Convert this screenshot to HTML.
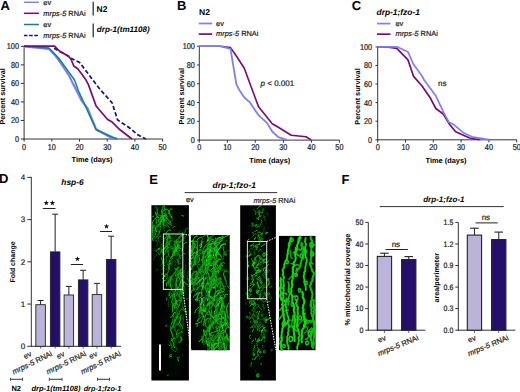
<!DOCTYPE html>
<html><head><meta charset="utf-8"><style>
html,body{margin:0;padding:0;background:#fff;width:520px;height:392px;overflow:hidden}
svg{display:block}
text{font-family:"Liberation Sans",sans-serif;text-rendering:geometricPrecision}
</style></head><body>
<svg width="520" height="392" viewBox="0 0 520 392">
<text x="0.5" y="9.8" font-size="13" font-weight="bold" font-style="normal" text-anchor="start" fill="#000">A</text>
<line x1="23.9" y1="2.3" x2="38.9" y2="2.3" stroke="#7f7ff5" stroke-width="1.5"/>
<text x="43.3" y="5.2" font-size="7.4" font-weight="normal" font-style="normal" text-anchor="start" fill="#222" stroke="#222" stroke-width="0.2">ev</text>
<line x1="23.9" y1="13.3" x2="38.9" y2="13.3" stroke="#780a78" stroke-width="1.5"/>
<text x="43.3" y="16.0" font-size="7.4" font-weight="normal" font-style="normal" text-anchor="start" fill="#222" stroke="#222" stroke-width="0.2"><tspan font-style="italic">mrps-5</tspan> RNAi</text>
<line x1="23.9" y1="24.5" x2="38.9" y2="24.5" stroke="#10808f" stroke-width="1.5"/>
<text x="43.3" y="27.2" font-size="7.4" font-weight="normal" font-style="normal" text-anchor="start" fill="#222" stroke="#222" stroke-width="0.2">ev</text>
<line x1="23.9" y1="35.5" x2="38.9" y2="35.5" stroke="#101080" stroke-width="1.5" stroke-dasharray="3.6 1.6"/>
<text x="43.3" y="38.2" font-size="7.4" font-weight="normal" font-style="normal" text-anchor="start" fill="#222" stroke="#222" stroke-width="0.2"><tspan font-style="italic">mrps-5</tspan> RNAi</text>
<line x1="93.2" y1="1.7" x2="93.2" y2="15.6" stroke="#222" stroke-width="1.2"/>
<text x="96.6" y="11.9" font-size="8.5" font-weight="bold" font-style="normal" text-anchor="start" fill="#000">N2</text>
<line x1="93.2" y1="23.6" x2="93.2" y2="37.2" stroke="#222" stroke-width="1.2"/>
<text x="96.8" y="32.2" font-size="8.1" font-weight="bold" font-style="italic" text-anchor="start" fill="#000">drp-1(tm1108)</text>
<line x1="24.1" y1="46.3" x2="24.1" y2="139.5" stroke="#333" stroke-width="1"/>
<line x1="23.6" y1="139.0" x2="162.6" y2="139.0" stroke="#333" stroke-width="1"/>
<line x1="20.8" y1="139.0" x2="24.1" y2="139.0" stroke="#333" stroke-width="1"/>
<text x="0" y="0" font-size="7.3" font-weight="normal" font-style="normal" text-anchor="end" fill="#222" transform="translate(19.0 142.0) scale(1 1.15)" stroke="#222" stroke-width="0.2">0</text>
<line x1="20.8" y1="120.46000000000001" x2="24.1" y2="120.46000000000001" stroke="#333" stroke-width="1"/>
<text x="0" y="0" font-size="7.3" font-weight="normal" font-style="normal" text-anchor="end" fill="#222" transform="translate(19.0 123.46000000000001) scale(1 1.15)" stroke="#222" stroke-width="0.2">20</text>
<line x1="20.8" y1="101.92" x2="24.1" y2="101.92" stroke="#333" stroke-width="1"/>
<text x="0" y="0" font-size="7.3" font-weight="normal" font-style="normal" text-anchor="end" fill="#222" transform="translate(19.0 104.92) scale(1 1.15)" stroke="#222" stroke-width="0.2">40</text>
<line x1="20.8" y1="83.38" x2="24.1" y2="83.38" stroke="#333" stroke-width="1"/>
<text x="0" y="0" font-size="7.3" font-weight="normal" font-style="normal" text-anchor="end" fill="#222" transform="translate(19.0 86.38) scale(1 1.15)" stroke="#222" stroke-width="0.2">60</text>
<line x1="20.8" y1="64.84" x2="24.1" y2="64.84" stroke="#333" stroke-width="1"/>
<text x="0" y="0" font-size="7.3" font-weight="normal" font-style="normal" text-anchor="end" fill="#222" transform="translate(19.0 67.84) scale(1 1.15)" stroke="#222" stroke-width="0.2">80</text>
<line x1="20.8" y1="46.3" x2="24.1" y2="46.3" stroke="#333" stroke-width="1"/>
<text x="0" y="0" font-size="7.3" font-weight="normal" font-style="normal" text-anchor="end" fill="#222" transform="translate(19.0 49.3) scale(1 1.15)" stroke="#222" stroke-width="0.2">100</text>
<line x1="24.1" y1="139.0" x2="24.1" y2="141.6" stroke="#333" stroke-width="1"/>
<text x="0" y="0" font-size="7.3" font-weight="normal" font-style="normal" text-anchor="middle" fill="#222" transform="translate(24.1 150.10000000000002) scale(1 1.15)" stroke="#222" stroke-width="0.2">0</text>
<line x1="51.8" y1="139.0" x2="51.8" y2="141.6" stroke="#333" stroke-width="1"/>
<text x="0" y="0" font-size="7.3" font-weight="normal" font-style="normal" text-anchor="middle" fill="#222" transform="translate(51.8 150.10000000000002) scale(1 1.15)" stroke="#222" stroke-width="0.2">10</text>
<line x1="79.5" y1="139.0" x2="79.5" y2="141.6" stroke="#333" stroke-width="1"/>
<text x="0" y="0" font-size="7.3" font-weight="normal" font-style="normal" text-anchor="middle" fill="#222" transform="translate(79.5 150.10000000000002) scale(1 1.15)" stroke="#222" stroke-width="0.2">20</text>
<line x1="107.19999999999999" y1="139.0" x2="107.19999999999999" y2="141.6" stroke="#333" stroke-width="1"/>
<text x="0" y="0" font-size="7.3" font-weight="normal" font-style="normal" text-anchor="middle" fill="#222" transform="translate(107.19999999999999 150.10000000000002) scale(1 1.15)" stroke="#222" stroke-width="0.2">30</text>
<line x1="134.9" y1="139.0" x2="134.9" y2="141.6" stroke="#333" stroke-width="1"/>
<text x="0" y="0" font-size="7.3" font-weight="normal" font-style="normal" text-anchor="middle" fill="#222" transform="translate(134.9 150.10000000000002) scale(1 1.15)" stroke="#222" stroke-width="0.2">40</text>
<line x1="162.6" y1="139.0" x2="162.6" y2="141.6" stroke="#333" stroke-width="1"/>
<text x="0" y="0" font-size="7.3" font-weight="normal" font-style="normal" text-anchor="middle" fill="#222" transform="translate(162.6 150.10000000000002) scale(1 1.15)" stroke="#222" stroke-width="0.2">50</text>
<text x="5.5" y="96.4" font-size="7.3" font-weight="bold" font-style="normal" text-anchor="middle" fill="#000" transform="rotate(-90 5.5 96.4)">Percent survival</text>
<text x="92" y="162.0" font-size="7.4" font-weight="bold" font-style="normal" text-anchor="middle" fill="#000">Time (days)</text>
<path d="M24.1,46.5 L48.8,48.8 L54.6,54.6 L61.3,63.8 L69.1,75.6 L72.9,83.6 L81.3,100.0 L87.7,108.6 L96.1,129.2 L112.2,138.2 L118.3,139.0" fill="none" stroke="#7f7ff5" stroke-width="2.2" stroke-linejoin="round"/>
<path d="M24.1,46.3 L48.8,48.0 L58.4,57.8 L69.1,72.4 L74.5,80.0 L78.3,90.5 L96.1,129.8 L116.8,139.0" fill="none" stroke="#10808f" stroke-width="1.5" stroke-linejoin="round"/>
<path d="M54.1,48.2 L58.6,50.9 L68.1,55.9 L71.4,58.6 L75.8,60.7 L79.6,62.6 L83.0,66.9 L88.8,74.6 L99.7,89.0 L112.2,103.0 L117.5,119.8 L129.0,127.5 L138.2,135.1 L145.8,139.0" fill="none" stroke="#101080" stroke-width="1.7" stroke-linejoin="round" stroke-dasharray="4.2 2.3"/>
<path d="M24.1,46.1 L54.5,46.1 L59.4,51.0 L68.1,55.9 L71.0,59.2 L73.8,66.0 L77.7,68.8 L81.5,73.7 L85.9,79.8 L88.4,84.6 L96.1,106.0 L107.6,119.5 L112.2,122.1 L119.0,129.0 L132.0,139.0" fill="none" stroke="#780a78" stroke-width="1.7" stroke-linejoin="round"/>
<text x="177" y="9.8" font-size="13" font-weight="bold" font-style="normal" text-anchor="start" fill="#000">B</text>
<text x="199.1" y="14.8" font-size="8.5" font-weight="bold" font-style="normal" text-anchor="start" fill="#000">N2</text>
<line x1="198.8" y1="23.5" x2="212.2" y2="23.5" stroke="#7f7ff5" stroke-width="1.7"/>
<text x="216.1" y="26.4" font-size="7.4" font-weight="normal" font-style="normal" text-anchor="start" fill="#222" stroke="#222" stroke-width="0.2">ev</text>
<line x1="198.8" y1="34.1" x2="212.2" y2="34.1" stroke="#780a78" stroke-width="1.7"/>
<text x="216.1" y="36.4" font-size="7.4" font-weight="normal" font-style="normal" text-anchor="start" fill="#222" stroke="#222" stroke-width="0.2"><tspan font-style="italic">mrps-5</tspan> RNAi</text>
<line x1="199.3" y1="46.2" x2="199.3" y2="140.6" stroke="#333" stroke-width="1"/>
<line x1="198.8" y1="140.1" x2="339.4" y2="140.1" stroke="#333" stroke-width="1"/>
<line x1="197.10000000000002" y1="140.1" x2="199.3" y2="140.1" stroke="#333" stroke-width="1"/>
<text x="0" y="0" font-size="7.3" font-weight="normal" font-style="normal" text-anchor="end" fill="#222" transform="translate(194.9 143.1) scale(1 1.15)" stroke="#222" stroke-width="0.2">0</text>
<line x1="197.10000000000002" y1="121.32" x2="199.3" y2="121.32" stroke="#333" stroke-width="1"/>
<text x="0" y="0" font-size="7.3" font-weight="normal" font-style="normal" text-anchor="end" fill="#222" transform="translate(194.9 124.32) scale(1 1.15)" stroke="#222" stroke-width="0.2">20</text>
<line x1="197.10000000000002" y1="102.53999999999999" x2="199.3" y2="102.53999999999999" stroke="#333" stroke-width="1"/>
<text x="0" y="0" font-size="7.3" font-weight="normal" font-style="normal" text-anchor="end" fill="#222" transform="translate(194.9 105.53999999999999) scale(1 1.15)" stroke="#222" stroke-width="0.2">40</text>
<line x1="197.10000000000002" y1="83.75999999999999" x2="199.3" y2="83.75999999999999" stroke="#333" stroke-width="1"/>
<text x="0" y="0" font-size="7.3" font-weight="normal" font-style="normal" text-anchor="end" fill="#222" transform="translate(194.9 86.75999999999999) scale(1 1.15)" stroke="#222" stroke-width="0.2">60</text>
<line x1="197.10000000000002" y1="64.98" x2="199.3" y2="64.98" stroke="#333" stroke-width="1"/>
<text x="0" y="0" font-size="7.3" font-weight="normal" font-style="normal" text-anchor="end" fill="#222" transform="translate(194.9 67.98) scale(1 1.15)" stroke="#222" stroke-width="0.2">80</text>
<line x1="197.10000000000002" y1="46.2" x2="199.3" y2="46.2" stroke="#333" stroke-width="1"/>
<text x="0" y="0" font-size="7.3" font-weight="normal" font-style="normal" text-anchor="end" fill="#222" transform="translate(194.9 49.2) scale(1 1.15)" stroke="#222" stroke-width="0.2">100</text>
<line x1="199.3" y1="140.1" x2="199.3" y2="142.7" stroke="#333" stroke-width="1"/>
<text x="0" y="0" font-size="7.3" font-weight="normal" font-style="normal" text-anchor="middle" fill="#222" transform="translate(199.3 150.4) scale(1 1.15)" stroke="#222" stroke-width="0.2">0</text>
<line x1="227.32" y1="140.1" x2="227.32" y2="142.7" stroke="#333" stroke-width="1"/>
<text x="0" y="0" font-size="7.3" font-weight="normal" font-style="normal" text-anchor="middle" fill="#222" transform="translate(227.32 150.4) scale(1 1.15)" stroke="#222" stroke-width="0.2">10</text>
<line x1="255.34" y1="140.1" x2="255.34" y2="142.7" stroke="#333" stroke-width="1"/>
<text x="0" y="0" font-size="7.3" font-weight="normal" font-style="normal" text-anchor="middle" fill="#222" transform="translate(255.34 150.4) scale(1 1.15)" stroke="#222" stroke-width="0.2">20</text>
<line x1="283.36" y1="140.1" x2="283.36" y2="142.7" stroke="#333" stroke-width="1"/>
<text x="0" y="0" font-size="7.3" font-weight="normal" font-style="normal" text-anchor="middle" fill="#222" transform="translate(283.36 150.4) scale(1 1.15)" stroke="#222" stroke-width="0.2">30</text>
<line x1="311.38" y1="140.1" x2="311.38" y2="142.7" stroke="#333" stroke-width="1"/>
<text x="0" y="0" font-size="7.3" font-weight="normal" font-style="normal" text-anchor="middle" fill="#222" transform="translate(311.38 150.4) scale(1 1.15)" stroke="#222" stroke-width="0.2">40</text>
<line x1="339.4" y1="140.1" x2="339.4" y2="142.7" stroke="#333" stroke-width="1"/>
<text x="0" y="0" font-size="7.3" font-weight="normal" font-style="normal" text-anchor="middle" fill="#222" transform="translate(339.4 150.4) scale(1 1.15)" stroke="#222" stroke-width="0.2">50</text>
<text x="184.1" y="96.2" font-size="7.3" font-weight="bold" font-style="normal" text-anchor="middle" fill="#000" transform="rotate(-90 184.1 96.2)">Percent survival</text>
<text x="269.8" y="162.7" font-size="7.4" font-weight="bold" font-style="normal" text-anchor="middle" fill="#000">Time (days)</text>
<path d="M199.3,46.2 L220.1,46.2 L230.5,47.6 L235.5,54.7 L244.3,68.3 L252.3,90.0 L258.4,106.4 L272.2,123.7 L278.3,127.2 L291.2,135.3 L306.0,136.7 L311.1,139.9" fill="none" stroke="#780a78" stroke-width="1.6" stroke-linejoin="round"/>
<path d="M199.3,46.2 L220.1,46.2 L230.5,48.8 L236.4,84.4 L239.3,90.0 L244.5,97.8 L249.7,102.1 L258.4,115.1 L267.0,122.9 L272.2,131.5 L278.3,137.1 L286.9,139.9" fill="none" stroke="#7f7ff5" stroke-width="1.8" stroke-linejoin="round"/>
<text x="260.6" y="86.2" font-size="8" font-weight="normal" font-style="normal" text-anchor="start" fill="#222" stroke="#222" stroke-width="0.2"><tspan font-style="italic">p</tspan> &lt; 0.001</text>
<text x="351.7" y="9.8" font-size="13" font-weight="bold" font-style="normal" text-anchor="start" fill="#000">C</text>
<text x="376.6" y="14.9" font-size="8.4" font-weight="bold" font-style="italic" text-anchor="start" fill="#000">drp-1;fzo-1</text>
<line x1="377" y1="23.6" x2="390.4" y2="23.6" stroke="#7f7ff5" stroke-width="1.7"/>
<text x="395.5" y="26.3" font-size="7.4" font-weight="normal" font-style="normal" text-anchor="start" fill="#222" stroke="#222" stroke-width="0.2">ev</text>
<line x1="377" y1="34.2" x2="390.4" y2="34.2" stroke="#780a78" stroke-width="1.7"/>
<text x="395.5" y="36.4" font-size="7.4" font-weight="normal" font-style="normal" text-anchor="start" fill="#222" stroke="#222" stroke-width="0.2"><tspan font-style="italic">mrps-5</tspan> RNAi</text>
<line x1="377.7" y1="46.9" x2="377.7" y2="140.3" stroke="#333" stroke-width="1"/>
<line x1="377.2" y1="139.8" x2="516.7" y2="139.8" stroke="#333" stroke-width="1"/>
<line x1="375.5" y1="139.8" x2="377.7" y2="139.8" stroke="#333" stroke-width="1"/>
<text x="0" y="0" font-size="7.3" font-weight="normal" font-style="normal" text-anchor="end" fill="#222" transform="translate(372.09999999999997 142.8) scale(1 1.15)" stroke="#222" stroke-width="0.2">0</text>
<line x1="375.5" y1="121.22000000000001" x2="377.7" y2="121.22000000000001" stroke="#333" stroke-width="1"/>
<text x="0" y="0" font-size="7.3" font-weight="normal" font-style="normal" text-anchor="end" fill="#222" transform="translate(372.09999999999997 124.22000000000001) scale(1 1.15)" stroke="#222" stroke-width="0.2">20</text>
<line x1="375.5" y1="102.64000000000001" x2="377.7" y2="102.64000000000001" stroke="#333" stroke-width="1"/>
<text x="0" y="0" font-size="7.3" font-weight="normal" font-style="normal" text-anchor="end" fill="#222" transform="translate(372.09999999999997 105.64000000000001) scale(1 1.15)" stroke="#222" stroke-width="0.2">40</text>
<line x1="375.5" y1="84.06" x2="377.7" y2="84.06" stroke="#333" stroke-width="1"/>
<text x="0" y="0" font-size="7.3" font-weight="normal" font-style="normal" text-anchor="end" fill="#222" transform="translate(372.09999999999997 87.06) scale(1 1.15)" stroke="#222" stroke-width="0.2">60</text>
<line x1="375.5" y1="65.48" x2="377.7" y2="65.48" stroke="#333" stroke-width="1"/>
<text x="0" y="0" font-size="7.3" font-weight="normal" font-style="normal" text-anchor="end" fill="#222" transform="translate(372.09999999999997 68.48) scale(1 1.15)" stroke="#222" stroke-width="0.2">80</text>
<line x1="375.5" y1="46.900000000000006" x2="377.7" y2="46.900000000000006" stroke="#333" stroke-width="1"/>
<text x="0" y="0" font-size="7.3" font-weight="normal" font-style="normal" text-anchor="end" fill="#222" transform="translate(372.09999999999997 49.900000000000006) scale(1 1.15)" stroke="#222" stroke-width="0.2">100</text>
<line x1="377.7" y1="139.8" x2="377.7" y2="142.4" stroke="#333" stroke-width="1"/>
<text x="0" y="0" font-size="7.3" font-weight="normal" font-style="normal" text-anchor="middle" fill="#222" transform="translate(377.7 150.10000000000002) scale(1 1.15)" stroke="#222" stroke-width="0.2">0</text>
<line x1="405.5" y1="139.8" x2="405.5" y2="142.4" stroke="#333" stroke-width="1"/>
<text x="0" y="0" font-size="7.3" font-weight="normal" font-style="normal" text-anchor="middle" fill="#222" transform="translate(405.5 150.10000000000002) scale(1 1.15)" stroke="#222" stroke-width="0.2">10</text>
<line x1="433.3" y1="139.8" x2="433.3" y2="142.4" stroke="#333" stroke-width="1"/>
<text x="0" y="0" font-size="7.3" font-weight="normal" font-style="normal" text-anchor="middle" fill="#222" transform="translate(433.3 150.10000000000002) scale(1 1.15)" stroke="#222" stroke-width="0.2">20</text>
<line x1="461.1" y1="139.8" x2="461.1" y2="142.4" stroke="#333" stroke-width="1"/>
<text x="0" y="0" font-size="7.3" font-weight="normal" font-style="normal" text-anchor="middle" fill="#222" transform="translate(461.1 150.10000000000002) scale(1 1.15)" stroke="#222" stroke-width="0.2">30</text>
<line x1="488.90000000000003" y1="139.8" x2="488.90000000000003" y2="142.4" stroke="#333" stroke-width="1"/>
<text x="0" y="0" font-size="7.3" font-weight="normal" font-style="normal" text-anchor="middle" fill="#222" transform="translate(488.90000000000003 150.10000000000002) scale(1 1.15)" stroke="#222" stroke-width="0.2">40</text>
<line x1="516.7" y1="139.8" x2="516.7" y2="142.4" stroke="#333" stroke-width="1"/>
<text x="0" y="0" font-size="7.3" font-weight="normal" font-style="normal" text-anchor="middle" fill="#222" transform="translate(516.7 150.10000000000002) scale(1 1.15)" stroke="#222" stroke-width="0.2">50</text>
<text x="360.2" y="96.5" font-size="7.3" font-weight="bold" font-style="normal" text-anchor="middle" fill="#000" transform="rotate(-90 360.2 96.5)">Percent survival</text>
<text x="446" y="163.3" font-size="7.4" font-weight="bold" font-style="normal" text-anchor="middle" fill="#000">Time (days)</text>
<path d="M377.7,46.9 L388.4,47.2 L396.8,48.4 L408.0,59.9 L413.6,76.4 L422.0,86.0 L430.0,97.4 L435.8,108.5 L443.2,114.0 L449.9,124.8 L455.7,131.7 L462.3,134.7 L469.8,138.0 L479.7,139.6" fill="none" stroke="#780a78" stroke-width="1.7" stroke-linejoin="round"/>
<path d="M377.7,46.9 L397.6,46.9 L408.0,51.9 L413.6,64.5 L422.0,76.0 L424.1,80.0 L435.8,95.8 L444.0,113.2 L449.0,122.3 L454.0,124.8 L463.9,133.1 L473.0,137.2 L488.8,139.6" fill="none" stroke="#7f7ff5" stroke-width="1.7" stroke-linejoin="round"/>
<text x="438.1" y="85.8" font-size="8" font-weight="normal" font-style="normal" text-anchor="start" fill="#222" stroke="#222" stroke-width="0.2">ns</text>
<text x="-0.9" y="183.25" font-size="13" font-weight="bold" font-style="normal" text-anchor="start" fill="#000">D</text>
<line x1="31.3" y1="176.85" x2="31.3" y2="346.8" stroke="#333" stroke-width="1"/>
<line x1="30.8" y1="346.3" x2="121" y2="346.3" stroke="#333" stroke-width="1"/>
<line x1="27.3" y1="346.3" x2="31.3" y2="346.3" stroke="#333" stroke-width="1"/>
<text x="25.3" y="349.2" font-size="8" font-weight="normal" font-style="normal" text-anchor="end" fill="#222" stroke="#222" stroke-width="0.2">0</text>
<line x1="27.3" y1="304.06" x2="31.3" y2="304.06" stroke="#333" stroke-width="1"/>
<text x="25.3" y="306.96" font-size="8" font-weight="normal" font-style="normal" text-anchor="end" fill="#222" stroke="#222" stroke-width="0.2">1</text>
<line x1="27.3" y1="261.82" x2="31.3" y2="261.82" stroke="#333" stroke-width="1"/>
<text x="25.3" y="264.71999999999997" font-size="8" font-weight="normal" font-style="normal" text-anchor="end" fill="#222" stroke="#222" stroke-width="0.2">2</text>
<line x1="27.3" y1="219.58" x2="31.3" y2="219.58" stroke="#333" stroke-width="1"/>
<text x="25.3" y="222.48000000000002" font-size="8" font-weight="normal" font-style="normal" text-anchor="end" fill="#222" stroke="#222" stroke-width="0.2">3</text>
<line x1="27.3" y1="177.34" x2="31.3" y2="177.34" stroke="#333" stroke-width="1"/>
<text x="25.3" y="180.24" font-size="8" font-weight="normal" font-style="normal" text-anchor="end" fill="#222" stroke="#222" stroke-width="0.2">4</text>
<text x="15" y="262" font-size="7" font-weight="bold" font-style="normal" text-anchor="middle" fill="#000" transform="rotate(-90 15 262)">Fold change</text>
<text x="72.5" y="185.3" font-size="8.4" font-weight="bold" font-style="italic" text-anchor="middle" fill="#000">hsp-6</text>
<line x1="40.6" y1="304.6936" x2="40.6" y2="300.51184" stroke="#222" stroke-width="1"/>
<line x1="37.6" y1="300.51184" x2="43.6" y2="300.51184" stroke="#222" stroke-width="1"/>
<rect x="35.85" y="304.6936" width="9.5" height="41.60640000000001" fill="#bcb4d8" stroke="#222" stroke-width="0.9"/>
<line x1="55.15" y1="251.8936" x2="55.15" y2="214.21552000000003" stroke="#222" stroke-width="1"/>
<line x1="52.15" y1="214.21552000000003" x2="58.15" y2="214.21552000000003" stroke="#222" stroke-width="1"/>
<rect x="50.4" y="251.8936" width="9.5" height="94.40640000000002" fill="#24106a" stroke="#222" stroke-width="0.9"/>
<line x1="68.85" y1="294.9784" x2="68.85" y2="286.40368" stroke="#222" stroke-width="1"/>
<line x1="65.85" y1="286.40368" x2="71.85" y2="286.40368" stroke="#222" stroke-width="1"/>
<rect x="64.1" y="294.9784" width="9.5" height="51.32159999999999" fill="#bcb4d8" stroke="#222" stroke-width="0.9"/>
<line x1="83.15" y1="279.89872" x2="83.15" y2="270.26800000000003" stroke="#222" stroke-width="1"/>
<line x1="80.15" y1="270.26800000000003" x2="86.15" y2="270.26800000000003" stroke="#222" stroke-width="1"/>
<rect x="78.4" y="279.89872" width="9.5" height="66.40127999999999" fill="#24106a" stroke="#222" stroke-width="0.9"/>
<line x1="96.95" y1="294.59824000000003" x2="96.95" y2="283.3624" stroke="#222" stroke-width="1"/>
<line x1="93.95" y1="283.3624" x2="99.95" y2="283.3624" stroke="#222" stroke-width="1"/>
<rect x="92.2" y="294.59824000000003" width="9.5" height="51.70175999999998" fill="#bcb4d8" stroke="#222" stroke-width="0.9"/>
<line x1="111.15" y1="259.4968" x2="111.15" y2="236.18032" stroke="#222" stroke-width="1"/>
<line x1="108.15" y1="236.18032" x2="114.15" y2="236.18032" stroke="#222" stroke-width="1"/>
<rect x="106.4" y="259.4968" width="9.5" height="86.8032" fill="#24106a" stroke="#222" stroke-width="0.9"/>
<polygon points="46.30,200.25 46.98,202.12 48.96,202.18 47.39,203.41 47.95,205.32 46.30,204.20 44.65,205.32 45.21,203.41 43.64,202.18 45.62,202.12" fill="#111"/>
<polygon points="52.40,200.25 53.08,202.12 55.06,202.18 53.49,203.41 54.05,205.32 52.40,204.20 50.75,205.32 51.31,203.41 49.74,202.18 51.72,202.12" fill="#111"/>
<line x1="42.8" y1="208.5" x2="55.5" y2="208.5" stroke="#222" stroke-width="1"/>
<polygon points="77.45,256.15 78.13,258.02 80.11,258.08 78.54,259.31 79.10,261.22 77.45,260.10 75.80,261.22 76.36,259.31 74.79,258.08 76.77,258.02" fill="#111"/>
<line x1="70.8" y1="264.5" x2="83" y2="264.5" stroke="#222" stroke-width="1"/>
<polygon points="106.50,223.65 107.18,225.52 109.16,225.58 107.59,226.81 108.15,228.72 106.50,227.60 104.85,228.72 105.41,226.81 103.84,225.58 105.82,225.52" fill="#111"/>
<line x1="100" y1="231.5" x2="112" y2="231.5" stroke="#222" stroke-width="1"/>
<text x="32.25" y="355.7" font-size="7.6" font-weight="normal" font-style="normal" text-anchor="end" fill="#222" transform="rotate(-26 32.25 355.7)" stroke="#222" stroke-width="0.2">ev</text>
<text x="52.9" y="355.4" font-size="7.6" font-weight="normal" font-style="normal" text-anchor="end" fill="#222" transform="rotate(-26 52.9 355.4)" stroke="#222" stroke-width="0.2"><tspan font-style="italic">mrps-5</tspan> RNAi</text>
<text x="65.15" y="355.7" font-size="7.6" font-weight="normal" font-style="normal" text-anchor="end" fill="#222" transform="rotate(-26 65.15 355.7)" stroke="#222" stroke-width="0.2">ev</text>
<text x="86.9" y="355.4" font-size="7.6" font-weight="normal" font-style="normal" text-anchor="end" fill="#222" transform="rotate(-26 86.9 355.4)" stroke="#222" stroke-width="0.2"><tspan font-style="italic">mrps-5</tspan> RNAi</text>
<text x="97.85" y="355.7" font-size="7.6" font-weight="normal" font-style="normal" text-anchor="end" fill="#222" transform="rotate(-26 97.85 355.7)" stroke="#222" stroke-width="0.2">ev</text>
<text x="121.45" y="355.4" font-size="7.6" font-weight="normal" font-style="normal" text-anchor="end" fill="#222" transform="rotate(-26 121.45 355.4)" stroke="#222" stroke-width="0.2"><tspan font-style="italic">mrps-5</tspan> RNAi</text>
<line x1="40.65" y1="346.3" x2="40.65" y2="348.6" stroke="#333" stroke-width="0.8"/>
<line x1="55.199999999999996" y1="346.3" x2="55.199999999999996" y2="348.6" stroke="#333" stroke-width="0.8"/>
<line x1="68.89999999999999" y1="346.3" x2="68.89999999999999" y2="348.6" stroke="#333" stroke-width="0.8"/>
<line x1="83.2" y1="346.3" x2="83.2" y2="348.6" stroke="#333" stroke-width="0.8"/>
<line x1="97.0" y1="346.3" x2="97.0" y2="348.6" stroke="#333" stroke-width="0.8"/>
<line x1="111.2" y1="346.3" x2="111.2" y2="348.6" stroke="#333" stroke-width="0.8"/>
<line x1="10.6" y1="379.3" x2="22.6" y2="379.3" stroke="#444" stroke-width="1.1"/>
<line x1="10.6" y1="377.8" x2="10.6" y2="380.8" stroke="#444" stroke-width="1"/>
<line x1="22.6" y1="377.8" x2="22.6" y2="380.8" stroke="#444" stroke-width="1"/>
<line x1="49.3" y1="379.3" x2="62" y2="379.3" stroke="#444" stroke-width="1.1"/>
<line x1="49.3" y1="377.8" x2="49.3" y2="380.8" stroke="#444" stroke-width="1"/>
<line x1="62" y1="377.8" x2="62" y2="380.8" stroke="#444" stroke-width="1"/>
<line x1="97.6" y1="379.3" x2="109.5" y2="379.3" stroke="#444" stroke-width="1.1"/>
<line x1="97.6" y1="377.8" x2="97.6" y2="380.8" stroke="#444" stroke-width="1"/>
<line x1="109.5" y1="377.8" x2="109.5" y2="380.8" stroke="#444" stroke-width="1"/>
<text x="16.2" y="390.8" font-size="7.5" font-weight="bold" font-style="normal" text-anchor="middle" fill="#000">N2</text>
<text x="56" y="390.8" font-size="7.5" font-weight="bold" font-style="italic" text-anchor="middle" fill="#000">drp-1(tm1108)</text>
<text x="102.5" y="390.8" font-size="7.3" font-weight="bold" font-style="italic" text-anchor="middle" fill="#000">drp-1;fzo-1</text>
<text x="149.2" y="183.7" font-size="13" font-weight="bold" font-style="normal" text-anchor="start" fill="#000">E</text>
<text x="234.2" y="187.6" font-size="8.4" font-weight="bold" font-style="italic" text-anchor="middle" fill="#000">drp-1;fzo-1</text>
<line x1="184.6" y1="192.6" x2="277.2" y2="192.6" stroke="#333" stroke-width="1"/>
<text x="186" y="202.2" font-size="7.3" font-weight="normal" font-style="normal" text-anchor="start" fill="#222" stroke="#222" stroke-width="0.2">ev</text>
<text x="253.5" y="202.6" font-size="7.3" font-weight="normal" font-style="normal" text-anchor="start" fill="#222" stroke="#222" stroke-width="0.2"><tspan font-style="italic">mrps-5</tspan> RNAi</text>
<defs><filter id="soft" x="-5%" y="-5%" width="110%" height="110%"><feGaussianBlur stdDeviation="0.35"/></filter><filter id="haze" x="-10%" y="-10%" width="120%" height="120%"><feGaussianBlur stdDeviation="3"/></filter></defs><g><rect x="151.4" y="205.2" width="37.5" height="175.3" fill="#000"/><rect x="190.9" y="235.0" width="38.79999999999998" height="115.19999999999999" fill="#000"/><rect x="240.2" y="205.3" width="35.69999999999999" height="175.2" fill="#000"/><rect x="279.0" y="235.9" width="36.5" height="114.29999999999998" fill="#000"/><clipPath id="c151"><rect x="151.4" y="205.2" width="37.5" height="175.3"/></clipPath><g clip-path="url(#c151)"><g filter="url(#haze)"><rect x="151.40" y="205.20" width="6.25" height="12.52" fill="#00b000" fill-opacity="0.126"/><rect x="157.65" y="205.20" width="6.25" height="12.52" fill="#00b000" fill-opacity="0.140"/><rect x="163.90" y="205.20" width="6.25" height="12.52" fill="#00b000" fill-opacity="0.126"/><rect x="170.15" y="205.20" width="6.25" height="12.52" fill="#00b000" fill-opacity="0.070"/><rect x="176.40" y="205.20" width="6.25" height="12.52" fill="#00b000" fill-opacity="0.035"/><rect x="182.65" y="205.20" width="6.25" height="12.52" fill="#00b000" fill-opacity="0.049"/><rect x="151.40" y="217.72" width="6.25" height="12.52" fill="#00b000" fill-opacity="0.140"/><rect x="157.65" y="217.72" width="6.25" height="12.52" fill="#00b000" fill-opacity="0.140"/><rect x="163.90" y="217.72" width="6.25" height="12.52" fill="#00b000" fill-opacity="0.105"/><rect x="170.15" y="217.72" width="6.25" height="12.52" fill="#00b000" fill-opacity="0.056"/><rect x="176.40" y="217.72" width="6.25" height="12.52" fill="#00b000" fill-opacity="0.028"/><rect x="182.65" y="217.72" width="6.25" height="12.52" fill="#00b000" fill-opacity="0.049"/><rect x="151.40" y="230.24" width="6.25" height="12.52" fill="#00b000" fill-opacity="0.105"/><rect x="157.65" y="230.24" width="6.25" height="12.52" fill="#00b000" fill-opacity="0.084"/><rect x="163.90" y="230.24" width="6.25" height="12.52" fill="#00b000" fill-opacity="0.140"/><rect x="170.15" y="230.24" width="6.25" height="12.52" fill="#00b000" fill-opacity="0.140"/><rect x="176.40" y="230.24" width="6.25" height="12.52" fill="#00b000" fill-opacity="0.140"/><rect x="182.65" y="230.24" width="6.25" height="12.52" fill="#00b000" fill-opacity="0.070"/><rect x="151.40" y="242.76" width="6.25" height="12.52" fill="#00b000" fill-opacity="0.056"/><rect x="157.65" y="242.76" width="6.25" height="12.52" fill="#00b000" fill-opacity="0.084"/><rect x="163.90" y="242.76" width="6.25" height="12.52" fill="#00b000" fill-opacity="0.140"/><rect x="170.15" y="242.76" width="6.25" height="12.52" fill="#00b000" fill-opacity="0.140"/><rect x="176.40" y="242.76" width="6.25" height="12.52" fill="#00b000" fill-opacity="0.140"/><rect x="182.65" y="242.76" width="6.25" height="12.52" fill="#00b000" fill-opacity="0.070"/><rect x="151.40" y="255.29" width="6.25" height="12.52" fill="#00b000" fill-opacity="0.028"/><rect x="157.65" y="255.29" width="6.25" height="12.52" fill="#00b000" fill-opacity="0.056"/><rect x="163.90" y="255.29" width="6.25" height="12.52" fill="#00b000" fill-opacity="0.140"/><rect x="170.15" y="255.29" width="6.25" height="12.52" fill="#00b000" fill-opacity="0.175"/><rect x="176.40" y="255.29" width="6.25" height="12.52" fill="#00b000" fill-opacity="0.154"/><rect x="182.65" y="255.29" width="6.25" height="12.52" fill="#00b000" fill-opacity="0.084"/><rect x="151.40" y="267.81" width="6.25" height="12.52" fill="#00b000" fill-opacity="0.014"/><rect x="157.65" y="267.81" width="6.25" height="12.52" fill="#00b000" fill-opacity="0.035"/><rect x="163.90" y="267.81" width="6.25" height="12.52" fill="#00b000" fill-opacity="0.140"/><rect x="170.15" y="267.81" width="6.25" height="12.52" fill="#00b000" fill-opacity="0.175"/><rect x="176.40" y="267.81" width="6.25" height="12.52" fill="#00b000" fill-opacity="0.175"/><rect x="182.65" y="267.81" width="6.25" height="12.52" fill="#00b000" fill-opacity="0.105"/><rect x="151.40" y="280.33" width="6.25" height="12.52" fill="#00b000" fill-opacity="0.007"/><rect x="157.65" y="280.33" width="6.25" height="12.52" fill="#00b000" fill-opacity="0.014"/><rect x="163.90" y="280.33" width="6.25" height="12.52" fill="#00b000" fill-opacity="0.084"/><rect x="170.15" y="280.33" width="6.25" height="12.52" fill="#00b000" fill-opacity="0.140"/><rect x="176.40" y="280.33" width="6.25" height="12.52" fill="#00b000" fill-opacity="0.175"/><rect x="182.65" y="280.33" width="6.25" height="12.52" fill="#00b000" fill-opacity="0.105"/><rect x="157.65" y="292.85" width="6.25" height="12.52" fill="#00b000" fill-opacity="0.007"/><rect x="163.90" y="292.85" width="6.25" height="12.52" fill="#00b000" fill-opacity="0.035"/><rect x="170.15" y="292.85" width="6.25" height="12.52" fill="#00b000" fill-opacity="0.126"/><rect x="176.40" y="292.85" width="6.25" height="12.52" fill="#00b000" fill-opacity="0.154"/><rect x="182.65" y="292.85" width="6.25" height="12.52" fill="#00b000" fill-opacity="0.084"/><rect x="163.90" y="305.37" width="6.25" height="12.52" fill="#00b000" fill-opacity="0.021"/><rect x="170.15" y="305.37" width="6.25" height="12.52" fill="#00b000" fill-opacity="0.126"/><rect x="176.40" y="305.37" width="6.25" height="12.52" fill="#00b000" fill-opacity="0.154"/><rect x="182.65" y="305.37" width="6.25" height="12.52" fill="#00b000" fill-opacity="0.056"/><rect x="163.90" y="317.89" width="6.25" height="12.52" fill="#00b000" fill-opacity="0.014"/><rect x="170.15" y="317.89" width="6.25" height="12.52" fill="#00b000" fill-opacity="0.126"/><rect x="176.40" y="317.89" width="6.25" height="12.52" fill="#00b000" fill-opacity="0.154"/><rect x="182.65" y="317.89" width="6.25" height="12.52" fill="#00b000" fill-opacity="0.028"/><rect x="163.90" y="330.41" width="6.25" height="12.52" fill="#00b000" fill-opacity="0.007"/><rect x="170.15" y="330.41" width="6.25" height="12.52" fill="#00b000" fill-opacity="0.112"/><rect x="176.40" y="330.41" width="6.25" height="12.52" fill="#00b000" fill-opacity="0.126"/><rect x="182.65" y="330.41" width="6.25" height="12.52" fill="#00b000" fill-opacity="0.014"/><rect x="163.90" y="342.94" width="6.25" height="12.52" fill="#00b000" fill-opacity="0.007"/><rect x="170.15" y="342.94" width="6.25" height="12.52" fill="#00b000" fill-opacity="0.098"/><rect x="176.40" y="342.94" width="6.25" height="12.52" fill="#00b000" fill-opacity="0.084"/><rect x="163.90" y="355.46" width="6.25" height="12.52" fill="#00b000" fill-opacity="0.007"/><rect x="170.15" y="355.46" width="6.25" height="12.52" fill="#00b000" fill-opacity="0.077"/><rect x="176.40" y="355.46" width="6.25" height="12.52" fill="#00b000" fill-opacity="0.049"/><rect x="163.90" y="367.98" width="6.25" height="12.52" fill="#00b000" fill-opacity="0.014"/><rect x="170.15" y="367.98" width="6.25" height="12.52" fill="#00b000" fill-opacity="0.063"/><rect x="176.40" y="367.98" width="6.25" height="12.52" fill="#00b000" fill-opacity="0.021"/></g></g><clipPath id="c190"><rect x="190.9" y="235.0" width="38.8" height="115.2"/></clipPath><g clip-path="url(#c190)"><g filter="url(#haze)"><rect x="190.90" y="235.00" width="6.47" height="12.80" fill="#00b000" fill-opacity="0.160"/><rect x="197.37" y="235.00" width="6.47" height="12.80" fill="#00b000" fill-opacity="0.160"/><rect x="203.83" y="235.00" width="6.47" height="12.80" fill="#00b000" fill-opacity="0.120"/><rect x="210.30" y="235.00" width="6.47" height="12.80" fill="#00b000" fill-opacity="0.120"/><rect x="216.77" y="235.00" width="6.47" height="12.80" fill="#00b000" fill-opacity="0.120"/><rect x="223.23" y="235.00" width="6.47" height="12.80" fill="#00b000" fill-opacity="0.120"/><rect x="190.90" y="247.80" width="6.47" height="12.80" fill="#00b000" fill-opacity="0.160"/><rect x="197.37" y="247.80" width="6.47" height="12.80" fill="#00b000" fill-opacity="0.160"/><rect x="203.83" y="247.80" width="6.47" height="12.80" fill="#00b000" fill-opacity="0.160"/><rect x="210.30" y="247.80" width="6.47" height="12.80" fill="#00b000" fill-opacity="0.160"/><rect x="216.77" y="247.80" width="6.47" height="12.80" fill="#00b000" fill-opacity="0.120"/><rect x="223.23" y="247.80" width="6.47" height="12.80" fill="#00b000" fill-opacity="0.080"/><rect x="190.90" y="260.60" width="6.47" height="12.80" fill="#00b000" fill-opacity="0.160"/><rect x="197.37" y="260.60" width="6.47" height="12.80" fill="#00b000" fill-opacity="0.120"/><rect x="203.83" y="260.60" width="6.47" height="12.80" fill="#00b000" fill-opacity="0.160"/><rect x="210.30" y="260.60" width="6.47" height="12.80" fill="#00b000" fill-opacity="0.160"/><rect x="216.77" y="260.60" width="6.47" height="12.80" fill="#00b000" fill-opacity="0.160"/><rect x="223.23" y="260.60" width="6.47" height="12.80" fill="#00b000" fill-opacity="0.080"/><rect x="190.90" y="273.40" width="6.47" height="12.80" fill="#00b000" fill-opacity="0.160"/><rect x="197.37" y="273.40" width="6.47" height="12.80" fill="#00b000" fill-opacity="0.120"/><rect x="203.83" y="273.40" width="6.47" height="12.80" fill="#00b000" fill-opacity="0.160"/><rect x="210.30" y="273.40" width="6.47" height="12.80" fill="#00b000" fill-opacity="0.160"/><rect x="216.77" y="273.40" width="6.47" height="12.80" fill="#00b000" fill-opacity="0.160"/><rect x="223.23" y="273.40" width="6.47" height="12.80" fill="#00b000" fill-opacity="0.120"/><rect x="190.90" y="286.20" width="6.47" height="12.80" fill="#00b000" fill-opacity="0.120"/><rect x="197.37" y="286.20" width="6.47" height="12.80" fill="#00b000" fill-opacity="0.120"/><rect x="203.83" y="286.20" width="6.47" height="12.80" fill="#00b000" fill-opacity="0.160"/><rect x="210.30" y="286.20" width="6.47" height="12.80" fill="#00b000" fill-opacity="0.160"/><rect x="216.77" y="286.20" width="6.47" height="12.80" fill="#00b000" fill-opacity="0.160"/><rect x="223.23" y="286.20" width="6.47" height="12.80" fill="#00b000" fill-opacity="0.160"/><rect x="190.90" y="299.00" width="6.47" height="12.80" fill="#00b000" fill-opacity="0.040"/><rect x="197.37" y="299.00" width="6.47" height="12.80" fill="#00b000" fill-opacity="0.120"/><rect x="203.83" y="299.00" width="6.47" height="12.80" fill="#00b000" fill-opacity="0.120"/><rect x="210.30" y="299.00" width="6.47" height="12.80" fill="#00b000" fill-opacity="0.160"/><rect x="216.77" y="299.00" width="6.47" height="12.80" fill="#00b000" fill-opacity="0.160"/><rect x="223.23" y="299.00" width="6.47" height="12.80" fill="#00b000" fill-opacity="0.200"/><rect x="190.90" y="311.80" width="6.47" height="12.80" fill="#00b000" fill-opacity="0.024"/><rect x="197.37" y="311.80" width="6.47" height="12.80" fill="#00b000" fill-opacity="0.120"/><rect x="203.83" y="311.80" width="6.47" height="12.80" fill="#00b000" fill-opacity="0.120"/><rect x="210.30" y="311.80" width="6.47" height="12.80" fill="#00b000" fill-opacity="0.120"/><rect x="216.77" y="311.80" width="6.47" height="12.80" fill="#00b000" fill-opacity="0.200"/><rect x="223.23" y="311.80" width="6.47" height="12.80" fill="#00b000" fill-opacity="0.200"/><rect x="190.90" y="324.60" width="6.47" height="12.80" fill="#00b000" fill-opacity="0.024"/><rect x="197.37" y="324.60" width="6.47" height="12.80" fill="#00b000" fill-opacity="0.120"/><rect x="203.83" y="324.60" width="6.47" height="12.80" fill="#00b000" fill-opacity="0.120"/><rect x="210.30" y="324.60" width="6.47" height="12.80" fill="#00b000" fill-opacity="0.160"/><rect x="216.77" y="324.60" width="6.47" height="12.80" fill="#00b000" fill-opacity="0.200"/><rect x="223.23" y="324.60" width="6.47" height="12.80" fill="#00b000" fill-opacity="0.160"/><rect x="190.90" y="337.40" width="6.47" height="12.80" fill="#00b000" fill-opacity="0.016"/><rect x="197.37" y="337.40" width="6.47" height="12.80" fill="#00b000" fill-opacity="0.080"/><rect x="203.83" y="337.40" width="6.47" height="12.80" fill="#00b000" fill-opacity="0.120"/><rect x="210.30" y="337.40" width="6.47" height="12.80" fill="#00b000" fill-opacity="0.160"/><rect x="216.77" y="337.40" width="6.47" height="12.80" fill="#00b000" fill-opacity="0.160"/><rect x="223.23" y="337.40" width="6.47" height="12.80" fill="#00b000" fill-opacity="0.160"/></g></g><clipPath id="c240"><rect x="240.2" y="205.3" width="35.7" height="175.2"/></clipPath><g clip-path="url(#c240)"><g filter="url(#haze)"><rect x="246.15" y="205.30" width="5.95" height="12.51" fill="#00b000" fill-opacity="0.010"/><rect x="252.10" y="205.30" width="5.95" height="12.51" fill="#00b000" fill-opacity="0.060"/><rect x="258.05" y="205.30" width="5.95" height="12.51" fill="#00b000" fill-opacity="0.075"/><rect x="264.00" y="205.30" width="5.95" height="12.51" fill="#00b000" fill-opacity="0.030"/><rect x="246.15" y="217.81" width="5.95" height="12.51" fill="#00b000" fill-opacity="0.015"/><rect x="252.10" y="217.81" width="5.95" height="12.51" fill="#00b000" fill-opacity="0.060"/><rect x="258.05" y="217.81" width="5.95" height="12.51" fill="#00b000" fill-opacity="0.090"/><rect x="264.00" y="217.81" width="5.95" height="12.51" fill="#00b000" fill-opacity="0.040"/><rect x="246.15" y="230.33" width="5.95" height="12.51" fill="#00b000" fill-opacity="0.015"/><rect x="252.10" y="230.33" width="5.95" height="12.51" fill="#00b000" fill-opacity="0.050"/><rect x="258.05" y="230.33" width="5.95" height="12.51" fill="#00b000" fill-opacity="0.090"/><rect x="264.00" y="230.33" width="5.95" height="12.51" fill="#00b000" fill-opacity="0.040"/><rect x="246.15" y="242.84" width="5.95" height="12.51" fill="#00b000" fill-opacity="0.040"/><rect x="252.10" y="242.84" width="5.95" height="12.51" fill="#00b000" fill-opacity="0.090"/><rect x="258.05" y="242.84" width="5.95" height="12.51" fill="#00b000" fill-opacity="0.100"/><rect x="264.00" y="242.84" width="5.95" height="12.51" fill="#00b000" fill-opacity="0.065"/><rect x="246.15" y="255.36" width="5.95" height="12.51" fill="#00b000" fill-opacity="0.060"/><rect x="252.10" y="255.36" width="5.95" height="12.51" fill="#00b000" fill-opacity="0.100"/><rect x="258.05" y="255.36" width="5.95" height="12.51" fill="#00b000" fill-opacity="0.100"/><rect x="264.00" y="255.36" width="5.95" height="12.51" fill="#00b000" fill-opacity="0.090"/><rect x="269.95" y="255.36" width="5.95" height="12.51" fill="#00b000" fill-opacity="0.005"/><rect x="246.15" y="267.87" width="5.95" height="12.51" fill="#00b000" fill-opacity="0.060"/><rect x="252.10" y="267.87" width="5.95" height="12.51" fill="#00b000" fill-opacity="0.100"/><rect x="258.05" y="267.87" width="5.95" height="12.51" fill="#00b000" fill-opacity="0.100"/><rect x="264.00" y="267.87" width="5.95" height="12.51" fill="#00b000" fill-opacity="0.090"/><rect x="269.95" y="267.87" width="5.95" height="12.51" fill="#00b000" fill-opacity="0.005"/><rect x="246.15" y="280.39" width="5.95" height="12.51" fill="#00b000" fill-opacity="0.060"/><rect x="252.10" y="280.39" width="5.95" height="12.51" fill="#00b000" fill-opacity="0.100"/><rect x="258.05" y="280.39" width="5.95" height="12.51" fill="#00b000" fill-opacity="0.100"/><rect x="264.00" y="280.39" width="5.95" height="12.51" fill="#00b000" fill-opacity="0.090"/><rect x="269.95" y="280.39" width="5.95" height="12.51" fill="#00b000" fill-opacity="0.005"/><rect x="246.15" y="292.90" width="5.95" height="12.51" fill="#00b000" fill-opacity="0.050"/><rect x="252.10" y="292.90" width="5.95" height="12.51" fill="#00b000" fill-opacity="0.090"/><rect x="258.05" y="292.90" width="5.95" height="12.51" fill="#00b000" fill-opacity="0.090"/><rect x="264.00" y="292.90" width="5.95" height="12.51" fill="#00b000" fill-opacity="0.065"/><rect x="269.95" y="292.90" width="5.95" height="12.51" fill="#00b000" fill-opacity="0.005"/><rect x="246.15" y="305.41" width="5.95" height="12.51" fill="#00b000" fill-opacity="0.040"/><rect x="252.10" y="305.41" width="5.95" height="12.51" fill="#00b000" fill-opacity="0.090"/><rect x="258.05" y="305.41" width="5.95" height="12.51" fill="#00b000" fill-opacity="0.090"/><rect x="264.00" y="305.41" width="5.95" height="12.51" fill="#00b000" fill-opacity="0.065"/><rect x="246.15" y="317.93" width="5.95" height="12.51" fill="#00b000" fill-opacity="0.030"/><rect x="252.10" y="317.93" width="5.95" height="12.51" fill="#00b000" fill-opacity="0.100"/><rect x="258.05" y="317.93" width="5.95" height="12.51" fill="#00b000" fill-opacity="0.100"/><rect x="264.00" y="317.93" width="5.95" height="12.51" fill="#00b000" fill-opacity="0.060"/><rect x="246.15" y="330.44" width="5.95" height="12.51" fill="#00b000" fill-opacity="0.020"/><rect x="252.10" y="330.44" width="5.95" height="12.51" fill="#00b000" fill-opacity="0.090"/><rect x="258.05" y="330.44" width="5.95" height="12.51" fill="#00b000" fill-opacity="0.090"/><rect x="264.00" y="330.44" width="5.95" height="12.51" fill="#00b000" fill-opacity="0.040"/><rect x="246.15" y="342.96" width="5.95" height="12.51" fill="#00b000" fill-opacity="0.010"/><rect x="252.10" y="342.96" width="5.95" height="12.51" fill="#00b000" fill-opacity="0.075"/><rect x="258.05" y="342.96" width="5.95" height="12.51" fill="#00b000" fill-opacity="0.075"/><rect x="264.00" y="342.96" width="5.95" height="12.51" fill="#00b000" fill-opacity="0.020"/><rect x="246.15" y="355.47" width="5.95" height="12.51" fill="#00b000" fill-opacity="0.010"/><rect x="252.10" y="355.47" width="5.95" height="12.51" fill="#00b000" fill-opacity="0.060"/><rect x="258.05" y="355.47" width="5.95" height="12.51" fill="#00b000" fill-opacity="0.040"/><rect x="264.00" y="355.47" width="5.95" height="12.51" fill="#00b000" fill-opacity="0.005"/><rect x="246.15" y="367.99" width="5.95" height="12.51" fill="#00b000" fill-opacity="0.010"/><rect x="252.10" y="367.99" width="5.95" height="12.51" fill="#00b000" fill-opacity="0.030"/><rect x="258.05" y="367.99" width="5.95" height="12.51" fill="#00b000" fill-opacity="0.015"/></g></g><clipPath id="c279"><rect x="279.0" y="235.9" width="36.5" height="114.3"/></clipPath><g clip-path="url(#c279)"><g filter="url(#haze)"><rect x="279.00" y="235.90" width="6.08" height="12.70" fill="#00b000" fill-opacity="0.005"/><rect x="285.08" y="235.90" width="6.08" height="12.70" fill="#00b000" fill-opacity="0.040"/><rect x="291.17" y="235.90" width="6.08" height="12.70" fill="#00b000" fill-opacity="0.075"/><rect x="297.25" y="235.90" width="6.08" height="12.70" fill="#00b000" fill-opacity="0.075"/><rect x="303.33" y="235.90" width="6.08" height="12.70" fill="#00b000" fill-opacity="0.075"/><rect x="309.42" y="235.90" width="6.08" height="12.70" fill="#00b000" fill-opacity="0.050"/><rect x="279.00" y="248.60" width="6.08" height="12.70" fill="#00b000" fill-opacity="0.005"/><rect x="285.08" y="248.60" width="6.08" height="12.70" fill="#00b000" fill-opacity="0.040"/><rect x="291.17" y="248.60" width="6.08" height="12.70" fill="#00b000" fill-opacity="0.075"/><rect x="297.25" y="248.60" width="6.08" height="12.70" fill="#00b000" fill-opacity="0.075"/><rect x="303.33" y="248.60" width="6.08" height="12.70" fill="#00b000" fill-opacity="0.075"/><rect x="309.42" y="248.60" width="6.08" height="12.70" fill="#00b000" fill-opacity="0.075"/><rect x="279.00" y="261.30" width="6.08" height="12.70" fill="#00b000" fill-opacity="0.030"/><rect x="285.08" y="261.30" width="6.08" height="12.70" fill="#00b000" fill-opacity="0.060"/><rect x="291.17" y="261.30" width="6.08" height="12.70" fill="#00b000" fill-opacity="0.075"/><rect x="297.25" y="261.30" width="6.08" height="12.70" fill="#00b000" fill-opacity="0.075"/><rect x="303.33" y="261.30" width="6.08" height="12.70" fill="#00b000" fill-opacity="0.075"/><rect x="309.42" y="261.30" width="6.08" height="12.70" fill="#00b000" fill-opacity="0.075"/><rect x="279.00" y="274.00" width="6.08" height="12.70" fill="#00b000" fill-opacity="0.075"/><rect x="285.08" y="274.00" width="6.08" height="12.70" fill="#00b000" fill-opacity="0.075"/><rect x="291.17" y="274.00" width="6.08" height="12.70" fill="#00b000" fill-opacity="0.075"/><rect x="297.25" y="274.00" width="6.08" height="12.70" fill="#00b000" fill-opacity="0.075"/><rect x="303.33" y="274.00" width="6.08" height="12.70" fill="#00b000" fill-opacity="0.075"/><rect x="309.42" y="274.00" width="6.08" height="12.70" fill="#00b000" fill-opacity="0.075"/><rect x="279.00" y="286.70" width="6.08" height="12.70" fill="#00b000" fill-opacity="0.075"/><rect x="285.08" y="286.70" width="6.08" height="12.70" fill="#00b000" fill-opacity="0.075"/><rect x="291.17" y="286.70" width="6.08" height="12.70" fill="#00b000" fill-opacity="0.075"/><rect x="297.25" y="286.70" width="6.08" height="12.70" fill="#00b000" fill-opacity="0.075"/><rect x="303.33" y="286.70" width="6.08" height="12.70" fill="#00b000" fill-opacity="0.075"/><rect x="309.42" y="286.70" width="6.08" height="12.70" fill="#00b000" fill-opacity="0.075"/><rect x="279.00" y="299.40" width="6.08" height="12.70" fill="#00b000" fill-opacity="0.075"/><rect x="285.08" y="299.40" width="6.08" height="12.70" fill="#00b000" fill-opacity="0.075"/><rect x="291.17" y="299.40" width="6.08" height="12.70" fill="#00b000" fill-opacity="0.075"/><rect x="297.25" y="299.40" width="6.08" height="12.70" fill="#00b000" fill-opacity="0.075"/><rect x="303.33" y="299.40" width="6.08" height="12.70" fill="#00b000" fill-opacity="0.075"/><rect x="309.42" y="299.40" width="6.08" height="12.70" fill="#00b000" fill-opacity="0.075"/><rect x="279.00" y="312.10" width="6.08" height="12.70" fill="#00b000" fill-opacity="0.075"/><rect x="285.08" y="312.10" width="6.08" height="12.70" fill="#00b000" fill-opacity="0.075"/><rect x="291.17" y="312.10" width="6.08" height="12.70" fill="#00b000" fill-opacity="0.075"/><rect x="297.25" y="312.10" width="6.08" height="12.70" fill="#00b000" fill-opacity="0.075"/><rect x="303.33" y="312.10" width="6.08" height="12.70" fill="#00b000" fill-opacity="0.075"/><rect x="309.42" y="312.10" width="6.08" height="12.70" fill="#00b000" fill-opacity="0.075"/><rect x="279.00" y="324.80" width="6.08" height="12.70" fill="#00b000" fill-opacity="0.075"/><rect x="285.08" y="324.80" width="6.08" height="12.70" fill="#00b000" fill-opacity="0.075"/><rect x="291.17" y="324.80" width="6.08" height="12.70" fill="#00b000" fill-opacity="0.075"/><rect x="297.25" y="324.80" width="6.08" height="12.70" fill="#00b000" fill-opacity="0.075"/><rect x="303.33" y="324.80" width="6.08" height="12.70" fill="#00b000" fill-opacity="0.075"/><rect x="309.42" y="324.80" width="6.08" height="12.70" fill="#00b000" fill-opacity="0.075"/><rect x="279.00" y="337.50" width="6.08" height="12.70" fill="#00b000" fill-opacity="0.075"/><rect x="285.08" y="337.50" width="6.08" height="12.70" fill="#00b000" fill-opacity="0.075"/><rect x="291.17" y="337.50" width="6.08" height="12.70" fill="#00b000" fill-opacity="0.075"/><rect x="297.25" y="337.50" width="6.08" height="12.70" fill="#00b000" fill-opacity="0.075"/><rect x="303.33" y="337.50" width="6.08" height="12.70" fill="#00b000" fill-opacity="0.075"/><rect x="309.42" y="337.50" width="6.08" height="12.70" fill="#00b000" fill-opacity="0.075"/></g></g><g filter="url(#soft)"><path d="M175.9,313.1 175.0,312.6 174.0,313.1 173.5,314.0 173.0,315.0 172.4,316.0 171.6,316.7 170.7,317.4M175.4,339.0 174.6,338.3 173.5,338.4 172.7,339.2 172.1,340.1M181.3,274.0 180.2,274.0 179.3,274.7 178.5,275.4 178.2,276.4 178.5,277.5 179.3,278.3 180.3,278.8 180.8,279.8 180.7,280.9 180.7,282.0 180.3,283.0 179.7,283.9 179.9,285.0 179.5,286.0M177.4,300.9 176.5,300.3 175.8,301.2 175.5,302.2 175.2,303.3 175.3,304.4 175.5,305.4M175.0,293.7 174.3,294.6 174.5,295.7 174.6,296.8 174.8,297.8 175.0,298.9 175.5,299.9 175.9,300.9 176.4,301.9 176.5,303.0 176.8,304.0 177.2,305.0M171.5,356.9 170.6,356.4 169.6,356.9M165.2,280.4 164.1,280.5 163.4,281.3 162.6,282.1M179.6,271.4 178.5,271.4 177.6,272.0 176.9,272.9 176.5,273.9 176.7,275.0M173.5,325.4 172.9,326.3 172.2,327.2 171.8,328.2 171.2,329.1 170.7,330.1 171.0,331.2 171.7,332.0 172.0,333.1 172.1,334.2 172.4,335.2 172.6,336.3 173.3,337.1M166.7,274.4 165.6,274.0 164.8,274.7 164.3,275.7 163.6,276.6 163.2,277.6 162.6,278.5M182.9,272.1 181.8,272.5 180.8,272.9 179.8,273.4 179.0,274.2M160.0,248.1 159.0,248.6 158.1,249.2M155.1,225.9 154.0,225.9 153.0,226.3 152.5,227.3 152.4,228.4 152.4,229.5 152.7,230.6 152.5,231.6 152.3,232.7M165.1,216.1 164.1,215.8 163.2,216.3 163.5,217.4 163.9,218.4 164.2,219.5 164.1,220.6 164.0,221.7M172.8,248.5 172.9,249.6 173.3,250.6 173.6,251.7 174.1,252.7 174.4,253.7 174.6,254.8 174.9,255.9M184.0,282.1 183.6,283.1 183.6,284.2 183.5,285.3 183.1,286.3 182.3,287.1 182.2,288.2 182.1,289.3 182.0,290.4 182.4,291.4 182.1,292.5 181.8,293.5 182.0,294.6M176.6,247.3 177.0,248.3 176.9,249.4 176.4,250.4 175.6,251.1 174.8,251.9 174.3,252.9 173.9,253.9 173.6,255.0 172.8,255.6 172.3,256.6 171.9,257.7M161.0,215.5 162.0,216.0 162.5,217.0 162.8,218.0 163.3,219.0 164.2,219.5 165.2,219.0 166.2,218.6 167.0,217.8 167.1,216.7 166.6,215.7 165.8,215.0 165.1,214.1 164.7,213.1M169.3,235.3 168.2,235.4 167.6,236.3 167.5,237.4 167.7,238.5 167.3,239.5 167.4,240.6 167.1,241.7 167.4,242.7M181.2,315.2 180.6,316.1 180.3,317.2 180.3,318.3 180.3,319.4 180.2,320.5 179.7,321.5 179.5,322.5 179.9,323.5 180.8,324.2 181.2,325.2 181.7,326.2M181.6,273.6 182.2,274.5 182.9,275.4 183.4,276.4 183.9,277.3M164.4,210.2 165.4,209.8 166.4,209.3 167.4,209.8 168.4,210.4 168.9,211.3 169.4,212.3 169.8,213.3 169.8,214.4 170.4,215.3 171.1,216.1 171.8,217.0 171.9,218.1M161.6,219.6 161.1,220.6 161.0,221.7 160.5,222.7 159.8,223.5 159.0,224.3 158.2,225.1 157.3,225.7 156.7,226.6 156.3,227.6 156.0,228.7 156.0,229.8 156.4,230.8 156.5,231.9M179.2,241.4 178.2,241.0 177.3,241.7 176.7,242.6 176.3,243.6 175.8,244.6 175.4,245.6 175.2,246.7 175.1,247.8 175.4,248.9 175.6,250.0 175.6,251.1 175.7,252.2M182.6,232.8 182.6,233.9 182.0,234.8 181.3,235.6 180.4,236.2 179.5,236.9 178.9,237.8 178.0,238.5M171.1,276.1 171.2,277.2 171.1,278.3 170.8,279.4 170.5,280.4 170.3,281.5 170.1,282.6 170.4,283.6 170.5,284.7 170.6,285.8 170.9,286.8 171.2,287.9 171.7,288.9 171.7,290.0M165.3,276.2 164.3,276.6M182.7,288.6 181.7,288.3 180.9,289.1 180.3,290.0 180.4,291.1 181.3,291.8 182.0,292.6 182.8,293.4 183.8,293.9M167.3,246.9 166.3,246.5 165.4,247.2 164.5,247.9 163.9,248.8 163.5,249.8 163.0,250.8 162.6,251.8 162.3,252.9M172.9,297.4 172.7,298.5 172.6,299.6 172.1,300.6 171.8,301.7 171.8,302.8 172.4,303.6 173.3,304.2 174.2,305.0 174.3,306.1 174.8,307.1 175.4,308.0 176.4,307.5 177.4,307.0 178.3,306.3" fill="none" stroke="#10e810" stroke-width="1.0" stroke-linecap="round" stroke-linejoin="round"/><path d="M163.2,245.5 162.5,244.7 161.4,244.3 160.7,245.2M164.8,259.9 163.7,259.9 163.0,260.8 162.5,261.7M176.4,240.0 176.5,241.1 177.0,242.1 177.1,243.2 176.9,244.3 177.0,245.4 177.9,246.0 178.8,246.5M158.1,252.9 158.8,253.8 159.3,254.8M181.4,235.5 180.3,235.6 179.6,236.4 179.2,237.4 179.4,238.5 179.9,239.5 180.8,240.1 181.8,240.6 182.6,239.8 183.2,238.8 184.1,238.3 184.8,237.4 185.5,236.6M158.5,225.4 157.4,225.1 156.7,225.9 156.8,227.0 156.7,228.1 157.1,229.1 157.6,230.2 158.1,231.1 159.1,231.6M168.3,248.4 167.9,249.5 167.4,250.4 167.5,251.5 167.8,252.6 168.2,253.6 168.6,254.6 168.7,255.7 169.4,256.5 170.1,257.4 170.2,258.5M180.9,275.9 180.7,277.0 180.6,278.0 180.9,279.1 181.1,280.2 181.5,281.2 181.5,282.3 181.8,283.3 181.8,284.4 182.1,285.5 181.8,286.6 182.0,287.7 182.4,288.7 182.2,289.8M182.8,267.3 182.1,268.1 181.5,269.0 180.7,269.8 180.4,270.9 179.6,271.7 179.7,272.8 179.4,273.8M178.6,322.0 178.4,323.1 178.7,324.1 179.0,325.2 179.5,326.2 180.0,327.2 180.5,328.1 181.0,329.1 181.5,330.1 182.0,331.1 182.6,332.0M163.6,249.6 162.5,249.5 161.5,249.9M161.8,250.5 161.4,251.5 160.6,252.3 160.2,253.3 159.6,254.3M177.2,267.8 177.1,268.9 177.3,270.0 177.8,271.0 178.1,272.0 178.6,273.0 179.1,274.0 178.9,275.1M169.1,210.7 169.3,211.8 169.3,212.9 169.8,213.9 169.8,215.0 170.4,215.9 170.6,217.0 171.3,217.8 172.1,218.6 173.0,219.2M177.2,269.0 178.0,269.8 179.0,270.3 179.9,270.9 180.7,271.7 181.4,272.5 181.5,273.6 181.1,274.6 180.6,275.6M166.4,214.3 165.3,214.0 164.6,214.8 164.1,215.8 163.8,216.9 163.2,217.8 162.5,218.6 162.5,219.7M176.8,293.6 176.7,294.7 176.5,295.8 177.4,296.5 178.3,296.0 179.0,295.1 179.9,294.5 180.6,293.6 180.6,292.5 180.3,291.4 180.4,290.3 180.7,289.3 180.6,288.2 180.1,287.2 179.8,286.1M174.1,300.3 174.3,301.3 174.1,302.4 174.0,303.5 174.0,304.6 174.2,305.7M180.6,291.0 180.1,292.0 179.7,293.0 179.7,294.1 180.3,295.0 181.1,295.8 181.9,296.6 182.5,297.5 183.0,298.4M155.5,212.8 155.7,213.9 156.5,214.8 157.3,214.0 157.4,212.9 157.3,211.8 157.2,210.8 157.7,209.8 157.8,208.7 157.9,207.6M183.0,283.9 182.2,283.0 181.2,283.2 180.3,283.9 179.7,284.8 180.1,285.8 180.4,286.9 180.7,287.9 181.0,289.0 181.5,290.0 181.9,291.0 181.7,292.1 181.6,293.1 181.9,294.2 182.2,295.3M174.4,337.2 173.3,337.2 173.1,338.3 172.9,339.4 173.8,340.1 174.3,341.0 174.7,342.1M183.4,235.9 182.3,235.7 181.5,236.5 180.7,237.2 179.9,238.0M178.4,304.6 177.3,304.5 176.9,305.5 176.6,306.6 176.7,307.6 176.7,308.7 177.3,309.7 177.8,310.6 178.4,311.6 179.4,311.1M163.7,260.0 162.8,259.4 161.7,259.2M171.5,294.9 172.2,295.7 173.3,296.1 174.1,296.7 174.8,297.6 175.4,298.6 174.9,299.5 175.5,300.4 175.8,301.5 176.4,302.4 177.1,303.3M155.9,250.1 154.8,250.1 154.0,250.9M179.2,243.9 179.6,244.9 179.5,246.0 179.7,247.1 178.8,247.7 178.1,248.5 177.2,249.2 176.5,250.1 175.8,250.9 174.9,251.5 174.3,252.5 173.7,253.4" fill="none" stroke="#0b940b" stroke-width="0.75" stroke-linecap="round" stroke-linejoin="round"/><path d="M172.6,240.0 171.7,240.5 170.8,241.1 170.0,242.0 169.3,242.8 168.5,243.6 167.6,244.2 166.9,245.0 166.5,246.1M172.9,314.8 173.2,315.8 173.5,316.9 174.0,317.8 174.3,318.9 175.0,319.8 175.5,320.7 176.2,321.6 176.9,322.5 177.3,323.5 177.7,324.5 178.7,325.0 179.5,325.7 180.5,326.2M171.5,293.4 170.4,293.4 169.4,293.8 169.0,294.8 168.7,295.9M166.9,298.0 166.5,299.0 166.7,300.1M173.4,316.2 172.3,316.2 171.2,316.4M173.2,258.7 172.1,258.6 171.6,259.6 170.8,260.4 169.9,261.0 169.0,261.7 168.4,262.5 168.1,263.6 167.7,264.6M164.5,205.9 164.2,206.9 164.2,208.0 164.8,208.9 165.1,210.0M174.4,295.2 173.8,294.2 172.7,294.4 171.8,295.0 171.0,295.7 170.7,296.7 170.4,297.8M172.4,303.4 173.0,304.4 173.5,305.3 173.8,306.4 174.3,307.4 174.5,308.5 174.3,309.5 173.6,310.5 172.9,311.3 172.5,312.3M181.1,246.6 180.2,245.9 179.2,246.3 178.3,246.9 177.8,247.9M167.3,218.6 168.1,219.3 168.6,220.3 169.6,220.7 170.4,221.5 170.6,222.6 170.9,223.6 171.2,224.7 171.7,225.7M165.1,250.7 164.5,249.8 163.4,250.2M168.4,270.1 168.4,271.2 168.1,272.3 167.6,273.3 167.3,274.3 167.4,275.4 167.3,276.5 167.3,277.6 166.8,278.6 165.8,279.1M170.1,342.8 170.5,343.8 170.9,344.8 171.4,345.8 171.8,346.8 172.1,347.9M178.4,306.3 178.2,307.4 177.5,308.2 177.1,309.3 176.6,310.2 176.5,311.3 176.8,312.4 177.4,313.3M160.8,236.4 159.7,236.5 158.8,237.1 158.1,238.0 157.5,238.9M187.2,298.4 186.8,299.4M155.7,206.4 156.0,207.4 156.3,208.5 156.9,209.4 157.3,210.4 157.4,211.5 157.3,212.6 157.2,213.7 156.8,214.7 157.0,215.8 157.5,216.8 158.1,217.7 158.3,218.8 158.4,219.9 158.3,221.0M161.3,257.3 161.4,258.4 162.0,259.2 162.2,260.3M184.8,253.8 183.7,253.6 182.9,254.4 182.0,255.0 181.0,255.4 180.2,256.1 179.3,256.7 179.2,257.8 178.9,258.9M170.9,240.8 170.0,240.2 169.3,241.0 169.0,242.1 168.6,243.1 167.9,243.9 167.5,245.0M159.2,226.3 158.1,226.1 157.1,226.5 156.3,227.2 155.2,227.6 154.6,228.5M182.9,324.5 183.1,325.6 182.7,326.6 182.8,327.7 182.6,328.8M182.2,308.8 182.7,309.7 183.5,310.5 184.3,311.2 185.1,312.0M180.3,269.5 179.8,270.5 180.2,271.5 180.4,272.5 181.4,273.0 181.6,274.1 181.1,275.1 180.6,276.0 180.7,277.1 180.5,278.2 180.3,279.3 179.8,280.3 179.8,281.4 180.1,282.4M156.1,222.6 156.4,223.7 157.1,224.5 157.8,225.4 158.5,226.2 159.3,226.9 160.1,227.7 160.4,228.7 160.8,229.8M151.6,227.4 151.5,228.5 151.9,229.5 152.3,230.5 152.5,231.6 152.2,232.7 152.0,233.8 152.3,234.8 152.3,235.9 151.9,236.9 152.0,238.0 152.7,238.9 153.3,239.8 153.7,240.8M172.0,339.9 171.1,340.5 170.4,341.4M175.7,290.7 174.6,290.7 173.8,291.5 173.7,292.6 173.5,293.7 173.2,294.7 172.6,295.6 172.3,296.7M180.2,291.5 179.7,292.5 179.7,293.6 179.8,294.7 179.5,295.7 179.3,296.8 179.2,297.9 179.4,299.0 180.0,299.9 180.7,300.8 181.2,301.7M172.3,296.3 171.3,295.9 170.3,296.5 169.5,297.3M170.6,277.4 169.5,277.0 168.7,277.7 168.1,278.7 167.9,279.7 168.2,280.8 168.5,281.8 168.7,282.9 168.7,284.0 168.9,285.1 169.4,286.1 170.4,286.6M188.0,286.2 188.9,286.8M168.4,375.0 167.3,375.2M186.4,314.1 186.6,315.1M173.1,227.4 174.1,226.8 175.0,226.3M157.3,213.8 158.0,214.6 159.0,215.1 160.0,215.5 160.9,216.1 161.8,216.8 162.4,217.7 163.2,218.5 163.9,219.3 164.8,220.0 165.5,220.8M164.7,208.0 164.8,209.1 164.8,210.2 165.2,211.3 165.6,212.3 166.0,213.3 165.9,214.4 165.7,215.5 166.1,216.5 166.6,217.5 167.3,218.3 167.6,219.4 168.3,220.2 169.0,221.1 169.6,222.0M161.7,216.0 162.3,217.0 162.5,218.1 162.9,219.1 163.3,220.1 164.3,220.5 165.1,221.3 165.6,222.3 166.0,223.3 166.2,224.4 167.1,225.1 168.1,225.6 168.3,226.7 169.2,227.3M170.9,236.3 169.8,236.3 169.0,237.2 168.3,238.0 167.8,239.0 167.6,240.1 167.0,241.0 166.5,241.9 166.0,242.9 166.2,244.0 166.7,245.0 167.5,245.8 167.9,246.8 168.0,247.9M177.8,286.9 177.8,288.0 177.5,289.1 177.3,290.1 177.1,291.2 176.6,292.2 177.2,293.0 177.8,294.0 178.5,294.8 179.0,295.8 179.4,296.8 180.1,297.7 181.1,298.1 181.7,299.0M177.0,251.3 177.0,252.4 177.5,253.3 178.5,253.7 179.2,254.5 179.8,255.4M175.7,245.9 174.7,246.2 174.0,247.0 173.1,247.7 172.2,248.3 171.1,248.7 170.2,249.2 169.4,249.9 168.4,250.4 167.5,251.1 167.1,252.2M161.6,210.0 161.9,211.1 162.1,212.2 162.1,213.3 162.6,214.3 162.4,215.4M179.6,293.0 180.0,294.0 181.0,293.6 181.9,293.0 182.8,292.3 183.4,291.5 183.3,290.4 182.4,289.7 181.6,288.9 181.1,288.0 180.3,287.2 179.4,286.5M172.6,279.4 172.2,278.4 171.1,278.4 170.1,278.8 169.3,279.6 169.0,280.6 168.4,281.6 167.9,282.6 166.9,283.0 166.0,283.5M188.2,228.6 187.3,228.0 186.4,228.6 185.7,229.4 185.3,230.4 185.1,231.5 184.9,232.6 184.6,233.7 184.1,234.7 183.6,235.6 183.6,236.7 183.8,237.8 183.8,238.9" fill="none" stroke="#0b940b" stroke-width="1.0" stroke-linecap="round" stroke-linejoin="round"/><path d="M162.5,218.1 163.1,219.0 163.2,220.1 163.0,221.2 163.2,222.3 163.1,223.4 163.6,224.4 164.3,225.2 165.3,225.6 166.3,226.1M181.4,276.0 181.9,277.0 182.0,278.1 181.9,279.2 182.1,280.3 183.1,280.7 183.8,281.6 184.4,282.5 185.3,283.2 186.1,283.9 187.0,284.5 188.1,284.8M179.4,273.6 178.4,274.0 177.7,274.8 177.5,275.9 177.2,277.0 176.9,278.0 176.6,279.1 176.5,280.2 176.8,281.3 176.9,282.3 176.5,283.4 176.3,284.5 176.8,285.4 177.6,286.2M156.0,217.8 155.3,218.6 154.7,219.5 154.0,220.4 153.0,220.9 152.6,221.9 152.4,223.0 152.3,224.1 152.5,225.2 152.2,226.2 152.3,227.3 152.4,228.4M157.9,216.9 156.9,217.1 155.9,217.6 155.7,218.7 156.3,219.6 156.2,220.7 156.3,221.8 156.4,222.9M164.6,248.3 163.6,248.7 162.8,249.4 161.8,249.9 161.3,250.9 161.1,252.0M178.9,330.1 177.8,330.1 177.2,331.0 176.8,332.0 176.7,333.1 176.3,334.1 176.8,335.1 176.9,336.2 177.1,337.3M171.1,264.0 170.4,263.2 169.4,263.7 168.8,264.6 168.3,265.6 168.1,266.6 168.5,267.7 168.9,268.7M164.6,215.4 163.5,215.3 162.5,215.8 161.6,216.3 160.6,216.8 160.7,217.9 160.6,219.0 161.1,219.9 161.3,221.0 160.9,222.0 160.5,223.1 160.3,224.1 160.0,225.2 160.3,226.2 160.7,227.3M162.2,273.6 162.0,274.6M165.1,289.0 164.0,289.4M174.2,241.0 174.6,242.0 175.2,242.9 174.9,244.0 174.4,245.0 174.8,246.0 175.0,247.1 175.2,248.2 175.9,249.0 176.4,250.0 176.7,251.0 176.7,252.1 177.0,253.2 177.0,254.3 177.5,255.3M171.9,355.3 171.1,354.5 170.1,354.9 169.5,355.8M155.7,212.2 155.7,213.3 156.0,214.3 156.2,215.4 156.9,216.3 157.8,216.9 158.6,217.7M170.3,247.2 169.2,247.0 168.4,247.8 167.6,248.5 167.0,249.4 166.2,250.2 165.8,251.2 165.5,252.3 165.1,253.3 164.4,254.1 163.8,255.1 163.2,256.0M155.0,227.2 155.3,228.2 155.6,229.3 155.8,230.4 155.1,231.2 155.6,232.2 155.5,233.3 155.6,234.4 155.0,235.3 154.7,236.4 153.8,237.0 153.0,237.7 152.7,238.8 152.6,239.9M169.9,345.7 169.0,345.1M186.9,278.3 187.6,279.2 188.2,280.1 188.7,281.1" fill="none" stroke="#10e810" stroke-width="0.75" stroke-linecap="round" stroke-linejoin="round"/><path d="M182.3,309.8 181.5,308.9 180.6,309.6 180.3,310.6 179.6,311.4 179.3,312.5 179.1,313.6 178.9,314.7M172.2,220.4 171.2,220.9 170.3,221.5 169.8,222.5 169.0,223.2 168.0,223.6M172.7,319.1 172.7,320.1 172.8,321.2 172.1,322.1 171.5,323.0 171.3,324.1 171.2,325.2 170.5,326.0 170.2,327.1 170.4,328.2M181.3,251.5 180.4,250.8 179.4,250.5 178.7,251.4 178.7,252.5 178.7,253.6 178.8,254.7 179.4,255.7 180.0,256.6 180.3,257.7 180.4,258.7M181.8,269.1 181.9,270.2 182.1,271.3 182.0,272.4 181.7,273.5 181.3,274.5 180.8,275.5 180.2,276.4 179.8,277.4 179.5,278.5M156.7,240.6 155.8,241.3M180.7,281.0 180.4,282.0 180.4,283.1 180.1,284.2 180.3,285.3 181.1,286.1M154.9,230.6 153.9,230.0 152.9,230.4 152.3,231.4 152.3,232.5 152.7,233.5 152.8,234.6 152.9,235.7 152.6,236.8M165.8,217.5 164.8,217.1 163.7,217.2 163.4,218.3 163.2,219.4 163.7,220.3 164.6,221.0 165.6,221.4 166.5,221.9 167.5,222.4 168.4,223.1 169.2,223.8 170.1,224.5 171.0,224.0M178.0,239.5 176.9,239.2 176.3,240.1 176.0,241.2 175.5,242.1 174.7,242.9M162.0,220.2 161.0,219.9 160.4,220.8 160.0,221.9 159.9,223.0 159.7,224.0 159.6,225.1M180.7,316.4 179.8,316.9 179.1,317.7 178.8,318.8 179.0,319.9 179.5,320.9 179.9,321.9M166.7,256.4 166.1,257.4 166.1,258.5 166.1,259.6 166.4,260.6 165.9,261.7 165.2,262.5 164.3,263.1M177.3,287.3 177.5,288.3 177.7,289.4 178.4,290.3 178.4,291.4 177.9,292.4 177.4,293.4 177.1,294.4 176.3,295.2M177.8,277.6 177.2,278.5 176.9,279.6 177.0,280.7 176.7,281.7 176.1,282.6 175.8,283.7 175.8,284.8 176.1,285.9 175.9,286.9 175.5,288.0 175.1,289.0 175.2,290.1M179.3,279.1 180.0,280.0 180.9,280.6 181.3,281.6 182.0,282.5 182.6,283.4 183.3,284.3 183.6,285.3 183.5,286.4M168.1,251.4 168.3,252.5 168.7,253.5 168.4,254.5 168.1,255.6 167.9,256.7M170.4,241.9 169.4,241.6 168.4,242.1 167.4,242.6 166.4,243.1 165.9,244.1 165.7,245.2 165.8,246.3 164.9,247.0 165.1,248.1 165.6,249.1M178.3,241.6 178.2,242.6 177.7,243.7 177.6,244.7 177.3,245.8 176.7,246.7 176.5,247.8M176.9,313.5 176.9,314.6 177.1,315.7 176.8,316.8 176.7,317.9 176.8,319.0 176.1,319.8 175.3,320.6 175.2,321.7 174.7,322.7 174.5,323.7 174.3,324.8M177.4,324.6 176.3,324.7 175.6,325.6 175.1,326.5 174.7,327.6 174.6,328.7 175.2,329.6 175.2,330.7M166.7,220.5 165.6,220.2 164.5,220.2 163.5,220.6 163.1,221.6 163.1,222.7 163.0,223.8 163.2,224.9 163.8,225.9 164.0,226.9 164.1,228.0M179.3,313.9 178.2,314.2 177.4,314.9 177.1,316.0 177.4,317.0 177.2,318.1 176.2,318.6 175.5,319.4 174.8,320.2 174.0,321.0 173.4,321.9 172.5,322.6 171.8,323.4M165.6,209.2 164.5,209.4 163.6,210.1 163.1,211.1 162.4,211.9 162.1,212.9M173.2,290.3 172.3,289.6 171.4,290.2 170.5,290.9 169.7,291.6 169.1,292.5 169.1,293.6 169.4,294.7 169.7,295.8M176.2,280.6 175.9,281.6 175.7,282.7 175.3,283.7 175.6,284.8 176.0,285.8 176.2,286.9 176.7,287.9" fill="none" stroke="#12bc12" stroke-width="0.75" stroke-linecap="round" stroke-linejoin="round"/><path d="M183.0,314.7 183.0,315.8 183.2,316.9 183.6,317.9 183.4,319.0 183.3,320.1 183.3,321.2 183.2,322.3 183.1,323.4M178.8,258.4 178.6,259.5 178.6,260.6 178.7,261.7 178.6,262.8M173.7,244.5 173.7,245.6 173.3,246.6 173.2,247.7 173.9,248.5 174.0,249.6 173.5,250.6 172.7,251.4 171.8,252.0M177.3,252.3 176.2,252.5 175.4,253.2 174.6,253.9 173.8,254.7 173.0,255.4 172.5,256.4 172.1,257.4 171.7,258.5 171.6,259.6 171.9,260.6 172.0,261.7 172.0,262.8 171.8,263.9 171.7,265.0M179.5,272.6 178.6,272.1 177.6,272.4 176.7,273.1 176.0,274.0 176.2,275.1 177.1,275.7M160.3,230.8 159.2,230.6 158.4,231.3 158.3,232.4 158.2,233.5 158.2,234.6 157.8,235.6 157.8,236.7 157.8,237.8 158.1,238.9M157.1,269.3 157.0,270.4M178.5,322.5 177.4,322.4 176.6,323.0 175.8,323.8 175.3,324.8 175.0,325.9 174.7,326.9 174.9,328.0 175.0,329.1 175.1,330.2 174.9,331.3 175.7,332.1 176.7,331.7 177.6,331.0 178.3,330.2M181.0,299.9 181.4,300.9 181.7,302.0 182.0,303.0 182.5,304.0 182.5,305.1 182.5,306.2 182.3,307.3M180.4,263.6 179.4,263.9 178.4,264.5 178.1,265.5 178.1,266.6 177.8,267.7 177.4,268.7 177.1,269.8 177.2,270.9 177.4,271.9 177.5,273.0 177.6,274.1 178.3,275.0M164.7,268.3 163.7,268.0 162.8,268.6 161.9,269.3M182.0,268.7 181.2,269.4 180.6,270.3 179.9,271.2 179.3,272.1 179.1,273.2 179.2,274.3 179.0,275.4 179.4,276.4 180.1,277.2 180.6,278.2 180.2,279.2 180.0,280.3 179.8,281.4M178.7,286.5 177.6,286.4 176.7,287.0 175.9,287.8 175.1,288.6 174.5,289.5 173.9,290.4M164.2,245.1 163.1,245.2 162.3,246.0 162.0,247.1 161.5,248.1 161.0,249.1 160.9,250.2 160.8,251.3 161.0,252.3 161.7,253.2 162.6,253.9M183.4,240.1 182.4,240.0 181.7,240.9 181.2,241.8 181.1,242.9M179.3,335.6 178.2,335.8 177.6,336.7 176.8,337.4 176.3,338.5 175.4,339.0 174.9,340.0 174.6,341.1 174.5,342.2 174.3,343.2 174.3,344.3 174.8,345.3 175.1,346.4 175.3,347.4M182.6,332.7 181.7,333.3 180.8,333.8 179.9,334.5 179.2,335.3 178.6,336.2 177.8,337.0 177.1,337.9M165.8,220.4 165.7,221.5 165.0,222.4 164.2,223.2 164.0,224.3 164.1,225.4 163.4,226.2 163.5,227.3 163.5,228.4 163.9,229.5 164.4,230.4 164.7,231.5 165.3,232.4 165.9,233.3M174.4,301.5 173.3,301.5 172.2,301.8 171.6,302.7 171.1,303.6 170.6,304.6M187.2,283.9 186.2,284.1 185.5,284.9 184.8,285.8 184.4,286.8 184.6,287.9 184.9,289.0 184.9,290.1 184.9,291.2 184.9,292.3M175.6,278.7 174.6,278.3 173.8,278.9 173.3,279.9 173.0,281.0 172.9,282.1M188.3,271.0 188.1,272.1 188.2,273.2 188.1,274.3 187.9,275.3 188.0,276.4M179.4,241.6 179.4,242.7 179.1,243.8 178.6,244.7 178.7,245.8 178.4,246.9 178.7,248.0 178.9,249.0 178.8,250.1 178.5,251.2 179.0,252.2M171.4,343.8 171.7,344.8 171.9,345.9 172.3,346.9 171.9,348.0 171.6,349.0 172.5,349.6 173.4,350.3 174.1,351.1 174.8,352.0 175.8,351.5 176.6,350.7 177.0,349.7 177.1,348.6 176.6,347.6M181.4,239.2 182.3,239.8 183.3,240.3 184.3,240.7M180.4,287.3 179.9,288.3 179.3,289.2 179.1,290.2 179.1,291.3 178.9,292.4 179.3,293.4 180.2,294.1 181.1,294.8 181.8,295.6 182.5,296.5 183.2,297.3M179.8,357.5 179.0,356.8 178.3,357.7" fill="none" stroke="#066606" stroke-width="1.0" stroke-linecap="round" stroke-linejoin="round"/><path d="M175.8,241.1 176.4,242.1 176.9,243.0 177.4,244.0 177.5,245.1 177.7,246.2 178.1,247.2 178.4,248.3M166.5,325.3 166.0,326.3M169.1,234.8 169.5,235.9 169.7,236.9 170.1,238.0 170.0,239.1M174.8,268.2 175.6,269.0 176.2,269.9 175.8,270.9 175.4,271.9 174.6,272.6 173.9,273.5 173.4,274.5 173.1,275.5 172.3,276.3 171.6,277.2 170.7,277.9 170.3,278.9 169.6,279.7 168.9,280.6M179.5,300.5 178.4,300.1 177.5,300.7 177.0,301.7 176.3,302.5 175.3,303.0 174.3,303.5 173.3,304.1 172.9,305.1 172.2,305.9 172.6,306.9 172.7,308.0 172.5,309.1 172.3,310.2 172.6,311.2M186.5,242.6 185.4,242.9 184.4,243.4 183.5,244.0 182.6,244.6 183.0,245.6 182.9,246.7 182.8,247.8 182.4,248.9 182.3,249.9 182.0,251.0M166.1,215.7 165.0,215.6 164.1,216.1 163.2,216.8 162.9,217.8 162.6,218.9 163.3,219.8 164.0,220.7 163.8,221.7 163.5,222.8 163.4,223.9 163.5,225.0M182.7,332.3 181.6,331.9 180.6,332.2 179.6,332.8 178.7,333.4 178.1,334.4M159.8,249.1 158.8,248.7 158.0,249.4 157.4,250.3 156.5,251.0M177.6,246.1 177.1,247.2 176.5,248.1 176.1,249.1 175.6,250.1 175.0,251.0 174.3,251.8 173.6,252.7 172.9,253.5 172.5,254.6 172.3,255.7 172.0,256.7 171.3,257.6 170.6,258.4M180.8,296.6 181.3,297.6 181.0,298.6 181.1,299.7 181.1,300.8 180.5,301.8 180.0,302.7 179.7,303.8 179.5,304.9 179.0,305.9M179.2,288.6 178.6,287.7 177.5,287.7 176.7,288.5 176.1,289.4 175.6,290.4 175.1,291.4 174.8,292.4 174.5,293.5 174.2,294.5 173.4,295.3 173.1,296.3M171.2,238.4 170.3,237.7 169.4,237.2 168.3,237.6 167.5,238.4 166.8,239.2 166.2,240.1M169.2,260.2 169.7,261.2 170.1,262.2 169.9,263.3 170.0,264.4 169.8,265.5 169.2,266.4 169.0,267.5 169.0,268.6 169.3,269.6M183.7,216.2 182.8,215.5 181.8,215.7M186.1,311.1 186.1,312.2M178.5,342.2 179.6,342.6 180.5,342.1 181.0,341.1 181.2,340.0 181.2,338.9 180.9,337.8 180.4,336.9M181.1,241.4 180.0,241.8 179.2,242.6 178.7,243.5 178.5,244.6 178.7,245.7 178.8,246.8 179.1,247.9 180.1,248.4 181.1,248.8 182.1,249.2M170.4,230.8 169.8,229.8 168.7,230.1 168.0,230.9 167.2,231.7 166.5,232.5 166.0,233.5 165.9,234.6 166.5,235.6 167.0,236.5 167.6,237.4 167.8,238.5M171.8,209.1 170.7,209.1 169.8,209.6 169.6,210.7 169.1,211.7 168.6,212.7 168.3,213.7M164.6,265.5 163.6,266.1 162.9,266.9M168.4,236.4 167.3,236.2 166.6,237.0 165.8,237.8 164.8,238.3 163.9,238.8 163.7,239.9 164.0,241.0M177.2,259.3 177.8,260.3 177.9,261.4 178.2,262.4 178.6,263.4M169.8,282.1 168.7,281.7 167.7,282.1 166.9,282.9 166.5,283.9 166.3,285.0 166.4,286.1M178.2,316.7 177.1,316.5 176.2,317.1 175.2,317.6 174.5,318.5 174.7,319.6 174.6,320.7 174.6,321.8 174.1,322.7 173.5,323.6 173.4,324.7 173.2,325.8 173.1,326.9 173.0,328.0M177.7,357.7 177.8,358.8 178.1,359.8 178.5,360.8M179.2,267.8 178.1,267.9 177.1,268.4 176.5,269.2 176.1,270.3 175.8,271.3 175.4,272.3 175.0,273.4 175.2,274.5 175.4,275.5 176.0,276.5M181.0,269.2 180.8,270.3 180.6,271.4 180.2,272.4 179.5,273.3 178.7,274.0 177.7,274.5M169.1,243.5 169.6,244.5 169.9,245.5 170.8,246.2 171.5,247.1 172.3,247.8 173.3,248.3 174.3,248.8 174.7,249.8 175.0,250.9 175.2,251.9M177.4,248.3 176.3,248.6 175.6,249.4 174.6,249.8 174.0,250.7 174.0,251.8 173.5,252.8 172.8,253.7 172.7,254.7 172.3,255.8 171.6,256.6 171.2,257.6M163.2,261.0 162.8,262.0 162.9,263.1 162.5,264.1M153.5,216.3 152.4,216.4 151.5,217.1M159.6,231.0 159.6,232.1 159.3,233.2 158.9,234.2 158.4,235.2 157.5,235.8 156.8,236.6 156.2,237.5 155.5,238.4M161.5,217.8 160.4,217.9 159.6,218.7 159.0,219.6 158.7,220.7 158.8,221.8 159.2,222.8M164.6,206.2 163.5,206.0 162.7,206.6 162.2,207.6 162.4,208.7 162.3,209.8 161.8,210.8 161.6,211.9 162.1,212.9 162.1,214.0 162.3,215.1M169.3,244.4 168.3,244.9 167.5,245.6 167.4,246.7 167.0,247.8 166.9,248.8M171.4,338.5 171.7,339.6 172.3,340.5 172.7,341.6 173.0,342.6 173.5,343.6 173.3,344.6 173.6,345.7 174.1,346.7 174.6,347.7M183.2,307.5 183.5,308.5 184.0,309.5 184.9,310.2 185.4,311.1 185.9,312.1M180.9,336.8 181.3,337.8 181.8,338.8 182.1,339.8" fill="none" stroke="#12bc12" stroke-width="1.0" stroke-linecap="round" stroke-linejoin="round"/><path d="M158.7,234.1 158.2,235.1 158.1,236.2 158.1,237.3 158.2,238.4 158.6,239.4 158.5,240.5 157.7,241.3 157.5,242.4 157.4,243.5 157.3,244.6 157.1,245.7M159.4,226.2 159.7,227.2 160.4,228.1 160.8,229.1 161.0,230.2 161.3,231.3M177.2,254.1 177.2,255.2 176.8,256.3 176.6,257.4 176.1,258.4 176.1,259.5 175.9,260.5 175.6,261.6 175.9,262.7 175.8,263.8 175.3,264.7 174.5,265.5M178.7,312.7 178.9,313.7 179.6,314.6 180.4,315.4 180.7,316.4 181.5,317.1 182.3,317.9 182.7,318.9M177.9,243.2 176.8,243.3 176.1,244.2 175.4,244.9 175.0,246.0 174.5,247.0 173.8,247.8 173.1,248.6 172.5,249.6 172.3,250.7 172.4,251.8 172.7,252.8 172.8,253.9M182.6,355.2 182.4,356.2M156.4,226.9 156.8,227.9 156.7,229.0 156.8,230.1 156.2,231.0 155.4,231.8 155.0,232.8 154.8,233.9 154.7,235.0 155.4,235.8 155.8,236.8M154.1,237.6 153.0,237.3 152.0,237.7M172.2,276.0 171.2,275.5 170.2,275.9 170.0,277.0 169.9,278.1 169.5,279.1 169.1,280.1 169.2,281.2 169.6,282.3 170.4,283.0 171.1,283.8 171.8,284.7 172.4,285.6 172.6,286.7 173.4,287.5M172.7,297.8 171.6,297.8 170.8,298.6 169.8,299.1 169.0,299.9 168.9,301.0 168.7,302.1 168.7,303.1 168.4,304.2 168.4,305.3 168.5,306.4M175.8,270.3 175.3,271.3 175.5,272.4 175.6,273.5 176.2,274.4 177.0,275.2 177.6,276.1 178.3,276.9M154.4,225.8 154.2,226.9 154.3,228.0 154.3,229.1 154.1,230.2 154.7,231.2 154.6,232.3 154.5,233.4 154.2,234.4 153.7,235.4 153.7,236.5 153.8,237.5 153.8,238.6 153.2,239.6 152.7,240.5M187.4,277.0 187.5,278.1 187.9,279.1 188.3,280.1 188.4,281.2 188.7,282.3M168.6,233.9 167.6,234.2 167.2,235.2 167.4,236.3 167.7,237.4 168.1,238.4M179.7,280.4 178.6,280.4 177.7,280.9 176.8,281.6 176.1,282.5 175.6,283.4 175.2,284.5 174.4,285.2 173.6,285.9 172.8,286.8M172.8,237.7 171.8,238.2 171.0,239.0 170.7,240.0 170.9,241.1 170.9,242.2 171.3,243.2 171.1,244.3M164.9,251.9 163.8,251.6 162.8,252.1 162.6,253.2 162.6,254.3 162.3,255.3 162.2,256.4M185.7,264.9 185.7,266.0 185.7,267.1 185.7,268.2 185.3,269.2 184.8,270.2 184.6,271.3 184.4,272.3 184.0,273.4 184.5,274.3 185.2,275.2M160.2,234.2 159.3,233.5 158.3,233.8 157.5,234.6 156.9,235.5 156.7,236.6 157.0,237.6 157.7,238.5 158.0,239.5 158.6,240.4 159.1,241.4 159.5,242.4M178.1,305.3 178.0,306.4 177.7,307.5 177.5,308.5 177.0,309.5 176.7,310.6 176.6,311.7 176.4,312.8 176.1,313.8 175.5,314.7 175.1,315.7 175.2,316.8 175.1,317.9 174.8,319.0 174.5,320.0M178.0,295.7 178.5,296.7 179.2,297.5 180.0,298.3 180.7,299.1M163.7,243.6 162.6,243.6 161.6,244.1 161.4,245.2 160.8,246.1 160.4,247.1M181.3,231.0 180.3,231.5 179.4,232.2 178.9,233.2 178.1,233.8 177.4,234.7 176.6,235.4 175.7,236.1 174.9,236.8 174.1,237.6 173.8,238.7 174.2,239.7 175.0,240.5M161.5,250.2 160.6,249.6 159.6,250.2 158.9,251.0 158.2,251.9 157.7,252.9 157.0,253.7 156.3,254.5 156.3,255.6 155.3,256.1 154.6,257.0 153.9,257.8 153.4,258.8 153.4,259.9M183.1,297.6 183.9,298.4 184.5,299.3 184.3,300.4 184.2,301.5 184.6,302.5M175.5,280.4 174.4,280.6 173.4,281.1 172.5,281.7 172.1,282.8 172.0,283.9 172.1,285.0 172.2,286.1 172.2,287.2 171.9,288.2 172.2,289.3 172.5,290.3 172.8,291.4 172.8,292.5M167.9,270.1 167.2,269.3 166.1,269.3 165.3,270.1 164.4,270.8 163.9,271.7" fill="none" stroke="#066606" stroke-width="0.75" stroke-linecap="round" stroke-linejoin="round"/><path d="M207.0,268.6 207.2,270.1 207.3,271.6 207.9,273.0 208.8,274.2 209.0,275.7 209.1,277.2 209.5,278.6 210.5,279.8 211.8,280.5M193.5,253.2 192.2,252.6 191.1,253.7M212.3,265.2 210.8,265.2 209.7,266.2 208.7,267.3 208.0,268.7 207.2,269.9M223.9,331.0 222.4,330.5 221.2,331.4 220.6,332.8 220.1,334.2 219.8,335.6 219.5,337.1 219.3,338.6M220.6,259.2 219.2,258.8 217.9,259.5 217.0,260.7 216.5,262.1 216.8,263.6 217.0,265.0 218.0,266.2 218.7,267.5 219.6,268.7M222.3,338.4 222.6,339.8 223.2,341.2 223.8,342.6 224.5,343.9 224.9,345.4M221.9,324.7 222.1,326.2 222.6,327.6 222.9,329.1 223.3,330.5 224.3,331.6 225.6,332.3M196.3,251.0 196.9,252.4 197.2,253.9 197.6,255.3 198.7,256.4 199.2,257.8 199.3,259.3 199.3,260.8 198.5,262.0 197.3,262.9 196.3,264.0 194.9,264.7 193.8,265.6M205.4,298.2 203.9,297.8 202.6,298.4 202.1,299.8 202.8,301.1 203.9,302.1 203.8,303.6 203.5,305.0 203.2,306.5 203.1,308.0 203.3,309.5M221.2,314.4 221.3,315.9 222.3,317.0 223.2,318.2 224.1,319.5 224.9,320.7 225.5,322.1 226.2,323.4 227.1,324.6 228.0,325.8 228.5,327.2M228.3,235.6 226.8,235.8 225.5,236.5 224.1,237.1 222.7,237.6 221.4,238.3 220.2,239.3 219.3,240.5M199.9,279.4 198.7,278.6 197.2,278.8 196.0,279.8 194.8,280.6 194.1,281.9 193.0,283.0 191.7,283.6M225.1,318.5 223.7,317.8 222.2,317.7 221.3,318.9 221.2,320.4 220.9,321.8 220.3,323.2M195.1,261.5 194.3,262.8 193.7,264.2 192.9,265.4 192.2,266.7 191.9,268.2 191.4,269.6M220.8,321.8 221.5,323.2 221.9,324.6 222.4,326.0 222.4,327.5 222.0,329.0M221.4,315.3 220.5,314.1 219.0,314.3 217.7,315.0 216.3,315.7 216.2,317.2M197.1,323.6 195.6,323.8M215.9,310.1 214.7,311.0 214.4,312.5 214.8,313.9 215.3,315.3M214.0,343.3 212.7,342.5 211.6,343.5 211.3,345.0 211.3,346.5 211.5,348.0M209.6,254.4 209.6,255.9 209.7,257.4 209.7,258.9 210.0,260.4 209.9,261.9 209.5,263.3 208.9,264.7 208.0,265.9 207.2,267.2 207.1,268.7 206.4,270.0 205.6,271.3M221.7,342.1 220.2,342.3 219.1,343.4 218.3,344.7 217.3,345.8 216.1,346.7 215.1,347.8 214.2,349.0 213.2,350.1M213.8,240.0 212.5,239.3 211.1,239.9 210.1,241.0 209.4,242.3 209.1,243.8M212.1,241.4 213.4,242.0 214.2,243.3 214.5,244.8 215.4,246.0 216.2,247.2 216.8,248.6 216.5,250.1 216.1,251.5 216.3,253.0 217.5,254.0 218.9,254.5M213.7,260.7 213.7,262.2 213.5,263.7 213.6,265.2 213.7,266.7 214.5,268.0 215.2,269.3 216.6,270.0 217.8,270.8 219.2,271.4M211.3,269.3 212.1,270.6 213.1,271.7 214.3,272.7 214.7,274.1 214.9,275.6 214.5,277.0 213.9,278.4 213.6,279.9 213.4,281.4 213.3,282.9 213.1,284.3M207.0,278.4 207.9,279.6 208.1,281.1 208.8,282.4 208.8,283.9 209.2,285.3M202.7,338.9 201.2,339.3 200.3,340.4 199.4,341.6M212.8,250.5 213.2,251.9 213.2,253.4 213.5,254.9 213.8,256.4 214.3,257.8 214.5,259.3M212.4,255.0 210.9,255.2 209.7,256.1 208.5,257.1 207.3,257.9 206.3,259.1 205.1,259.9M197.3,236.2 195.8,236.1 194.8,237.1 194.0,238.4 193.2,239.7 193.1,241.2 192.9,242.7 193.1,244.2 193.0,245.7 192.9,247.2 192.2,248.5 191.6,249.9 191.6,251.4M220.0,294.9 220.3,296.4 220.8,297.8 221.4,299.1 221.8,300.6 222.0,302.1 222.3,303.5 222.6,305.0 222.3,306.5 221.7,307.9 220.9,309.1M209.5,318.9 208.2,318.3 206.8,319.0 205.6,319.8 204.5,320.9 203.6,322.0M199.1,268.5 199.0,270.0 199.6,271.4 200.4,272.7 201.2,274.0M201.6,271.8 200.8,270.5 199.3,270.6 198.2,271.6 197.5,273.0 196.9,274.3 196.9,275.8 196.4,277.2M194.6,289.8 193.3,289.1 192.1,290.0 191.3,291.3 191.1,292.8M201.4,250.2 200.0,249.5 198.9,250.5 197.9,251.6 196.7,252.5M204.9,257.1 205.9,258.2 207.0,259.2 207.2,260.7 208.3,261.7 208.5,263.2 208.4,264.7 208.2,266.2M205.9,249.4 206.8,250.6 207.5,251.9 207.9,253.4 208.2,254.8 208.0,256.3 208.2,257.8 208.2,259.3 208.4,260.8 209.1,262.1 209.4,263.5 210.1,264.9M215.1,238.0 216.3,238.9 216.3,240.4 216.0,241.8 216.4,243.3 217.0,244.6 216.6,246.1 215.8,247.4M203.1,275.5 203.3,277.0 203.6,278.5 203.6,280.0 203.9,281.4 203.5,282.9 203.8,284.4 203.6,285.9 203.1,287.3 203.6,288.7M209.8,246.6 209.8,248.1 209.7,249.6 209.7,251.1 209.9,252.6 209.7,254.1 210.1,255.5 210.5,256.9 211.2,258.3 211.7,259.7" fill="none" stroke="#10e810" stroke-width="1.0" stroke-linecap="round" stroke-linejoin="round"/><path d="M216.5,298.6 216.7,300.1 216.6,301.6 215.5,302.6 215.2,304.1 214.6,305.5 214.8,306.9M227.4,241.9 226.9,240.4 225.5,240.9 224.5,242.1 223.3,243.0 222.3,244.0 221.8,245.5 221.6,247.0 221.8,248.4M210.8,301.6 211.4,303.0 210.9,304.4 211.0,305.9 211.1,307.4M220.8,289.6 219.4,289.3 218.1,290.2 217.2,291.4 216.0,292.3 215.1,293.5 214.6,294.9 214.7,296.4 215.0,297.9 216.0,299.0 216.6,300.4M207.6,258.8 206.1,259.0 204.9,259.8 203.7,260.7 203.2,262.1 203.1,263.6 203.1,265.1 203.8,266.5 205.0,267.4 206.2,268.2 206.9,269.6 207.9,270.6M213.0,276.4 213.3,277.9 213.1,279.4 213.0,280.9 213.3,282.3 214.5,283.2M214.4,340.7 213.2,341.6 211.9,342.3 210.6,343.0 209.2,343.5 208.0,344.4 207.5,345.8 207.5,347.3 207.5,348.8 206.8,350.2M195.5,276.2 194.7,275.0 193.2,275.3 191.9,276.1M217.2,275.8 216.8,274.4 215.3,274.0 213.9,274.5 213.6,276.0 213.6,277.5 214.1,278.9 214.1,280.4 214.1,281.9 213.4,283.2 212.7,284.6 211.8,285.8 210.9,287.0M202.1,289.6 200.8,288.9 199.5,289.7 198.5,290.7 197.8,292.1 197.8,293.6 197.7,295.1 197.5,296.6 196.7,297.8M202.6,266.7 203.1,268.1 202.9,269.6 202.6,271.0 202.0,272.4 202.3,273.9 202.0,275.4M217.0,300.6 215.9,299.5 214.5,300.2 213.4,301.1 212.4,302.3 211.5,303.4M213.8,264.6 213.3,263.2 211.9,263.7 210.5,264.3 209.5,265.4 209.3,266.9 210.1,268.2 210.8,269.5M212.6,272.2 212.6,273.7 212.2,275.1 212.5,276.6 213.2,277.9 213.2,279.4 213.2,280.9 213.5,282.4 214.2,283.7 214.4,285.2M213.9,314.7 212.7,315.7 211.4,316.3 210.0,316.8 208.8,317.8 207.8,318.8 206.7,319.9 206.3,321.4 205.8,322.8 205.0,324.0 204.3,325.3M204.5,303.7 203.5,302.6 202.2,303.3 201.1,304.4 200.5,305.7 200.7,307.2 200.6,308.7 200.5,310.2 200.0,311.6 200.1,313.1M191.0,264.9 192.1,265.9 192.4,267.4 192.9,268.8 193.2,270.3 192.7,271.7M228.3,250.5 227.0,251.2 225.7,251.9 224.6,252.9M212.3,238.6 210.8,238.4 209.6,239.4 208.5,240.3 207.4,241.4 206.1,242.1M213.7,280.6 214.2,282.0 214.7,283.4 215.9,284.4 216.8,285.5 218.0,286.4 218.9,287.6M196.5,300.5 196.8,302.0M201.8,309.9 200.4,309.4 199.0,310.0 198.0,311.1M199.7,275.8 198.2,275.5 196.7,275.4 195.3,275.9 195.3,277.4 194.9,278.8M218.8,311.0 217.8,312.1 217.7,313.6 217.1,315.0 217.4,316.5 217.1,317.9 218.1,319.1 218.8,320.4 218.6,321.9M213.4,260.0 213.0,261.5 212.5,262.9 212.5,264.4 212.8,265.8 213.3,267.3 213.8,268.7 214.4,270.0" fill="none" stroke="#066606" stroke-width="1.0" stroke-linecap="round" stroke-linejoin="round"/><path d="M200.1,264.5 198.7,264.1 197.6,265.2 197.8,266.7 198.0,268.2 199.2,269.0 199.7,270.4 200.4,271.7 200.7,273.2 201.0,274.7 201.5,276.1M210.3,312.3 208.9,312.0 207.5,312.6 206.3,313.6 205.5,314.9 204.7,316.1 203.7,317.3 202.8,318.4 202.3,319.8 201.5,321.1 201.1,322.6M214.5,269.6 214.6,271.1 214.5,272.6 214.4,274.1 214.3,275.6 214.3,277.1 213.9,278.5 213.8,280.0 213.4,281.5 214.0,282.8 213.7,284.3 214.1,285.8 214.6,287.2M203.4,337.5 202.4,336.4 201.2,337.3M206.8,235.1 205.3,235.3 204.0,236.0 203.0,237.1 202.5,238.5 201.9,239.9 201.3,241.3M221.8,290.7 222.5,292.1 222.9,293.5 223.8,294.8 224.8,295.9 225.8,297.0M226.3,335.8 227.1,337.1 227.8,338.5 228.4,339.8 228.3,341.3 227.7,342.7 226.9,344.0 226.8,345.5 226.6,347.0 226.7,348.5M204.5,304.9 204.3,306.4 204.4,307.9 204.4,309.4 203.5,310.6 202.8,311.9 202.6,313.4 202.6,314.9 202.9,316.4 203.4,317.8M203.2,301.3 202.4,302.6 201.7,303.9 200.9,305.2 200.3,306.5 200.3,308.0M224.1,344.7 222.7,345.2 221.5,346.1 220.2,346.9 219.2,348.1 218.4,349.3M201.7,266.0 201.2,267.4 200.8,268.8 199.7,269.9 198.8,271.1 197.9,272.3 197.2,273.6 197.4,275.1 197.6,276.6 198.1,278.0M225.0,275.7 225.1,277.2 225.1,278.7 225.6,280.1 226.2,281.5 226.1,283.0 226.7,284.3 227.2,285.7 228.1,287.0 229.2,288.0M218.4,321.4 218.9,322.8 219.8,324.0 220.5,325.3 220.6,326.8 219.8,328.1 218.6,329.0M200.2,272.4 198.7,272.5 197.3,273.0 195.9,273.7 195.6,275.2 195.4,276.6 196.0,278.0 196.7,279.4 197.3,280.7M213.2,276.7 211.7,276.9 210.5,277.8 209.3,278.7 208.2,279.7 207.4,281.0 207.2,282.5 206.8,283.9 207.0,285.4 207.0,286.9 206.9,288.4 206.5,289.9M211.1,236.1 210.4,237.5 209.3,238.5 208.7,239.8 208.8,241.3 208.7,242.8 208.2,244.2 207.7,245.7 207.9,247.2M228.2,336.6 227.2,335.4 225.9,336.3 225.2,337.6 224.7,339.0 224.3,340.5 223.6,341.8 222.7,343.0 221.8,344.2 221.8,345.7 221.2,347.0 220.9,348.5M227.8,322.7 227.7,324.2 227.3,325.7 226.7,327.0 225.9,328.2 225.3,329.6 225.4,331.1 225.8,332.6 226.3,334.0 227.0,335.3 226.7,336.8 226.0,338.1 225.3,339.5M193.6,235.3 192.1,235.3 191.1,236.4M210.7,260.3 210.3,261.7 210.3,263.2 210.2,264.7 209.1,265.7 207.8,266.4 206.6,267.3 205.7,268.6M215.3,255.7 213.9,256.1 212.7,257.0 211.3,257.6 209.9,258.2 208.6,258.8 207.2,259.4 205.8,260.0 204.7,261.0M202.4,316.1 201.2,316.9 200.1,318.0 199.1,319.1 197.9,320.0 197.0,321.2M223.8,294.6 222.3,295.0 221.0,295.7 219.8,296.5 219.3,297.9 218.7,299.3 218.2,300.7 217.7,302.2 217.8,303.6 218.7,304.9 219.2,306.3 218.6,307.6M206.9,271.5 205.6,272.2 204.9,273.6 203.7,274.5 202.8,275.7 202.0,277.0 201.0,278.1M216.9,302.5 217.8,303.7 218.3,305.1 218.1,306.6 217.9,308.1 217.4,309.5 217.2,311.0 217.3,312.5 216.8,313.9 216.4,315.4 216.3,316.9 215.8,318.3M208.5,295.0 207.1,295.2 205.8,296.0 205.8,297.5 205.9,299.0 205.2,300.3M201.1,279.8 200.5,281.2 199.9,282.5 199.5,284.0 199.3,285.5 199.1,286.9 198.0,287.9 196.8,288.8 196.2,290.2 195.7,291.6M216.1,306.6 216.8,307.9 216.6,309.4 216.2,310.8 216.5,312.3 215.7,313.6 214.9,314.8 214.7,316.3 215.0,317.8 215.5,319.2M220.3,340.4 220.4,341.8 220.4,343.3 220.9,344.8 221.3,346.2 222.3,347.3 222.7,348.7M220.4,277.5 220.2,279.0 220.4,280.5 220.8,281.9 221.7,283.1 222.6,284.3 223.2,285.7 224.2,286.8 225.6,286.3M206.2,296.5 206.9,297.8 207.1,299.3 207.6,300.7 208.1,302.1 208.1,303.6 207.3,304.8 206.4,306.1 205.6,307.3 205.2,308.8 204.4,310.1 204.9,311.5M218.5,316.1 219.4,317.3 220.2,318.6 220.2,320.1 220.6,321.6 220.3,323.0 220.2,324.5M213.9,235.8 212.4,235.8 211.5,237.0 210.8,238.3 210.2,239.7 210.1,241.2 209.3,242.5 208.9,243.9 208.2,245.3 208.0,246.8 208.2,248.2M211.7,312.6 211.1,314.0 211.3,315.5 210.8,316.9 210.3,318.3 209.2,319.3 208.6,320.7 208.8,322.2 209.0,323.7 209.0,325.2 209.3,326.7 210.1,328.0M215.0,275.5 213.8,274.6 212.3,275.1 211.5,276.3 210.7,277.6 209.8,278.8 208.6,279.7 207.7,280.9 207.1,282.3 207.2,283.8 206.8,285.2 205.9,286.4M213.4,274.8 213.0,276.3 213.4,277.7 213.9,279.1 215.0,280.2 216.2,281.0 217.1,282.2 218.2,283.2 219.4,284.1 220.6,285.0 221.6,286.2M221.4,321.6 220.3,322.6 219.0,323.4 217.9,324.4 216.9,325.5 216.0,326.7 216.2,328.2 217.1,329.4 218.2,330.4M198.8,313.4 199.3,314.8 199.3,316.3 198.9,317.7 198.8,319.2 197.9,320.4M220.7,281.7 220.6,283.1 220.3,284.6 220.2,286.1 220.4,287.6 221.3,288.8M198.5,255.8 197.1,255.2 195.8,255.9 194.9,257.1 194.5,258.6M220.9,349.1 222.0,350.1M223.0,300.0 223.5,301.4 223.5,302.9 224.0,304.4 224.7,305.7 224.7,307.2 224.3,308.6 223.4,309.8 222.2,310.7M219.2,241.4 218.0,242.3 216.7,243.1 215.6,244.1 214.7,245.3 213.5,246.3M223.9,325.2 222.5,324.8 221.2,325.5 220.8,326.9 220.3,328.4M219.1,282.8 219.7,284.2 220.1,285.6 219.7,287.1 220.4,288.4 220.8,289.9 221.4,291.2M217.4,247.1 216.0,246.5 214.7,247.3 213.7,248.4 212.8,249.7 211.8,250.7 210.9,251.9 209.9,253.1 208.8,254.1 209.0,255.6 209.2,257.1" fill="none" stroke="#0b940b" stroke-width="1.0" stroke-linecap="round" stroke-linejoin="round"/><path d="M220.9,262.9 220.9,264.4 221.0,265.9 220.9,267.4 220.3,268.8M212.3,251.0 210.8,251.2 209.4,251.8 208.3,252.8 207.5,254.1 206.8,255.4 205.8,256.6 204.5,257.3 203.4,258.3 202.2,259.3 201.1,260.2M208.4,342.1 208.9,343.6 208.8,345.1 209.1,346.5 209.5,348.0M197.2,247.2 197.3,248.7 197.5,250.2 197.1,251.6 197.0,253.1 196.4,254.4 195.8,255.8 195.2,257.2 195.5,258.6 195.3,260.1 194.5,261.4 194.6,262.9M195.9,253.2 194.5,252.7 193.3,253.5 192.2,254.6 191.5,255.9M193.0,281.7 191.7,282.3M225.2,336.7 226.4,337.7 227.7,338.5 228.8,339.4M224.8,253.9 225.2,255.3M208.9,311.1 209.9,312.2 210.0,313.7 210.6,315.1 211.8,316.1 212.7,317.2 213.8,318.3 214.3,319.7 215.2,320.9M211.3,301.2 209.9,301.8 209.0,303.0 207.7,303.8 207.1,305.2 206.7,306.6 206.1,308.0 205.9,309.5 205.5,310.9 206.1,312.3M217.9,261.7 216.6,260.9 215.6,262.0 214.7,263.2 214.1,264.6 214.1,266.1 214.0,267.6 213.7,269.1 214.5,270.4 215.5,271.5 216.3,272.7 216.9,274.1M201.6,292.6 200.1,292.6 198.9,293.5 198.1,294.8 197.7,296.2 197.4,297.7 197.6,299.2 197.6,300.7M209.3,248.6 208.0,247.8 206.8,248.7 206.4,250.1 205.5,251.3 204.7,252.6 204.3,254.0 204.0,255.5 203.2,256.8M220.8,335.0 220.2,336.4 219.6,337.7 218.9,339.0 218.6,340.5 218.6,342.0 218.5,343.5 218.3,345.0M193.0,241.6 191.6,241.2M224.4,313.5 225.3,314.7 225.7,316.2 225.4,317.6 225.4,319.1 225.1,320.6 224.8,322.1 225.4,323.5 225.7,325.0 225.2,326.4M215.5,275.0 214.1,274.5 213.1,275.6 212.1,276.8 210.8,277.5 209.7,278.5 208.9,279.8 209.0,281.3 208.2,282.6 207.2,283.7 206.4,285.0M222.3,235.8 222.3,237.3 222.2,238.8 221.9,240.3 220.8,241.3 219.7,242.2 219.2,243.7M204.9,260.3 204.3,261.7 204.1,263.2 204.6,264.6 204.9,266.1 205.5,267.5 205.3,269.0 204.9,270.4 205.5,271.8 206.2,273.1 206.3,274.6M227.1,334.2 226.9,335.7 227.1,337.2 227.1,338.7 227.0,340.2 227.0,341.7M218.3,343.7 216.8,343.6 215.4,344.2 214.4,345.3 213.5,346.5 213.1,348.0 212.9,349.5M212.3,247.9 213.6,248.7 214.2,250.1 214.8,251.5 215.1,253.0 215.3,254.5 216.1,255.7 216.3,257.2 216.9,258.6M225.2,312.1 223.8,311.6 222.3,311.9 221.0,312.5 219.8,313.5 218.5,314.2 218.0,315.6 218.2,317.1 217.5,318.5 216.6,319.7M223.5,343.2 224.1,344.6 224.4,346.0 224.6,347.5 225.1,348.9 226.3,349.8M218.6,290.7 217.2,291.2 215.8,291.9 215.1,293.2 215.0,294.7 214.8,296.2 214.4,297.6 214.2,299.1 214.7,300.5M218.7,335.6 219.0,337.1 218.2,338.4 217.9,339.9 216.8,340.9M196.8,278.6 195.3,278.5 194.4,279.7 194.7,281.2 195.5,282.5 196.4,283.7 197.3,284.8M217.3,344.0 216.3,342.9 214.8,343.2 213.9,344.4 212.9,345.4 211.9,346.5 211.1,347.8 211.6,349.2M220.2,318.7 218.7,318.8 217.7,319.9 216.4,320.6 215.7,321.9 214.7,323.1M214.2,247.8 215.0,249.1 215.7,250.4 216.9,251.4 218.0,252.4 218.9,253.6 220.0,254.6 220.7,255.9 221.4,257.2M222.0,313.3 220.5,312.9 219.4,313.9 218.1,314.6 216.8,315.4 215.8,316.5 214.4,317.0 213.0,317.6M211.3,258.8 209.8,258.6 208.8,259.7 208.0,261.0 207.4,262.4 207.5,263.9 208.0,265.3 208.3,266.8M212.7,303.8 211.6,302.8 210.4,303.7 209.1,304.5 207.8,305.2 206.8,306.4 206.3,307.8 205.6,309.1 204.9,310.4M193.6,242.6 194.5,243.7 195.1,245.1 194.4,246.4 193.6,247.7 193.5,249.2 192.9,250.5 192.4,251.9 191.3,253.0M200.0,308.9 200.6,310.3 201.1,311.7 201.3,313.2 202.3,314.3M207.5,278.2 206.0,277.7 205.0,278.8 204.1,280.1 203.3,281.3 202.7,282.7 202.6,284.2 202.3,285.6 202.7,287.1 202.4,288.6 201.8,289.9" fill="none" stroke="#12bc12" stroke-width="1.25" stroke-linecap="round" stroke-linejoin="round"/><path d="M193.1,257.0 192.0,258.0 191.1,259.2M196.6,298.9 195.5,299.9M206.8,259.8 206.3,261.2 206.0,262.7 206.2,264.2 206.4,265.7M213.5,322.3 212.8,323.6 211.8,324.7 210.9,325.9 209.6,326.7 209.3,328.2 209.5,329.6 209.5,331.1 209.5,332.6 209.5,334.1 210.2,335.5M222.7,303.8 221.7,304.9 221.4,306.4 221.3,307.9 221.2,309.4 220.6,310.8 220.2,312.2 221.0,313.5M225.5,244.0 224.0,244.0 222.7,244.6 221.2,245.1 220.6,246.4 220.1,247.8 219.0,248.9 218.0,250.0 217.5,251.4 216.8,252.8 216.1,254.1 216.2,255.6M203.7,330.0 204.0,331.4 204.1,332.9 204.6,334.4 205.4,335.6 205.7,337.1 206.2,338.5 206.2,340.0 206.6,341.4 206.9,342.9 207.3,344.3 208.0,345.7M207.4,288.0 207.6,289.5 208.1,290.9 208.7,292.3 209.2,293.7 209.4,295.2 210.0,296.6 211.0,297.7 212.2,298.5M213.0,272.9 213.2,274.4 214.1,275.6 215.0,276.8 214.4,278.2 214.4,279.7 214.9,281.1 215.5,282.5 216.0,283.9 216.1,285.4 215.5,286.7 214.3,287.6M220.5,237.7 219.0,237.7 217.6,238.3 217.0,239.6 216.0,240.8 214.9,241.8 213.8,242.8 212.4,243.3 211.0,243.9 209.6,244.4M207.4,235.5 207.9,236.9 208.3,238.4 207.9,239.8 207.4,241.2M203.9,283.5 202.4,283.0 201.6,284.2 201.6,285.7 202.3,287.0M214.0,288.1 212.7,287.3 211.3,287.8 210.2,288.8 209.8,290.3 209.4,291.7 209.3,293.2 208.9,294.6 208.7,296.1 208.5,297.6 207.9,299.0 207.8,300.5M201.7,241.9 201.7,243.4 201.2,244.8 201.3,246.3 200.4,247.6M203.2,277.9 201.9,278.7 200.9,279.7 199.7,280.6 198.6,281.7 197.6,282.8M223.0,298.2 221.6,297.6 220.4,298.4 219.5,299.6 219.7,301.1 219.9,302.6 218.8,303.6 217.8,304.8 216.7,305.8 215.6,306.8M201.6,298.4 201.7,299.9 201.8,301.4 201.6,302.8 200.8,304.1 200.2,305.5 200.5,307.0 201.1,308.3 202.0,309.6 203.2,310.5 204.3,311.5M226.9,323.4 225.4,323.5 224.1,324.3 222.9,325.2 221.6,325.9M212.0,279.5 211.2,280.8 211.4,282.3 211.7,283.7 211.6,285.2 211.6,286.7 210.9,288.1 210.1,289.3 209.9,290.8 209.8,292.3M215.3,243.4 213.9,242.8 212.6,243.4 211.4,244.3 210.6,245.6 210.8,247.1 211.2,248.5 210.7,249.9 210.0,251.2 209.6,252.7 209.8,254.1 209.1,255.5 208.4,256.8M192.8,240.8 191.5,241.6" fill="none" stroke="#10e810" stroke-width="1.25" stroke-linecap="round" stroke-linejoin="round"/><path d="M224.3,305.7 223.4,306.9 222.5,308.1 221.6,309.3 220.9,310.7 220.2,312.0 220.0,313.5M194.2,257.5 195.0,258.8 195.8,260.0 195.9,261.5 196.3,263.0 196.7,264.4M210.2,339.0 208.8,338.5 207.5,339.3 206.3,340.1 205.1,341.1 203.8,341.8M193.7,254.7 193.0,256.0 193.2,257.5 193.5,259.0 193.5,260.5 193.0,261.9 192.1,263.1 191.7,264.5 191.0,265.9M220.5,312.0 219.1,312.5 218.1,313.6 217.5,315.0 217.4,316.5 217.3,318.0 217.6,319.5 217.7,321.0M215.4,264.0 215.0,265.4 215.2,266.9 215.8,268.3 216.2,269.7 216.7,271.2 217.1,272.6 217.1,274.1 216.8,275.6 216.6,277.1 216.4,278.5 216.5,280.0 216.6,281.5M225.9,340.4 226.4,341.9 227.3,343.1 227.9,344.5 227.6,345.9M208.6,284.8 207.1,285.2 206.0,286.2 204.8,287.2 204.0,288.4 203.2,289.7 202.7,291.1 202.0,292.4 202.0,293.9 202.3,295.4M211.5,295.9 212.0,297.3 212.2,298.8 212.5,300.3 213.2,301.6M223.5,252.7 223.7,254.2 223.5,255.7 223.4,257.2 223.1,258.6 222.3,259.9M213.2,269.7 213.6,271.1 214.0,272.6 214.5,274.0 214.8,275.5 214.5,276.9 214.4,278.4M206.9,333.4 206.5,334.9 206.1,336.3 205.6,337.7 205.7,339.2 205.5,340.7 205.3,342.2 205.8,343.6M192.5,276.9 192.6,278.4 193.4,279.7 194.1,281.1 194.5,282.5 194.5,284.0 194.5,285.5M218.1,267.8 219.0,269.0 220.1,270.0 221.4,270.8 222.6,270.0 224.0,269.3 225.4,269.8 226.5,270.8 227.8,271.6 228.9,272.6M213.6,277.3 213.0,278.7 212.1,279.9 211.1,281.0 210.4,282.3 210.0,283.8 208.7,284.4 207.7,285.5 207.2,286.9 206.8,288.4 207.4,289.8M203.6,253.9 204.2,255.3 204.7,256.7 205.1,258.2 205.2,259.7 205.2,261.2 205.1,262.7 204.8,264.1 204.2,265.5 204.2,267.0M206.4,275.2 207.0,276.6 207.6,278.0 208.1,279.4 208.6,280.8 209.0,282.3 209.9,283.4 210.9,284.5 211.7,285.8 212.2,287.2M223.6,332.6 222.1,332.3 220.7,332.9 219.8,334.1 218.8,335.2M202.3,250.4 200.9,250.7 199.8,251.8 199.4,253.3 199.0,254.7 198.6,256.2 198.0,257.5 197.7,259.0 197.3,260.5 197.3,262.0M221.2,348.9 220.0,349.8M197.9,288.0 196.5,287.6 195.1,288.1 193.8,288.9 192.5,289.7 191.2,290.4M206.8,290.4 206.3,291.8 205.9,293.2 205.7,294.7 205.7,296.2 205.1,297.6 204.7,299.0 204.5,300.5 204.8,302.0 204.8,303.5 205.3,304.9 206.0,306.3 206.6,307.6M203.3,337.4 203.7,338.8 203.6,340.3 203.9,341.8 203.8,343.3 203.9,344.8M204.9,263.3 203.4,263.2 202.9,264.6 201.6,265.4 200.7,266.6 200.6,268.1 200.4,269.6" fill="none" stroke="#066606" stroke-width="1.25" stroke-linecap="round" stroke-linejoin="round"/><path d="M219.7,331.5 218.5,332.3 217.3,333.2 216.3,334.4 215.8,335.8 214.9,336.9 213.6,337.7 212.8,339.0 213.2,340.4 214.1,341.6M197.9,319.7 197.7,321.1M211.9,245.3 210.7,244.3 209.3,244.9 208.0,245.4 206.7,246.3M216.5,319.2 215.0,319.1 213.9,320.2 213.1,321.4 212.1,322.6 211.4,323.9 211.2,325.4 210.5,326.8 210.6,328.3 210.1,329.6M229.6,327.7 228.5,326.8 227.2,327.6 226.1,328.5 225.5,329.9 224.8,331.2 223.9,332.4 223.5,333.9 223.2,335.3 223.7,336.7 224.4,338.0 224.9,339.5M200.2,322.1 198.8,322.7 197.7,323.6 197.1,325.0 197.0,326.5M210.8,318.4 210.7,319.9 211.0,321.4 211.0,322.9 211.8,324.1 212.5,325.5 212.8,326.9 213.5,328.3M210.3,324.3 210.1,325.8 210.0,327.3 209.4,328.7 208.1,329.5 207.3,330.8 206.7,332.1 206.7,333.6 207.0,335.1M218.9,242.1 218.5,243.6 217.9,244.9 216.6,245.8 216.0,247.1 215.3,248.4M208.7,315.2 207.9,314.0 206.4,314.4 205.5,315.6 205.1,317.0 204.4,318.4 204.5,319.9 204.6,321.3 205.4,322.6 205.7,324.1 205.9,325.6 206.3,327.0M203.0,241.3 202.0,242.4 200.9,243.5 200.0,244.7 199.7,246.1M205.4,285.0 205.2,286.5 205.1,288.0 205.7,289.3 206.2,290.7 206.7,292.1 207.5,293.4 208.5,294.6 209.5,295.7 210.7,296.6 211.9,297.4 212.9,298.6 213.7,299.9M199.1,307.2 197.8,307.9 196.7,308.9 195.8,310.1 195.3,311.5 194.7,312.9M201.6,291.6 201.5,293.1 201.6,294.6 202.0,296.1 201.1,297.2 199.7,297.8 198.6,298.8M221.4,292.8 219.9,292.9 218.7,293.8 217.8,295.0 216.5,295.8 215.5,296.8 214.3,297.8 213.4,299.0 213.1,300.4 213.1,301.9 213.0,303.4 213.5,304.9 214.4,306.1M208.5,249.6 207.0,249.7 205.6,250.3 204.3,251.0 203.6,252.4 202.9,253.7M193.1,284.3 191.6,284.3M218.4,270.8 216.9,271.0 215.9,272.1 215.6,273.6 215.7,275.1 215.5,276.6 214.8,277.9 213.4,278.5 212.4,279.6 211.6,280.9 211.1,282.3 210.7,283.7M228.6,303.5 227.8,304.7 227.2,306.1 226.8,307.5 226.6,309.0 226.8,310.5 226.2,311.9 225.6,313.3 225.1,314.7 224.5,316.1 223.5,317.1 222.8,318.5M221.2,238.1 219.8,237.5 218.6,238.5 217.7,239.7 216.4,240.4 215.2,241.3 214.8,242.8 215.1,244.3 215.6,245.7 216.8,246.6 217.4,247.9 217.4,249.4 217.5,250.9M214.7,269.4 214.0,270.8 213.5,272.2 214.2,273.5 215.1,274.7 215.8,276.0 216.6,277.3 216.8,278.8 216.4,280.2 215.7,281.6 215.6,283.1M223.5,338.8 222.1,338.2 221.1,339.3 219.9,340.2 218.8,341.2 218.2,342.6 218.2,344.1 218.3,345.6M208.3,337.9 208.1,339.4 209.1,340.6 209.6,342.0 210.8,343.0 212.0,343.8 213.1,344.8 213.6,346.2 213.5,347.7 213.6,349.2M205.7,251.4 204.3,251.0 203.3,252.2 203.1,253.7 202.9,255.2 202.8,256.7 203.0,258.1 203.2,259.6 202.6,261.0 202.7,262.5 203.3,263.8 204.5,264.7M224.1,291.9 222.8,291.2 221.4,291.5 220.0,292.2 218.8,293.0 218.1,294.4 216.9,295.3 215.6,295.9 214.2,296.5 212.8,297.1 211.9,298.3M227.6,294.6 226.2,294.1 225.0,295.0 224.5,296.4 224.3,297.9 223.3,299.0 222.4,300.2 222.2,301.7 221.9,303.2 221.6,304.7M215.6,296.3 216.6,297.4 217.6,298.5 217.7,300.0 217.1,301.3M220.9,259.9 219.5,259.4 218.5,260.5 217.6,261.7 216.3,262.4 215.2,263.4 214.3,264.6 213.9,266.1 213.3,267.5 212.5,268.7M223.0,344.0 223.3,345.5 223.9,346.9 224.1,348.4 224.3,349.9M214.0,347.2 214.2,348.7 214.8,350.1M229.6,336.7 229.7,338.2 229.3,339.6 229.6,341.1M227.3,305.8 226.8,307.2 226.6,308.7 226.6,310.2 227.0,311.6 227.3,313.1 227.3,314.6 227.9,315.9 228.4,317.4 229.3,318.6M223.9,246.7 223.6,248.1 223.6,249.6 223.9,251.1 224.9,252.3 225.8,253.4 226.3,254.8M224.6,289.2 223.2,288.6 221.9,288.0 220.6,288.8 220.0,290.2 219.5,291.6 218.3,292.6 217.4,293.8M214.4,281.1 212.9,281.1 211.6,281.8 210.3,282.7 209.3,283.8 208.0,284.6M223.2,311.2 221.7,311.0 220.3,311.6 219.2,312.7 218.4,313.9 217.6,315.2 217.0,316.5 216.9,318.0 217.0,319.5 217.0,321.0 216.9,322.5 217.6,323.9M219.2,331.0 217.9,330.4 216.5,330.9 215.1,331.6 213.9,332.4M215.6,263.7 215.7,265.2 215.9,266.7 216.5,268.1 217.5,269.1 217.7,270.6 218.2,272.0 218.8,273.4 219.9,274.5M225.4,319.7 225.7,321.2 225.7,322.7 225.4,324.1 225.7,325.6M217.3,281.7 215.9,281.3 214.6,282.1 213.5,283.1 212.6,284.4 211.5,285.4 211.0,286.8 210.8,288.2 210.7,289.7 210.2,291.1M218.9,280.2 217.5,279.6 216.6,280.8 215.7,282.0 214.5,282.9 213.6,284.1M219.1,345.8 218.1,346.9 216.7,347.5 215.4,348.2 214.0,348.7 212.7,349.6M199.2,293.0 197.7,293.4 196.5,294.2 195.4,295.3M227.3,316.6 227.0,318.1 226.5,319.5 227.0,321.0 227.2,322.5 228.3,323.5 229.3,324.6M224.5,306.9 223.9,305.5 222.4,305.4 221.6,306.7 221.0,308.0 220.9,309.5 221.3,311.0 221.9,312.4 222.0,313.8 221.9,315.3 221.7,316.8 221.5,318.3 221.7,319.8M208.3,249.3 208.1,250.8 208.2,252.3 209.2,253.4 210.1,254.5 211.3,255.5 212.2,256.7 212.3,258.2M225.9,347.4 226.2,348.9M214.9,300.7 213.5,300.4 212.2,301.1 211.0,302.1 210.0,303.2 209.4,304.6 209.4,306.1 209.3,307.5 209.2,309.0 209.0,310.5 208.1,311.7 207.2,312.9M198.8,293.5 197.5,292.8 196.2,293.5 195.1,294.6 194.1,295.7 193.6,297.1M199.5,300.2 199.8,301.6 200.1,303.1 200.2,304.6 200.8,306.0 200.7,307.5 200.9,309.0 201.5,310.4 201.9,311.8 202.2,313.3 202.9,314.6 203.6,316.0 203.1,317.4M201.7,237.1 200.2,237.6 198.9,238.2 197.7,239.1 197.2,240.5 197.2,242.0 197.2,243.5 197.4,245.0 197.1,246.5 197.2,248.0M192.2,278.5 192.3,280.0 192.0,281.5 191.2,282.7M197.3,241.8 196.0,241.1 194.6,241.6 193.4,242.5 192.7,243.8 192.1,245.2 191.8,246.7 192.2,248.1 192.2,249.6 192.2,251.1 191.7,252.6 192.0,254.0 192.6,255.4" fill="none" stroke="#12bc12" stroke-width="1.0" stroke-linecap="round" stroke-linejoin="round"/><path d="M220.0,346.7 219.3,348.1 219.4,349.6M214.3,257.2 212.8,257.2 211.5,258.0 210.4,258.9 209.7,260.2 209.7,261.7 210.4,263.1 211.2,264.3 212.6,263.7 213.9,263.0 214.6,261.7 215.5,260.5 216.0,259.1M227.5,320.8 226.0,321.0 224.6,321.6 223.3,322.3 221.9,322.9 220.8,323.9 219.9,325.1 218.9,326.3 218.0,327.5 217.6,328.9M213.1,303.7 212.6,305.1 211.7,306.3 211.1,307.7 211.0,309.2 211.5,310.6 211.6,312.1 211.9,313.6M220.1,300.4 218.8,299.8 217.6,300.7 216.9,302.0 216.4,303.5 215.9,304.9 215.8,306.4 215.9,307.9 215.7,309.4 216.2,310.8 216.1,312.3M218.9,239.6 217.4,239.2 216.0,239.7 215.1,240.9 214.0,241.9 213.1,243.1 212.0,244.2 211.1,245.3 209.8,246.1 208.7,247.1M202.3,308.6 200.8,308.8 200.0,310.0 199.5,311.5 199.3,312.9M194.0,254.9 193.6,256.4 194.1,257.8 194.6,259.2 195.4,260.5 195.7,261.9M209.4,243.4 207.9,243.1 206.8,244.1 205.7,245.1 204.9,246.4 204.1,247.6 203.5,249.0 202.9,250.4 203.0,251.9 201.8,252.8 200.6,253.7M208.2,341.4 208.9,342.7 209.4,344.1 209.3,345.6 209.6,347.1 209.4,348.6 208.8,350.0M207.6,331.3 206.3,330.5 205.2,331.6 204.7,333.0 204.0,334.3 203.2,335.6 203.1,337.1 202.2,338.3 202.6,339.8 202.4,341.2 202.8,342.7M221.6,281.1 220.1,281.5 219.1,282.5 218.3,283.8 217.6,285.2 217.4,286.6M202.8,285.0 201.3,284.9 200.3,286.0 199.1,286.9 197.9,287.8 197.6,289.3M209.1,262.2 207.7,261.6 206.4,262.3 205.2,263.1 204.1,264.2 203.0,265.2 201.8,266.2 201.4,267.6 200.7,268.9 200.5,270.4 199.3,271.3 199.0,272.7M209.8,285.5 209.3,286.9 208.9,288.3 207.8,289.4 206.8,290.5M206.0,263.3 204.6,262.5 203.3,263.2 202.7,264.6 202.5,266.1 202.1,267.5 201.8,269.0 202.8,270.1 203.7,271.3 204.2,272.7 204.2,274.2M220.5,326.3 219.7,327.6 219.5,329.1 219.4,330.6 220.4,331.7 221.3,332.9 221.5,334.4 221.9,335.8 222.4,337.3 222.4,338.8M212.8,320.9 212.4,322.4 211.4,323.4 210.7,324.8 209.7,325.9 208.4,326.7 207.5,327.8 207.2,329.3 207.5,330.8 208.5,331.9 209.6,332.9 210.6,334.0 211.4,335.3M197.1,247.6 195.6,247.4 194.1,247.7 192.7,248.0 191.3,248.7M216.1,327.0 216.3,328.5 216.6,330.0 217.0,331.4 218.1,332.4 218.5,333.9 219.1,335.3 220.3,336.1 221.2,337.3 222.5,338.1 223.8,338.8 224.7,340.0 225.1,341.4M208.7,326.2 208.6,327.7 208.5,329.2 208.9,330.6 209.4,332.0M223.2,304.4 223.2,305.9 223.2,307.4 222.7,308.8 222.1,310.2 221.7,311.7 221.6,313.2 221.9,314.6M196.7,272.3 195.3,271.7 193.9,272.1 192.9,273.3 191.8,274.2M220.0,279.3 220.0,280.8 220.5,282.2 221.5,283.3 222.3,284.6 223.3,285.7 223.7,287.2 223.9,288.7 224.1,290.1M224.6,263.2 223.3,262.5 221.9,263.0 221.2,264.3 220.3,265.5 219.9,266.9 219.8,268.4 220.4,269.8M203.3,272.1 201.9,271.5 200.4,271.6 199.2,272.5 198.5,273.8 197.8,275.2 197.0,276.4 196.8,277.9 196.6,279.4 195.9,280.7 195.4,282.2 195.3,283.7 194.9,285.1M213.6,332.2 212.1,332.4 211.1,333.5 210.5,334.8 209.9,336.2 210.5,337.6 211.1,339.0 211.9,340.2 213.2,340.9 214.6,340.3M207.7,318.7 206.4,319.4 205.5,320.6 204.6,321.8 203.9,323.1 203.2,324.4 203.6,325.9M226.2,271.1 224.7,271.4 223.8,272.6 223.4,274.0 223.7,275.5 224.4,276.9 224.7,278.3 225.3,279.7 226.0,281.0M193.4,248.9 192.0,248.3M215.7,274.0 214.2,274.1 213.0,274.9 212.1,276.1 211.5,277.5 211.2,279.0 210.9,280.4 210.9,281.9 210.7,283.4 210.7,284.9 210.6,286.4 210.4,287.9 209.9,289.3M214.4,315.0 214.4,316.5 215.2,317.7 215.3,319.2 214.5,320.6 213.5,321.6 212.3,322.6 212.1,324.1M208.1,293.8 207.9,295.3 208.4,296.7 208.9,298.1 209.3,299.5 210.0,300.9 210.8,302.2 211.3,303.6 212.3,304.7M223.0,266.0 221.9,265.0 220.4,264.8 219.4,265.8 218.3,266.9 218.1,268.3 217.5,269.7M213.7,334.7 212.6,335.7 211.9,337.1 211.5,338.5 210.6,339.7 209.9,341.0 209.9,342.5M217.2,322.7 215.7,322.4 214.5,323.2 213.1,323.9 212.3,325.2M199.7,255.2 198.4,256.0 197.2,256.9 196.1,258.0 196.1,259.5 195.8,260.9 195.5,262.4 195.2,263.9M221.2,279.1 220.5,277.8 219.0,278.2 217.9,279.2 216.7,280.0 215.7,281.2 214.6,282.2 213.9,283.5 213.3,284.9 212.5,286.1 211.7,287.4 211.1,288.8 210.8,290.3M191.9,261.1 191.2,262.5 191.7,263.9 192.0,265.4 192.6,266.7M222.5,333.2 221.0,333.1 219.8,334.0 218.8,335.1 217.5,335.8 216.7,337.1 215.4,337.9 214.8,339.2 213.8,340.3 213.4,341.8 213.0,343.2M193.6,279.2 192.2,279.9 191.3,281.0M207.2,260.8 206.9,262.3 207.4,263.7 208.0,265.1 208.0,266.6 207.6,268.0 208.0,269.4 209.4,270.1 210.6,270.9 211.8,271.8 213.1,271.0M200.2,277.4 198.7,277.5 197.4,278.2 196.7,279.5 195.9,280.8 194.8,281.8 194.0,283.1 193.7,284.5 193.1,285.9 193.0,287.4 193.6,288.8 193.5,290.3M216.3,281.5 215.8,282.9 215.7,284.4 215.8,285.9 215.3,287.3 215.6,288.8 215.8,290.3 215.9,291.7M196.6,271.4 195.1,271.4 194.0,272.4 193.0,273.5 192.2,274.8 191.9,276.2 191.6,277.7 191.0,279.1" fill="none" stroke="#0b940b" stroke-width="1.25" stroke-linecap="round" stroke-linejoin="round"/><path d="M252.3,314.4 252.2,315.4 252.2,316.4 251.4,317.1M263.7,286.2 263.1,285.3 262.2,285.8 261.3,286.2M262.7,300.7 263.0,301.6 263.8,302.2 264.6,301.7 265.5,301.3 265.9,300.4M266.8,251.9 265.9,252.1 265.3,252.9 264.4,253.4 263.4,253.7 262.7,254.3M256.8,262.9 255.8,262.9 254.9,263.3 253.9,263.5M259.4,278.6 258.6,279.1 258.4,280.1M255.5,338.2 255.5,339.2 255.6,340.2 256.3,340.9 257.0,341.7 257.2,342.7 256.9,343.6 257.1,344.6 257.2,345.6M265.8,287.1 264.8,287.3 263.8,287.3 263.2,288.2 263.1,289.1 262.5,289.9 261.7,290.6 260.8,291.0 260.2,291.8M260.4,291.2 259.6,290.6 258.7,290.2 257.8,290.7 257.2,291.4 256.8,292.4 256.6,293.3 257.5,293.8 258.4,294.3M264.3,270.9 265.0,271.6 265.7,270.9 266.6,270.5M255.5,299.5 254.6,299.9 253.9,300.7 253.1,301.1 252.9,302.1 252.9,303.1 253.2,304.1 253.0,305.1 253.8,305.7M253.6,283.5 253.2,282.6 252.3,282.8 251.3,283.0 250.4,283.4M271.6,286.6 270.6,286.8 269.7,287.2M260.9,287.1 260.1,287.7 259.8,288.7M256.3,278.4 257.0,279.1 257.9,279.5 258.7,280.1 259.6,280.6 260.5,280.1 260.8,279.2M258.1,304.6 258.3,305.6 258.8,306.5 259.3,307.3 259.9,308.1 260.7,308.8 261.4,309.4M252.5,300.6 251.5,300.3 250.7,301.0 250.1,301.7 249.8,302.7M264.4,292.1 264.8,293.0 265.2,293.9 265.7,294.8 265.6,295.7 266.2,296.6M254.2,326.0 253.3,325.6 252.4,326.1 251.8,326.9M263.5,273.7 262.9,274.6 262.8,275.5 263.6,276.2 264.3,276.8 264.1,277.7M266.9,330.4 267.0,331.4M269.0,310.4 269.7,311.0 270.2,311.9M253.9,243.2 253.1,243.7 252.2,244.3 251.6,245.1 251.2,246.0 250.9,246.9M267.5,254.5 266.8,253.9 265.8,254.2 265.4,255.1M252.8,359.5 252.6,358.5M249.7,312.3 250.1,313.2 250.0,314.2" fill="none" stroke="#0b940b" stroke-width="1.0" stroke-linecap="round" stroke-linejoin="round"/><path d="M257.2,230.4 256.2,230.5 255.4,231.1 254.7,231.8M261.8,237.5 261.1,238.1 260.7,239.1 260.6,240.1 260.5,241.1 259.8,241.7 259.4,242.7 259.5,243.7 259.3,244.7M253.8,348.6 254.1,349.6 253.3,350.3 252.7,351.0M260.9,249.8 259.9,249.7 259.4,250.5 258.6,251.2M252.3,317.5 252.8,318.3 253.5,319.1 254.0,319.9 254.0,320.9 253.8,321.9M259.1,226.8 258.1,226.5 257.2,227.0M254.3,302.1 254.8,302.9 255.1,303.9 255.0,304.9 255.6,305.6 255.0,306.4 254.2,307.0 253.4,307.6M256.2,234.3 255.5,233.6M265.2,274.4 265.3,275.4 265.6,276.4 266.3,277.0 266.5,278.0 265.5,278.4M253.2,261.1 253.2,262.1 252.9,263.1 253.1,264.0 253.2,265.0 253.2,266.0M265.0,337.4 264.0,337.2 263.1,337.7 262.4,338.4 261.7,339.0 261.6,340.0 261.8,341.0M262.9,324.9 263.0,325.9 262.8,326.9 263.5,327.6 263.9,328.5 264.7,329.1 264.5,330.1 265.1,330.9 265.5,331.8M260.8,205.9 259.8,206.1 259.2,206.9 258.4,207.5 257.8,208.3 256.9,208.8M255.1,320.6 255.4,321.6 255.8,322.5 256.7,322.1 257.3,321.3M251.5,362.6 251.3,363.6 250.9,364.5M263.1,209.8 262.8,210.8 262.3,211.6 262.6,212.6M260.0,276.5 259.1,276.9 258.3,277.5M259.5,339.2 258.6,339.6 257.8,340.2 257.2,341.0M258.8,234.4 258.1,235.1 258.4,236.1 258.8,237.0 259.3,237.9 260.0,238.5M253.4,329.1 253.1,330.1 252.8,331.0 252.3,331.9M257.6,311.7 256.7,312.0 256.1,312.8M255.0,304.3 254.2,303.7 253.2,304.0 252.4,304.5 251.4,304.9 250.5,305.3 250.1,306.2M258.2,277.7 257.5,278.4 257.3,279.4M268.6,260.9 268.1,261.7 267.2,262.1 266.6,263.0M261.3,215.9 260.3,215.9 259.5,216.4 258.6,217.0 258.7,218.0 258.1,218.7 258.6,219.6" fill="none" stroke="#10e810" stroke-width="0.75" stroke-linecap="round" stroke-linejoin="round"/><path d="M253.8,209.5 254.5,210.3 255.1,211.1 255.6,211.9 255.9,212.9 255.8,213.9 255.2,214.7M261.4,219.9 261.6,220.9 261.5,221.9 261.2,222.8 260.9,223.8 260.7,224.8 259.9,225.4 259.3,226.2M250.6,335.4 249.6,335.6 249.6,336.6 249.7,337.6 250.0,338.5M258.4,338.6 257.8,339.4 258.4,340.2 258.0,341.1 258.3,342.0M259.1,324.3 258.2,324.8 257.8,325.7 257.6,326.7 257.3,327.6 257.2,328.6M253.8,301.5 254.6,302.1 255.0,303.0 255.5,303.9 256.4,304.4M263.9,295.9 263.7,296.9 263.1,297.8 262.2,298.2 261.7,299.1 261.6,300.1M254.9,225.6 253.9,225.4 253.1,225.8 252.1,226.1 251.8,227.0M252.6,284.5 251.7,284.1 250.8,284.6 250.4,285.5M269.2,301.9 268.6,301.1 267.8,300.5M256.2,282.5 256.8,283.3 257.4,284.1 257.9,284.9 258.2,285.9M264.1,259.9 263.6,260.7 263.0,261.5 263.3,262.5 263.5,263.4M257.7,224.8 257.0,225.5 256.1,225.9 255.2,226.4M269.9,301.5 268.9,301.5M259.6,255.6 258.9,256.3 258.3,257.1M260.8,292.8 260.4,293.7 260.0,294.6 260.5,295.5 260.5,296.5 259.9,297.2 259.8,298.2 260.2,299.1 260.3,300.1M251.3,294.4 250.4,294.1 249.7,294.8 250.2,295.7 249.6,296.5 248.8,297.2M255.5,261.2 256.2,260.4 255.2,260.2M257.5,255.9 256.7,256.5 255.9,257.0 255.2,257.8 255.1,258.8 255.5,259.7 256.3,260.2 256.3,261.2M264.6,336.8 263.6,336.7 263.0,337.5 263.7,338.2 264.6,338.5M263.1,304.4 263.2,305.4 262.9,306.3 263.6,307.1 264.4,307.7M249.1,261.5 248.5,262.2 248.0,263.1M266.9,278.6 267.4,279.5 268.2,280.1M256.7,224.4 255.8,224.8 255.1,225.5M251.0,321.1 250.5,322.0 251.0,322.8M257.7,265.4 257.0,266.1 256.1,266.6 255.7,267.5 254.9,268.1 254.0,268.6M246.2,293.1 246.7,294.0 247.5,294.6 247.9,295.5 247.9,296.5 247.1,297.1M264.0,259.7 263.0,259.6 262.6,260.5 262.1,261.4 261.3,261.9 260.4,262.5 259.8,263.3 259.3,264.1 259.1,265.1M252.7,232.3 253.0,233.2 253.8,233.7 254.1,234.7 253.7,235.6 252.9,236.1M252.8,327.4 252.0,326.9 251.1,327.2 250.3,327.9M253.6,313.4 253.8,314.4 253.8,315.4 254.7,315.7 255.0,316.7M255.2,245.3 254.8,246.2 253.9,246.7 253.6,247.6M247.9,252.1 248.8,252.4 249.7,252.9 250.5,253.5 250.7,254.5 250.1,255.3 249.4,255.9M249.1,289.4 248.8,290.4 248.4,291.3M257.5,307.0 256.7,307.7 255.8,308.1M250.8,255.0 249.9,254.7M262.2,326.9 261.3,326.7 260.5,327.3 259.9,328.1 259.2,328.8 259.0,329.8 259.2,330.8 260.1,331.2 260.8,330.5M259.4,257.8 259.7,258.8 260.1,259.7 259.8,260.6 258.9,261.1 258.8,262.0 258.6,263.0 258.5,264.0 258.4,265.0" fill="none" stroke="#12bc12" stroke-width="0.75" stroke-linecap="round" stroke-linejoin="round"/><path d="M260.2,324.2 260.1,325.2 259.6,326.0 258.7,326.5 258.0,327.3 257.9,328.3 257.7,329.2 257.6,330.2M265.1,340.7 264.5,341.5M258.3,218.9 257.5,218.3 256.6,218.9M269.1,283.8 268.5,284.7 268.1,285.6 267.5,286.3 266.7,287.0 266.0,287.7M264.8,272.5 265.2,273.4 265.3,274.4M248.0,296.5 248.1,297.5 248.6,298.4M253.6,245.5 252.7,245.2 251.7,245.3 250.7,245.7M259.5,349.9 258.5,350.1 257.9,350.9 257.7,351.9 257.5,352.9 257.8,353.8 258.0,354.8M264.9,243.8 264.6,244.7 263.6,244.9 262.8,245.5 262.1,246.1 261.2,246.7M260.9,363.5 261.3,364.4M260.1,294.2 260.0,295.2 259.9,296.2 259.5,297.1 259.4,298.1 258.6,298.7 258.1,299.6 257.4,300.2M258.6,244.5 257.6,244.6 256.6,244.9 255.8,245.4 255.1,246.1 255.7,246.9 256.1,247.8 256.3,248.8 256.8,249.6M259.7,311.1 259.4,312.1 259.0,313.0 258.5,313.8 258.5,314.8 257.9,315.6 257.9,316.6 258.0,317.6 257.7,318.5M257.5,322.2 256.5,322.1 255.8,322.8 256.1,323.8 256.8,324.4M258.3,267.9 257.9,267.0 256.9,267.4 256.0,267.7 255.4,268.5 255.4,269.5 255.3,270.5M253.7,354.1 254.5,353.4 253.7,352.8 252.7,353.1M255.9,325.6 255.3,326.4 255.0,327.3M254.4,345.6 254.7,346.5 254.5,347.5M257.8,347.6 258.1,348.6 258.1,349.6 258.5,350.5 258.7,351.5M258.8,356.3 258.2,355.5 257.5,356.2 256.8,357.0 256.0,357.5 255.1,357.9 255.1,358.9 254.6,359.7M259.6,256.3 259.1,255.4 258.1,255.3 257.2,255.8 256.6,256.6 256.0,257.3 255.3,258.1 254.9,259.0 254.6,260.0M254.6,285.0 254.2,284.0 253.5,284.8 253.4,285.8 252.7,286.6 252.1,287.3M261.4,233.3 260.6,232.7 259.7,232.2 258.7,232.2 257.8,232.7M261.7,212.9 260.7,212.7 260.0,213.4 259.1,213.9 259.1,214.9 259.6,215.8 260.1,216.6M258.8,318.3 258.0,318.8 257.3,319.6 256.8,320.4 256.0,321.1 255.2,321.7 254.4,322.3M251.6,259.0 251.9,259.9 252.6,260.6 252.8,261.6 253.6,262.2 253.2,263.1M258.1,269.1 258.6,269.9 258.7,270.9M256.8,270.6 256.8,271.6 256.5,272.6 255.7,273.2 255.1,274.0 254.2,274.4 253.5,275.2 252.8,275.8 251.8,276.0M262.6,233.2 262.2,234.1 261.7,234.9" fill="none" stroke="#12bc12" stroke-width="1.0" stroke-linecap="round" stroke-linejoin="round"/><path d="M252.4,249.3 252.1,248.4 251.1,248.3 250.3,248.9 249.8,249.8 249.5,250.7 249.8,251.7M263.5,329.9 262.7,329.4 261.7,329.8 261.5,330.7 261.9,331.7 262.2,332.6 263.1,332.3 264.0,332.8M253.1,310.7 252.3,310.0 251.6,310.7M263.8,269.0 262.9,268.5 262.2,269.2 261.4,269.8 261.3,270.8 260.9,271.7 260.0,272.3M251.4,317.9 250.6,318.3 249.8,319.0M258.9,263.7 259.8,264.2 260.3,265.0 261.1,264.4 262.0,264.8 262.6,265.6 262.0,266.4 261.6,267.4 261.5,268.4M255.1,268.8 255.0,269.8 254.5,270.7M252.2,343.4 251.3,343.0M249.3,286.9 248.3,286.7M262.1,356.8 261.1,357.0 260.3,357.5 259.6,358.3 259.6,359.3M263.5,320.2 263.1,319.2 262.2,319.4 261.2,319.6 260.2,319.7 259.5,320.4M267.4,281.3 266.8,280.4 265.9,280.9M268.0,271.9 267.1,272.2 266.1,272.5M259.3,319.9 258.4,319.7 257.5,320.1 256.8,320.8 256.9,321.8 256.9,322.8 256.9,323.8 256.6,324.8" fill="none" stroke="#066606" stroke-width="1.0" stroke-linecap="round" stroke-linejoin="round"/><path d="M256.0,317.0 255.5,316.2 254.6,316.6 253.6,316.4M262.2,238.3 262.4,239.3 261.6,239.9 260.8,240.5 260.5,241.4M264.9,227.4 264.1,228.1 264.0,229.0 263.8,230.0 263.7,231.0 263.0,231.8 263.1,232.8M256.8,314.1 255.9,314.6 255.0,315.0 254.5,315.9M254.7,323.0 254.6,324.0 254.1,324.8 253.9,325.8 254.5,326.5M255.6,348.6 255.2,349.6 254.8,350.5 254.6,351.4 254.1,352.3 253.2,352.7M257.8,227.2 257.1,227.8 256.2,228.3M256.0,324.3 256.0,325.3 256.7,326.0 257.5,326.6 257.8,327.5 257.6,328.5M265.2,216.6 264.2,216.2 263.6,217.0 264.0,217.9 264.5,218.8 264.7,219.7 264.7,220.7M255.8,324.1 254.8,324.1 254.1,324.8 253.2,325.2 252.5,325.9M264.0,307.3 264.1,308.3 263.9,309.3 263.4,310.2 262.7,310.9 262.1,311.7 261.6,312.6M253.6,317.6 252.6,317.5M263.6,215.2 263.9,216.2 264.4,217.0 264.9,217.9M255.6,370.8 255.8,371.8M255.1,225.6 255.6,226.4 256.5,225.9 257.0,225.1 257.9,225.4M261.1,238.4 260.1,238.1 259.2,238.5 258.7,239.3 258.6,240.3 258.1,241.2M256.8,285.4 255.8,285.4 255.2,286.2M266.3,282.2 265.4,282.4 264.6,283.1 264.1,284.0 263.4,284.6M265.0,231.2 265.3,232.2" fill="none" stroke="#066606" stroke-width="0.75" stroke-linecap="round" stroke-linejoin="round"/><path d="M266.5,259.5 265.7,258.9 264.7,259.2 264.0,259.9 263.8,260.9 263.9,261.9 264.8,262.2 265.8,262.5 266.4,263.3M253.6,340.3 252.7,340.8 252.1,341.6M255.6,237.7 254.8,238.2 254.6,239.2M259.0,269.5 259.7,270.2 260.6,270.7M255.1,262.8 254.2,262.5 253.4,263.2 252.9,264.0 252.3,264.8 252.1,265.8M266.6,318.9 266.3,319.9 265.9,320.8 265.8,321.8 266.0,322.8M251.8,303.6 252.0,304.6M260.2,340.4 259.2,340.1 258.6,340.8 258.1,341.7M251.9,275.0 252.2,276.0 252.3,277.0 252.6,277.9 253.3,278.6 253.5,279.5 253.4,280.5 252.5,281.0 252.4,282.0M248.5,265.0 248.3,266.0 248.3,267.0M256.9,275.1 256.0,275.6 255.1,276.0M258.6,290.6 257.8,291.1 257.6,292.1 257.5,293.1M248.5,239.5 247.8,240.3 247.5,241.2M256.0,272.2 256.1,273.2 256.7,274.0M263.8,318.4 264.7,318.8 265.4,319.6 265.8,320.5 266.8,320.2 267.7,319.7 268.5,319.1 269.4,318.7M257.4,264.5 257.0,265.4 256.3,266.1M250.8,254.5 250.2,255.3 249.4,255.8M257.5,281.9 257.6,282.9 257.9,283.9 258.2,284.9 258.3,285.9 258.9,286.6 258.7,287.6 259.6,288.1M265.7,267.9 265.9,268.9 265.6,269.8 265.6,270.8 265.8,271.8 265.9,272.8M267.8,233.0 267.0,232.4 266.1,232.8 265.8,233.8M268.2,264.6 267.6,265.5 266.9,266.2 266.0,266.6 265.3,267.3 264.7,268.1 263.8,268.5 263.4,269.4 263.5,270.4M265.2,327.4 264.3,327.6 263.6,328.4 263.0,329.1 262.2,329.8 261.5,330.5 261.2,331.5 262.0,330.9 263.0,330.6M254.4,261.8 254.3,262.8 254.1,263.7 253.9,264.7 253.3,265.5 253.4,266.5 253.9,267.4 254.6,268.1M269.2,278.9 268.3,278.8 268.2,279.8 268.3,280.8 268.9,281.5 269.2,282.5 268.8,283.4 269.0,284.4" fill="none" stroke="#10e810" stroke-width="1.0" stroke-linecap="round" stroke-linejoin="round"/><path d="M259.9,337.2 259.5,338.1 258.8,338.8 258.2,339.6 257.9,340.6 258.3,341.5M261.5,332.6 261.4,333.6 261.1,334.5 261.1,335.5 261.7,336.4 262.6,336.8 263.0,337.7 263.1,338.7 262.6,339.5M260.8,286.5 261.4,287.3 262.2,287.9 263.1,287.6 263.6,286.7 264.4,286.1 264.2,285.1 264.0,284.1M249.5,288.2 249.6,289.2M260.0,262.4 260.9,262.9 261.7,262.5 262.7,262.9M262.4,345.4 262.4,346.4 263.1,347.1M260.6,236.4 261.3,235.8 261.0,234.8 260.0,234.5 259.3,235.2 258.5,235.8 258.1,236.7 257.3,237.3M266.9,316.9 265.9,316.8 265.4,317.7 265.3,318.7 265.3,319.7 264.8,320.5 264.8,321.5 265.3,322.3M260.8,240.8 260.3,241.7 259.8,242.6 259.3,243.4M254.0,249.3 254.3,250.3 254.9,251.1 255.1,252.1 254.5,252.8 254.6,253.8 254.9,254.8M245.4,302.8 246.2,303.4 246.0,304.3M257.9,286.3 257.8,287.3 258.2,288.3M258.5,316.5 257.6,316.1 256.8,316.7 257.1,317.7 257.3,318.6" fill="none" stroke="#0b940b" stroke-width="0.75" stroke-linecap="round" stroke-linejoin="round"/><path d="M249.7,290.0a0.8,1.0 0 1 0 1.5,0a0.8,1.0 0 1 0 -1.5,0M251.8,223.8a0.6,0.8 0 1 0 1.3,0a0.6,0.8 0 1 0 -1.3,0M259.8,257.7a0.7,0.9 0 1 0 1.4,0a0.7,0.9 0 1 0 -1.4,0M256.9,375.4a1.1,1.4 0 1 0 2.1,0a1.1,1.4 0 1 0 -2.1,0M259.8,281.4a0.7,1.0 0 1 0 1.5,0a0.7,1.0 0 1 0 -1.5,0M263.4,351.7a0.8,1.0 0 1 0 1.5,0a0.8,1.0 0 1 0 -1.5,0M261.1,259.1a0.6,0.8 0 1 0 1.3,0a0.6,0.8 0 1 0 -1.3,0M259.2,271.0a0.8,1.1 0 1 0 1.7,0a0.8,1.1 0 1 0 -1.7,0M246.8,256.1a0.7,0.9 0 1 0 1.3,0a0.7,0.9 0 1 0 -1.3,0M256.5,375.6a0.9,1.2 0 1 0 1.8,0a0.9,1.2 0 1 0 -1.8,0M253.0,354.8a0.9,1.2 0 1 0 1.8,0a0.9,1.2 0 1 0 -1.8,0M258.1,212.0a0.9,1.1 0 1 0 1.7,0a0.9,1.1 0 1 0 -1.7,0M256.4,291.5a1.0,1.3 0 1 0 1.9,0a1.0,1.3 0 1 0 -1.9,0M256.4,246.9a0.7,0.9 0 1 0 1.4,0a0.7,0.9 0 1 0 -1.4,0M267.8,293.8a0.9,1.1 0 1 0 1.8,0a0.9,1.1 0 1 0 -1.8,0M249.7,290.8a0.9,1.2 0 1 0 1.8,0a0.9,1.2 0 1 0 -1.8,0" fill="none" stroke="#12bc12" stroke-width="0.8"/><path d="M263.9,293.8a0.9,1.2 0 1 0 1.9,0a0.9,1.2 0 1 0 -1.9,0M261.5,315.3a0.8,1.0 0 1 0 1.5,0a0.8,1.0 0 1 0 -1.5,0M246.1,317.0a0.9,1.1 0 1 0 1.8,0a0.9,1.1 0 1 0 -1.8,0M252.9,310.3a1.1,1.4 0 1 0 2.1,0a1.1,1.4 0 1 0 -2.1,0M259.4,278.3a0.6,0.8 0 1 0 1.3,0a0.6,0.8 0 1 0 -1.3,0M270.9,350.1a0.7,0.9 0 1 0 1.4,0a0.7,0.9 0 1 0 -1.4,0M246.9,278.6a0.9,1.1 0 1 0 1.7,0a0.9,1.1 0 1 0 -1.7,0M258.8,238.8a0.9,1.2 0 1 0 1.9,0a0.9,1.2 0 1 0 -1.9,0M254.2,258.2a0.7,0.9 0 1 0 1.4,0a0.7,0.9 0 1 0 -1.4,0M251.3,279.1a0.8,1.0 0 1 0 1.6,0a0.8,1.0 0 1 0 -1.6,0M261.8,239.5a0.7,0.9 0 1 0 1.4,0a0.7,0.9 0 1 0 -1.4,0M248.7,318.0a0.8,1.1 0 1 0 1.6,0a0.8,1.1 0 1 0 -1.6,0M247.3,294.5a0.8,1.0 0 1 0 1.5,0a0.8,1.0 0 1 0 -1.5,0M249.4,302.1a1.1,1.4 0 1 0 2.1,0a1.1,1.4 0 1 0 -2.1,0M262.9,335.1a1.1,1.4 0 1 0 2.2,0a1.1,1.4 0 1 0 -2.2,0" fill="none" stroke="#0b940b" stroke-width="0.8"/><path d="M267.5,270.7a0.9,1.2 0 1 0 1.9,0a0.9,1.2 0 1 0 -1.9,0M260.4,239.2a0.8,1.0 0 1 0 1.6,0a0.8,1.0 0 1 0 -1.6,0M262.3,209.2a0.7,0.9 0 1 0 1.5,0a0.7,0.9 0 1 0 -1.5,0M269.6,297.7a1.0,1.3 0 1 0 1.9,0a1.0,1.3 0 1 0 -1.9,0M266.6,296.6a0.8,1.1 0 1 0 1.7,0a0.8,1.1 0 1 0 -1.7,0M249.8,365.6a0.9,1.1 0 1 0 1.8,0a0.9,1.1 0 1 0 -1.8,0M259.5,323.2a1.0,1.3 0 1 0 2.0,0a1.0,1.3 0 1 0 -2.0,0M252.1,277.4a1.0,1.3 0 1 0 2.0,0a1.0,1.3 0 1 0 -2.0,0M266.8,213.9a0.6,0.8 0 1 0 1.2,0a0.6,0.8 0 1 0 -1.2,0M256.7,279.5a0.6,0.8 0 1 0 1.3,0a0.6,0.8 0 1 0 -1.3,0" fill="none" stroke="#066606" stroke-width="0.8"/><path d="M256.9,271.7a1.1,1.4 0 1 0 2.2,0a1.1,1.4 0 1 0 -2.2,0M260.6,282.7a0.8,1.0 0 1 0 1.6,0a0.8,1.0 0 1 0 -1.6,0M259.8,352.3a0.6,0.8 0 1 0 1.3,0a0.6,0.8 0 1 0 -1.3,0M263.0,254.7a1.0,1.3 0 1 0 1.9,0a1.0,1.3 0 1 0 -1.9,0" fill="none" stroke="#10e810" stroke-width="0.8"/><path d="M290.8,243.1 290.7,244.9M295.9,274.5 294.1,274.5 293.0,275.9 291.3,276.6 290.1,277.9 289.0,279.4M313.4,264.0 311.7,263.3 310.0,262.8M304.0,317.7 303.3,319.4 302.1,320.7 301.1,322.2 299.6,323.2 298.6,324.6 298.0,326.4M306.0,318.5 306.2,320.3 305.8,322.1 304.9,323.7M295.2,320.5 293.5,320.0 292.3,321.3 292.0,323.1 291.7,324.9 290.6,326.3 289.3,327.6M288.4,310.2 286.6,310.3 284.9,310.9 283.6,312.1 282.8,313.7M302.8,243.5 301.7,244.9 301.6,246.7 301.7,248.5 300.9,250.1M290.0,250.2 290.2,252.0 290.6,253.8 290.7,255.5 290.9,257.3 292.1,258.6" fill="none" stroke="#0aa80a" stroke-width="1.5" stroke-linecap="round" stroke-linejoin="round"/><path d="M293.0,315.5 293.0,317.3 292.7,319.1 292.0,320.8M288.9,288.3 288.4,290.0 288.3,291.8M282.7,288.4 281.1,287.5 279.3,287.7M286.2,304.3 284.4,304.8 283.2,306.1 282.1,307.5 281.0,309.0 279.7,310.2M295.5,247.6 295.3,249.4 295.7,251.1 295.9,252.9 297.1,254.3 298.4,255.6M313.8,329.4 312.1,328.6 310.4,329.3 309.1,330.5 307.8,331.7M286.6,294.6 285.8,293.0 284.0,293.4 282.4,294.1M309.7,320.7 307.9,320.7 306.7,322.0 306.1,323.7 305.5,325.4 306.1,327.1M304.0,250.6 303.5,252.3 303.1,254.1 303.4,255.9M292.0,325.8 292.3,327.6 293.6,328.8 294.9,330.0 296.6,330.6 298.0,331.7M284.1,314.3 282.4,314.9 281.4,316.4 280.4,317.9 279.1,319.1M300.0,236.6 298.7,237.9 298.1,239.6 298.0,241.4" fill="none" stroke="#0fd00f" stroke-width="1.5" stroke-linecap="round" stroke-linejoin="round"/><path d="M280.2,341.7 279.8,343.5 280.2,345.2 280.9,346.9 281.3,348.6 282.6,349.9M310.5,251.6 311.2,253.3 312.4,254.6M298.9,265.4 297.4,264.4 295.8,265.2 294.4,266.2 293.3,267.7 292.9,269.4 292.7,271.2M292.7,264.0 290.9,263.6M296.9,296.1 295.1,295.9 293.6,296.8M296.9,267.8 296.6,269.6 295.9,271.3 296.4,273.0 296.9,274.7M311.0,321.6 309.3,322.2 307.9,323.3M315.1,244.5 313.5,245.4 312.8,247.1" fill="none" stroke="#0fd00f" stroke-width="1.25" stroke-linecap="round" stroke-linejoin="round"/><path d="M300.2,250.6 299.1,249.1 297.5,250.0 296.0,250.9 294.5,252.0 293.0,252.9M310.7,336.9 309.4,335.7 308.3,337.1 307.3,338.7 305.6,339.3M289.2,301.6 288.0,300.2 286.3,300.0" fill="none" stroke="#0aa80a" stroke-width="1.75" stroke-linecap="round" stroke-linejoin="round"/><path d="M308.0,327.1 307.3,328.8 307.0,330.6 305.9,332.0 304.5,333.1M305.7,251.7 303.9,251.4 302.3,252.1 301.4,253.7M311.5,327.3 311.3,329.1 311.8,330.8 312.8,332.3" fill="none" stroke="#0aa80a" stroke-width="1.25" stroke-linecap="round" stroke-linejoin="round"/><path d="M305.0,313.4 303.8,314.7 303.3,316.4 303.9,318.1 304.2,319.9 304.5,321.7M289.8,320.2 288.1,320.8 287.3,322.4 286.6,324.0 285.3,325.2M286.7,298.5 286.2,300.2 286.1,302.0" fill="none" stroke="#0fd00f" stroke-width="1.75" stroke-linecap="round" stroke-linejoin="round"/><path d="M279.7,339.4a1.4,1.8 0 1 0 2.7,0a1.4,1.8 0 1 0 -2.7,0M310.0,321.7a1.0,1.3 0 1 0 2.0,0a1.0,1.3 0 1 0 -2.0,0M313.0,344.8a1.0,1.3 0 1 0 2.0,0a1.0,1.3 0 1 0 -2.0,0" fill="none" stroke="#0aa80a" stroke-width="1.3"/><path d="M295.2,298.3a1.4,1.8 0 1 0 2.7,0a1.4,1.8 0 1 0 -2.7,0M291.0,304.6a1.2,1.6 0 1 0 2.5,0a1.2,1.6 0 1 0 -2.5,0M304.8,251.2a1.0,1.3 0 1 0 2.1,0a1.0,1.3 0 1 0 -2.1,0M298.4,290.3a1.1,1.4 0 1 0 2.1,0a1.1,1.4 0 1 0 -2.1,0M302.0,249.4a1.1,1.5 0 1 0 2.2,0a1.1,1.5 0 1 0 -2.2,0" fill="none" stroke="#0fd00f" stroke-width="1.3"/><path d="M290.8,237.8 290.8,238.6 290.3,239.4 290.4,240.2 290.1,241.0 289.9,241.8 289.4,242.6 289.1,243.4 288.6,244.2 289.0,245.0 289.2,245.9 288.9,246.7 288.7,247.5 288.6,248.3 288.5,249.1 288.1,249.9 287.9,250.7 287.7,251.5 287.7,252.3 287.9,253.1 288.0,253.9 287.2,254.7 287.5,255.6 287.3,256.4 287.2,257.2 287.3,258.0 286.9,258.9 286.6,259.7 286.0,260.5 285.5,261.3 285.1,262.2 285.1,263.0 284.4,263.8 284.3,264.7 284.2,265.5 284.3,266.4 284.4,267.2 283.6,268.1 283.4,268.9 282.7,269.7 282.7,270.6 283.0,271.4 283.2,272.3 283.3,273.1 283.2,274.0 282.6,274.8 283.3,275.6 283.5,276.4 284.0,277.3 283.6,278.1 283.5,278.9 283.3,279.7 283.4,280.5 283.4,281.4 283.5,282.2 283.6,283.0 283.7,283.8 283.6,284.6 283.8,285.4 283.9,286.3 283.2,287.1 283.6,287.9 283.4,288.7 283.8,289.5 283.7,290.4 283.6,291.2 283.3,292.0 283.0,292.8 283.0,293.6 282.5,294.4 283.1,295.2 283.4,296.0 283.5,296.8 283.2,297.6 283.0,298.4 282.7,299.2 282.3,300.1 283.0,300.9 282.6,301.7 282.7,302.5 282.8,303.3 282.0,304.1 282.1,304.9 282.4,305.7 282.8,306.5 283.1,307.3 282.6,308.1 283.3,308.9 283.4,309.7 282.8,310.5 282.5,311.3 283.0,312.1 283.2,312.9 283.3,313.7 283.7,314.5 283.5,315.4 283.9,316.2 284.0,317.0 283.8,317.8 284.2,318.6 284.4,319.4 283.8,320.2 284.5,321.0 284.8,321.8 284.6,322.6 284.2,323.4 283.8,324.2 283.4,325.1 283.2,325.9 283.0,326.7 283.1,327.5 282.4,328.3 282.2,329.2 282.3,330.0 282.3,330.8 281.8,331.6 282.0,332.4 281.6,333.3 281.7,334.1 281.7,334.9 281.4,335.7 281.6,336.6 281.8,337.4 281.8,338.3 281.8,339.1 281.5,339.9 281.6,340.8 281.2,341.6 280.8,342.4 281.1,343.3 281.2,344.1 281.0,345.0 281.2,345.8 281.1,346.6 281.2,347.5 281.2,348.3 281.4,349.2 281.5,350.0" fill="none" stroke="#10dc10" stroke-width="1.9794423462639452" stroke-linecap="round" stroke-linejoin="round"/><path d="M300.1,237.0 300.6,237.8 300.1,238.5 299.6,239.3 299.4,240.1 299.3,240.9 298.8,241.6 298.2,242.4 298.2,243.2 297.7,243.9 297.4,244.7 297.1,245.5 297.0,246.3 297.2,247.0 297.3,247.8 296.8,248.6 296.8,249.5 296.3,250.3 296.0,251.1 295.4,252.0 295.5,252.8 295.0,253.7 295.0,254.5 295.3,255.3 295.4,256.2 295.4,257.0 295.8,257.8 295.6,258.6 295.5,259.4 295.3,260.3 295.0,261.1 294.1,261.9 293.8,262.7 293.6,263.5 294.1,264.3 293.9,265.1 293.6,265.9 293.3,266.8 292.7,267.6 292.8,268.4 293.0,269.2 293.0,270.0 292.7,270.9 292.8,271.7 293.1,272.5 293.1,273.4 293.0,274.2 292.6,275.0 292.5,275.8 292.9,276.7 292.8,277.5 292.8,278.3 292.5,279.2 292.6,280.0 292.1,280.8 291.7,281.6 291.9,282.5 292.0,283.3 292.0,284.1 292.5,284.9 292.1,285.8 291.8,286.6 291.8,287.4 291.2,288.2 291.3,289.1 291.1,289.9 291.5,290.7 291.5,291.5 291.2,292.4 291.0,293.2 291.2,294.0 291.8,294.8 292.2,295.6 292.2,296.4 292.2,297.2 292.2,298.0 292.3,298.8 292.4,299.7 292.3,300.5 292.3,301.3 292.2,302.1 292.7,303.0 293.1,303.8 293.6,304.6 293.8,305.4 293.9,306.3 294.3,307.1 294.0,307.9 293.8,308.7 294.1,309.6 293.6,310.4 294.0,311.2 294.3,312.1 294.6,312.9 294.3,313.8 294.7,314.6 294.7,315.5 294.3,316.3 294.5,317.2 294.6,318.0 295.0,318.8 295.5,319.6 295.6,320.5 295.4,321.3 294.8,322.1 294.6,322.9 294.5,323.7 294.5,324.6 294.3,325.4 294.3,326.2 293.9,327.0 294.2,327.8 294.2,328.7 294.3,329.5 293.5,330.3 293.8,331.1 293.9,331.9 293.8,332.8 294.2,333.6 294.0,334.4 294.1,335.2 294.6,336.1 294.3,336.9 294.5,337.7 294.2,338.5 294.6,339.4 294.6,340.2 294.7,341.0" fill="none" stroke="#10dc10" stroke-width="2.0464079351129114" stroke-linecap="round" stroke-linejoin="round"/><path d="M301.4,243.0 301.3,243.8 301.5,244.6 301.3,245.4 302.0,246.1 302.7,246.9 303.1,247.7 303.5,248.5 303.7,249.3 303.2,250.1 303.6,250.9 303.6,251.6 304.0,252.4 304.1,253.2 303.8,254.0 303.9,254.8 303.5,255.5 303.4,256.3 303.1,257.0 303.4,257.8 303.1,258.5 301.9,259.3 301.5,260.1 301.5,260.8 301.2,261.6 301.1,262.3 300.7,263.1 300.4,263.8 300.4,264.6 300.7,265.4 300.1,266.2 299.8,266.9 299.6,267.7 298.7,268.5 298.2,269.2 297.4,270.0 297.3,270.8" fill="none" stroke="#0fbf0f" stroke-width="2.000085021208039" stroke-linecap="round" stroke-linejoin="round"/><path d="M310.8,237.0 310.5,237.9 311.5,238.7 311.0,239.6 311.8,240.4 312.5,241.3 312.0,242.1 311.6,243.0 311.4,243.8 311.5,244.7 311.4,245.5 311.2,246.4 311.4,247.2 311.5,248.1 311.4,248.9 311.1,249.8 311.7,250.6 311.8,251.5 311.8,252.3 311.5,253.2 311.8,254.0 311.7,254.8 311.3,255.6 311.2,256.4 311.4,257.3 311.0,258.1 310.8,258.9 310.6,259.7 310.8,260.5 310.8,261.3 310.9,262.2 310.5,263.0 309.8,263.8 310.0,264.6 310.7,265.4 310.4,266.1 311.2,266.9 311.4,267.7 311.6,268.4 311.9,269.2 311.9,270.0 312.2,270.7 312.5,271.5 313.6,272.3 314.0,273.0 313.8,273.8 313.6,274.6 313.4,275.4 313.3,276.2 312.8,277.1 312.7,277.9 312.2,278.7 312.7,279.5 312.3,280.3 312.3,281.1 311.7,281.9 310.7,282.7 310.8,283.6 311.1,284.4 310.2,285.2 309.8,286.0 310.2,286.8 310.6,287.6 310.6,288.4 311.2,289.2 311.0,290.0 311.8,290.8 311.9,291.6 311.9,292.4 312.3,293.2 312.7,294.0 312.3,294.8 312.3,295.7 312.3,296.5 312.0,297.3 311.7,298.2 311.9,299.0 312.1,299.8 311.4,300.7 310.9,301.5 311.1,302.3 310.9,303.2 310.6,304.0 311.1,304.8 310.5,305.6 311.0,306.4 311.3,307.2 312.0,308.0 311.5,308.8 311.4,309.6 311.5,310.4 311.6,311.2 311.7,312.0 311.4,312.8 311.3,313.6 311.7,314.4 312.0,315.2 312.0,316.0 312.7,316.8 313.1,317.7 312.9,318.5 313.0,319.3 313.1,320.2 313.8,321.0 314.2,321.8 314.3,322.7 315.1,323.5 314.3,324.3 314.9,325.2 315.2,326.0 315.2,326.8 314.4,327.5 314.0,328.3 313.3,329.1 313.3,329.8 312.5,330.6 312.1,331.4 311.8,332.2 311.5,332.9 311.4,333.7 310.5,334.5 310.1,335.2 310.4,336.0 310.5,336.8 310.6,337.6 310.9,338.4 311.0,339.2 310.9,340.0 311.6,340.8 311.7,341.6 311.8,342.4 311.6,343.2 311.9,344.0 312.0,344.8 312.0,345.6 312.1,346.4 312.5,347.2 313.4,348.0" fill="none" stroke="#0fbf0f" stroke-width="2.074229261240097" stroke-linecap="round" stroke-linejoin="round"/><path d="M302.2,292.0 302.3,292.8 302.9,293.5 302.7,294.3 303.0,295.1 302.7,295.8 302.7,296.6 302.9,297.4 303.1,298.1 303.8,298.9 303.8,299.7 304.2,300.4 304.3,301.2 304.2,302.0 304.2,302.8 303.9,303.7 303.5,304.5 303.2,305.3 303.4,306.1 303.0,307.0 302.7,307.8 303.1,308.6 303.8,309.4 303.3,310.3 303.5,311.1 302.7,311.9 303.1,312.7 303.0,313.6 303.2,314.4 303.8,315.2 304.0,316.0 304.7,316.9 304.3,317.7 304.5,318.5 305.0,319.3 305.6,320.2 305.2,321.0 305.2,321.8 305.1,322.7 304.7,323.5 304.2,324.4 303.9,325.2 303.9,326.1 304.1,326.9 303.8,327.8 303.1,328.6 302.5,329.5 302.1,330.3 301.9,331.1 301.9,331.9 302.0,332.7 301.8,333.6 301.8,334.4 301.8,335.2 302.3,336.0 302.0,336.8 302.1,337.6 301.6,338.4 301.5,339.2 301.6,340.1 301.4,340.9 301.7,341.7 301.9,342.5" fill="none" stroke="#10dc10" stroke-width="2.0948613413022823" stroke-linecap="round" stroke-linejoin="round"/><path d="M285.0,300.0 284.7,300.8 285.0,301.6 285.3,302.4 285.7,303.2 285.6,304.0 285.6,304.8 285.7,305.6 285.9,306.4 286.0,307.2 286.4,308.0 286.3,308.8 286.4,309.6 286.3,310.4 286.5,311.2 286.8,312.0 287.0,312.8 287.2,313.6 287.4,314.5 287.7,315.3 287.8,316.1 288.2,316.9 288.3,317.8 288.4,318.6 288.7,319.4 288.3,320.2 288.1,321.1 287.8,321.9 288.0,322.7 287.9,323.5 288.3,324.4 289.1,325.2 289.2,326.0 289.1,326.8 288.6,327.6 288.4,328.5 288.2,329.3 288.6,330.1 288.5,330.9 288.2,331.8 287.8,332.6 288.1,333.4 288.2,334.2 288.0,335.1 287.6,335.9 287.2,336.7 287.2,337.5 287.2,338.4 287.4,339.2 287.1,340.0 287.3,340.8 286.8,341.6 287.5,342.5 287.4,343.3 287.5,344.1 287.9,344.9 288.4,345.7 288.2,346.5 288.6,347.4 288.7,348.2 288.3,349.0" fill="none" stroke="#10dc10" stroke-width="1.784643334671627" stroke-linecap="round" stroke-linejoin="round"/><path d="M305.6,238.0 305.7,238.8 305.1,239.6 305.3,240.4 304.9,241.2 305.2,242.0 305.4,242.8 305.8,243.6 306.0,244.4 305.5,245.2 305.7,246.0 305.4,246.8 304.9,247.6 305.2,248.4 305.1,249.2 305.1,250.0 305.3,250.8 305.1,251.6 305.6,252.4 305.8,253.2 305.5,254.0 305.4,254.8 305.3,255.6 305.6,256.4 305.4,257.2 306.3,258.0 306.6,258.8 306.6,259.6 306.8,260.4 306.8,261.2 306.9,262.0 306.2,262.8 306.1,263.6 305.9,264.5 305.7,265.3 305.5,266.1 305.6,266.9 305.1,267.8 305.6,268.6 305.1,269.4 305.4,270.2 305.1,271.1 304.5,271.9 304.0,272.7 304.3,273.5 304.5,274.4 303.8,275.2 303.5,276.0 304.0,276.8 304.0,277.6 303.9,278.5 304.5,279.3 304.7,280.1 304.3,280.9 304.1,281.8 304.5,282.6 304.5,283.4 305.2,284.2 305.1,285.1 305.3,285.9 305.7,286.7 305.9,287.5 305.9,288.4 305.7,289.2 305.9,290.0" fill="none" stroke="#10dc10" stroke-width="1.779875179572961" stroke-linecap="round" stroke-linejoin="round"/><path d="M296.4,300.0 296.5,300.8 296.7,301.6 296.7,302.4 296.0,303.2 296.1,304.0 296.7,304.8 296.7,305.6 297.4,306.4 298.2,307.2 297.9,308.0 297.9,308.8 297.3,309.6 297.9,310.4 297.7,311.2 297.5,312.0 297.6,312.8 298.2,313.6 297.7,314.4 297.7,315.2 297.1,316.0 297.2,316.8 297.4,317.6 297.5,318.4 297.5,319.2 297.7,320.0 297.8,320.8 297.6,321.6 297.3,322.4 297.1,323.2 296.9,324.0 297.1,324.8 297.3,325.6 296.7,326.4 297.1,327.2 297.3,328.0 297.7,328.8 298.3,329.6 298.5,330.4 298.4,331.2 299.0,332.0 299.2,332.8 299.1,333.6 299.1,334.4 299.6,335.2 299.7,336.0 298.9,336.8 298.7,337.6 298.4,338.4 298.9,339.2 299.0,340.1 298.6,340.9 298.7,341.7 298.4,342.5 298.3,343.3 298.4,344.1 297.8,344.9 297.5,345.8 297.1,346.6 297.2,347.4 297.1,348.2 297.2,349.0" fill="none" stroke="#10dc10" stroke-width="1.8185619847166448" stroke-linecap="round" stroke-linejoin="round"/><path d="M313.6,300.0 314.0,300.8 313.7,301.7 313.3,302.5 313.4,303.3 313.7,304.2 313.7,305.0 314.3,305.8 313.6,306.7 314.1,307.5 314.1,308.3 314.2,309.2 314.1,310.0 313.9,310.8 313.9,311.7 313.9,312.5 314.0,313.3 313.7,314.2 313.5,315.0 313.6,315.8 313.3,316.7 313.4,317.5 313.3,318.3 312.9,319.2 312.9,320.0 313.1,320.8 313.0,321.7 313.5,322.5 313.7,323.3 313.6,324.2 313.8,325.0 314.4,325.8 314.0,326.7 313.8,327.5 314.2,328.3 314.1,329.2 314.2,330.0 314.1,330.8 314.0,331.7 314.1,332.5 314.0,333.3 314.3,334.2 314.2,335.0 313.8,335.8 314.1,336.7 313.8,337.5 313.8,338.3 313.6,339.2 313.4,340.0 313.6,340.8 313.9,341.7 313.4,342.5 313.0,343.3 313.1,344.2 312.6,345.0" fill="none" stroke="#0fbf0f" stroke-width="1.8273186190699922" stroke-linecap="round" stroke-linejoin="round"/><path d="M280.6,278.0 280.9,278.8 281.2,279.6 280.4,280.4 280.9,281.2 280.7,282.0 280.5,282.8 280.8,283.6 281.0,284.4 280.7,285.2 280.9,286.0 280.7,286.8 280.8,287.6 280.3,288.4 280.1,289.2 280.3,290.0 280.6,290.8 280.7,291.7 280.7,292.5 280.9,293.3 280.7,294.2 280.2,295.0 280.5,295.8 280.2,296.7 280.8,297.5 280.9,298.3 281.3,299.2 281.2,300.0" fill="none" stroke="#10dc10" stroke-width="2.062927695547359" stroke-linecap="round" stroke-linejoin="round"/><path d="M288.2,282.0 288.4,282.8 288.6,283.6 288.5,284.4 289.2,285.2 288.7,286.1 288.9,286.9 288.6,287.7 288.8,288.5 288.9,289.3 288.4,290.1 289.2,290.9 289.4,291.8 289.2,292.6 289.5,293.4 289.7,294.2 289.3,295.0 289.2,295.8 288.9,296.7 288.8,297.5 288.7,298.3 288.2,299.2 288.1,300.0 287.8,300.8 287.8,301.7 288.0,302.5 288.3,303.3 288.3,304.2 288.2,305.0" fill="none" stroke="#0fbf0f" stroke-width="1.6506436243366036" stroke-linecap="round" stroke-linejoin="round"/><ellipse cx="311.5" cy="244.7" rx="1.6" ry="2.2" fill="none" stroke="#12d012" stroke-width="1.5"/><ellipse cx="312.2" cy="254.0" rx="1.5" ry="2.0" fill="none" stroke="#12d012" stroke-width="1.5"/><ellipse cx="283.9" cy="324.0" rx="1.6" ry="2.2" fill="none" stroke="#12d012" stroke-width="1.5"/><ellipse cx="290.8" cy="339.0" rx="1.8" ry="2.4" fill="none" stroke="#12d012" stroke-width="1.5"/><ellipse cx="310.0" cy="334.0" rx="1.8" ry="2.4" fill="none" stroke="#12d012" stroke-width="1.5"/><ellipse cx="301.5" cy="256.0" rx="1.4" ry="1.9" fill="none" stroke="#12d012" stroke-width="1.5"/><ellipse cx="296.0" cy="275.0" rx="1.2" ry="1.6" fill="none" stroke="#12d012" stroke-width="1.5"/><ellipse cx="306.0" cy="283.0" rx="1.3" ry="1.8" fill="none" stroke="#12d012" stroke-width="1.5"/><ellipse cx="292.0" cy="240.0" rx="1.2" ry="1.6" fill="none" stroke="#12d012" stroke-width="1.5"/><ellipse cx="287.0" cy="262.0" rx="1.3" ry="1.8" fill="none" stroke="#12d012" stroke-width="1.5"/><ellipse cx="300.0" cy="318.0" rx="1.5" ry="2.0" fill="none" stroke="#12d012" stroke-width="1.5"/><ellipse cx="307.0" cy="343.0" rx="1.4" ry="1.9" fill="none" stroke="#12d012" stroke-width="1.5"/><ellipse cx="284.0" cy="346.0" rx="1.2" ry="1.6" fill="none" stroke="#12d012" stroke-width="1.5"/></g><rect x="163.4" y="234.0" width="19.4" height="55.4" fill="none" stroke="#e0e0e0" stroke-width="1"/><rect x="247.4" y="241.5" width="19.3" height="57.2" fill="none" stroke="#e0e0e0" stroke-width="1"/><line x1="182.8" y1="234.3" x2="190.9" y2="235.2" stroke="#fff" stroke-width="1" stroke-dasharray="1.5 1.2"/><line x1="182.8" y1="289.4" x2="190.9" y2="350.0" stroke="#fff" stroke-width="1" stroke-dasharray="1.5 1.2"/><line x1="266.7" y1="241.5" x2="279.0" y2="236.0" stroke="#fff" stroke-width="1" stroke-dasharray="1.5 1.2"/><line x1="266.7" y1="298.7" x2="275.8" y2="350.0" stroke="#fff" stroke-width="1" stroke-dasharray="1.5 1.2"/><line x1="160.0" y1="344.5" x2="160.0" y2="370.6" stroke="#fff" stroke-width="2"/></g>
<text x="341.5" y="184.2" font-size="13" font-weight="bold" font-style="normal" text-anchor="start" fill="#000">F</text>
<text x="443.9" y="202.3" font-size="8" font-weight="bold" font-style="italic" text-anchor="middle" fill="#000">drp-1;fzo-1</text>
<line x1="379.7" y1="206.6" x2="503.7" y2="206.6" stroke="#333" stroke-width="1"/>
<line x1="368.3" y1="222.4" x2="368.3" y2="330.7" stroke="#333" stroke-width="1"/>
<line x1="367.8" y1="330.2" x2="425.3" y2="330.2" stroke="#333" stroke-width="1"/>
<line x1="365.3" y1="330.2" x2="368.3" y2="330.2" stroke="#333" stroke-width="1"/>
<text x="0" y="0" font-size="7" font-weight="normal" font-style="normal" text-anchor="end" fill="#222" transform="translate(363.3 332.9) scale(1 1.12)" stroke="#222" stroke-width="0.2">0</text>
<line x1="365.3" y1="308.64" x2="368.3" y2="308.64" stroke="#333" stroke-width="1"/>
<text x="0" y="0" font-size="7" font-weight="normal" font-style="normal" text-anchor="end" fill="#222" transform="translate(363.3 311.34) scale(1 1.12)" stroke="#222" stroke-width="0.2">10</text>
<line x1="365.3" y1="287.08" x2="368.3" y2="287.08" stroke="#333" stroke-width="1"/>
<text x="0" y="0" font-size="7" font-weight="normal" font-style="normal" text-anchor="end" fill="#222" transform="translate(363.3 289.78) scale(1 1.12)" stroke="#222" stroke-width="0.2">20</text>
<line x1="365.3" y1="265.52" x2="368.3" y2="265.52" stroke="#333" stroke-width="1"/>
<text x="0" y="0" font-size="7" font-weight="normal" font-style="normal" text-anchor="end" fill="#222" transform="translate(363.3 268.21999999999997) scale(1 1.12)" stroke="#222" stroke-width="0.2">30</text>
<line x1="365.3" y1="243.96" x2="368.3" y2="243.96" stroke="#333" stroke-width="1"/>
<text x="0" y="0" font-size="7" font-weight="normal" font-style="normal" text-anchor="end" fill="#222" transform="translate(363.3 246.66) scale(1 1.12)" stroke="#222" stroke-width="0.2">40</text>
<line x1="365.3" y1="222.4" x2="368.3" y2="222.4" stroke="#333" stroke-width="1"/>
<text x="0" y="0" font-size="7" font-weight="normal" font-style="normal" text-anchor="end" fill="#222" transform="translate(363.3 225.1) scale(1 1.12)" stroke="#222" stroke-width="0.2">50</text>
<text x="350" y="279.6" font-size="7.4" font-weight="bold" font-style="normal" text-anchor="middle" fill="#000" transform="rotate(-90 350 279.6)">% mitochondrial coverage</text>
<line x1="384.45" y1="256.4" x2="384.45" y2="253.2" stroke="#222" stroke-width="1"/>
<line x1="380.15" y1="253.2" x2="388.75" y2="253.2" stroke="#222" stroke-width="1.1"/>
<rect x="377.3" y="256.4" width="14.3" height="73.80000000000001" fill="#bcb4d8" stroke="#222" stroke-width="1.1"/>
<line x1="408.75" y1="259.6" x2="408.75" y2="256.6" stroke="#222" stroke-width="1"/>
<line x1="404.45" y1="256.6" x2="413.05" y2="256.6" stroke="#222" stroke-width="1.1"/>
<rect x="401.6" y="259.6" width="14.3" height="70.59999999999997" fill="#24106a" stroke="#222" stroke-width="1.1"/>
<text x="395.90000000000003" y="246.5" font-size="8" font-weight="normal" font-style="normal" text-anchor="middle" fill="#222" stroke="#222" stroke-width="0.2">ns</text>
<line x1="385.6" y1="249.5" x2="407.8" y2="249.5" stroke="#222" stroke-width="1"/>
<text x="386.5" y="339.7" font-size="7.6" font-weight="normal" font-style="normal" text-anchor="end" fill="#222" transform="rotate(-22.5 386.5 339.7)" stroke="#222" stroke-width="0.2">ev</text>
<text x="419.1" y="339.59999999999997" font-size="7.6" font-weight="normal" font-style="normal" text-anchor="end" fill="#222" transform="rotate(-22.5 419.1 339.59999999999997)" stroke="#222" stroke-width="0.2"><tspan font-style="italic">mrps-5</tspan> RNAi</text>
<line x1="384.40000000000003" y1="330.2" x2="384.40000000000003" y2="332.8" stroke="#333" stroke-width="0.8"/>
<line x1="408.7" y1="330.2" x2="408.7" y2="332.8" stroke="#333" stroke-width="0.8"/>
<line x1="458.3" y1="222.4" x2="458.3" y2="330.7" stroke="#333" stroke-width="1"/>
<line x1="457.8" y1="330.2" x2="515.3" y2="330.2" stroke="#333" stroke-width="1"/>
<line x1="455.3" y1="330.2" x2="458.3" y2="330.2" stroke="#333" stroke-width="1"/>
<text x="0" y="0" font-size="7" font-weight="normal" font-style="normal" text-anchor="end" fill="#222" transform="translate(453.3 332.9) scale(1 1.12)" stroke="#222" stroke-width="0.2">0.0</text>
<line x1="455.3" y1="308.64" x2="458.3" y2="308.64" stroke="#333" stroke-width="1"/>
<text x="0" y="0" font-size="7" font-weight="normal" font-style="normal" text-anchor="end" fill="#222" transform="translate(453.3 311.34) scale(1 1.12)" stroke="#222" stroke-width="0.2">0.3</text>
<line x1="455.3" y1="287.08" x2="458.3" y2="287.08" stroke="#333" stroke-width="1"/>
<text x="0" y="0" font-size="7" font-weight="normal" font-style="normal" text-anchor="end" fill="#222" transform="translate(453.3 289.78) scale(1 1.12)" stroke="#222" stroke-width="0.2">0.6</text>
<line x1="455.3" y1="265.52" x2="458.3" y2="265.52" stroke="#333" stroke-width="1"/>
<text x="0" y="0" font-size="7" font-weight="normal" font-style="normal" text-anchor="end" fill="#222" transform="translate(453.3 268.21999999999997) scale(1 1.12)" stroke="#222" stroke-width="0.2">0.9</text>
<line x1="455.3" y1="243.96" x2="458.3" y2="243.96" stroke="#333" stroke-width="1"/>
<text x="0" y="0" font-size="7" font-weight="normal" font-style="normal" text-anchor="end" fill="#222" transform="translate(453.3 246.66) scale(1 1.12)" stroke="#222" stroke-width="0.2">1.2</text>
<line x1="455.3" y1="222.4" x2="458.3" y2="222.4" stroke="#333" stroke-width="1"/>
<text x="0" y="0" font-size="7" font-weight="normal" font-style="normal" text-anchor="end" fill="#222" transform="translate(453.3 225.1) scale(1 1.12)" stroke="#222" stroke-width="0.2">1.5</text>
<text x="438.8" y="277.7" font-size="7.2" font-weight="bold" font-style="normal" text-anchor="middle" fill="#000" transform="rotate(-90 438.8 277.7)">area/perimeter</text>
<line x1="474.45" y1="235.1" x2="474.45" y2="228.2" stroke="#222" stroke-width="1"/>
<line x1="470.15" y1="228.2" x2="478.75" y2="228.2" stroke="#222" stroke-width="1.1"/>
<rect x="467.3" y="235.1" width="14.3" height="95.1" fill="#bcb4d8" stroke="#222" stroke-width="1.1"/>
<line x1="498.75" y1="239.6" x2="498.75" y2="232.1" stroke="#222" stroke-width="1"/>
<line x1="494.45" y1="232.1" x2="503.05" y2="232.1" stroke="#222" stroke-width="1.1"/>
<rect x="491.6" y="239.6" width="14.3" height="90.6" fill="#24106a" stroke="#222" stroke-width="1.1"/>
<text x="485.90000000000003" y="219.9" font-size="8" font-weight="normal" font-style="normal" text-anchor="middle" fill="#222" stroke="#222" stroke-width="0.2">ns</text>
<line x1="475.6" y1="222.9" x2="497.8" y2="222.9" stroke="#222" stroke-width="1"/>
<text x="476.5" y="339.7" font-size="7.6" font-weight="normal" font-style="normal" text-anchor="end" fill="#222" transform="rotate(-22.5 476.5 339.7)" stroke="#222" stroke-width="0.2">ev</text>
<text x="509.1" y="339.59999999999997" font-size="7.6" font-weight="normal" font-style="normal" text-anchor="end" fill="#222" transform="rotate(-22.5 509.1 339.59999999999997)" stroke="#222" stroke-width="0.2"><tspan font-style="italic">mrps-5</tspan> RNAi</text>
<line x1="474.40000000000003" y1="330.2" x2="474.40000000000003" y2="332.8" stroke="#333" stroke-width="0.8"/>
<line x1="498.7" y1="330.2" x2="498.7" y2="332.8" stroke="#333" stroke-width="0.8"/>
</svg></body></html>
